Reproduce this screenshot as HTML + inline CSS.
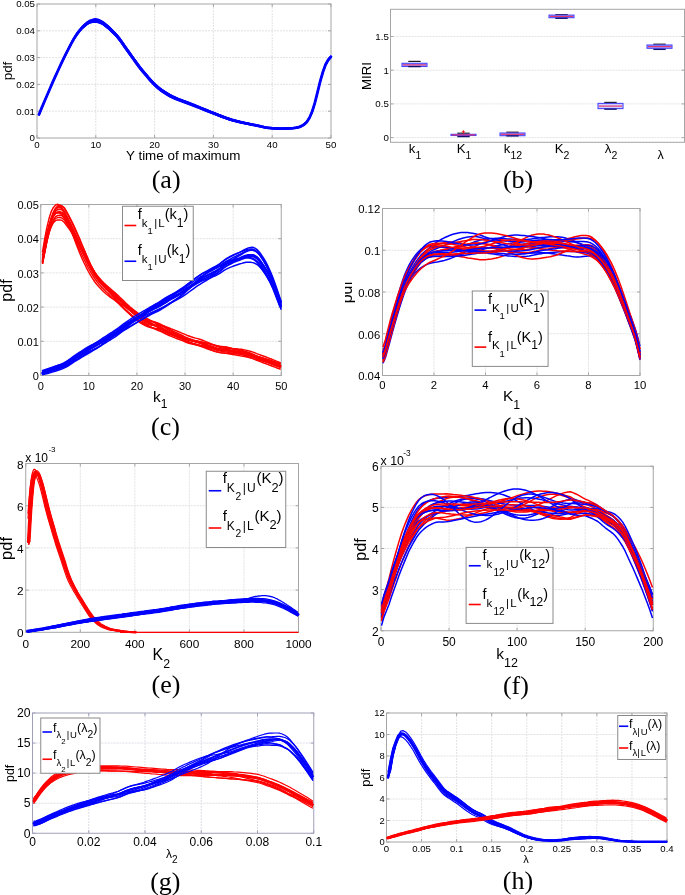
<!DOCTYPE html>
<html><head><meta charset="utf-8"><style>
html,body{margin:0;padding:0;background:#fff;}
svg{display:block;will-change:transform;}
text{fill:#000;}
</style></head><body>
<svg width="685" height="895" viewBox="0 0 685 895">
<rect width="685" height="895" fill="#fff"/>
<line x1="95.8" y1="4" x2="95.8" y2="138" stroke="#e2e2e2" stroke-width="1" stroke-dasharray="2,1"/>
<line x1="154.6" y1="4" x2="154.6" y2="138" stroke="#e2e2e2" stroke-width="1" stroke-dasharray="2,1"/>
<line x1="213.4" y1="4" x2="213.4" y2="138" stroke="#e2e2e2" stroke-width="1" stroke-dasharray="2,1"/>
<line x1="272.2" y1="4" x2="272.2" y2="138" stroke="#e2e2e2" stroke-width="1" stroke-dasharray="2,1"/>
<line x1="37" y1="111.2" x2="331" y2="111.2" stroke="#e2e2e2" stroke-width="1" stroke-dasharray="2,1"/>
<line x1="37" y1="84.4" x2="331" y2="84.4" stroke="#e2e2e2" stroke-width="1" stroke-dasharray="2,1"/>
<line x1="37" y1="57.6" x2="331" y2="57.6" stroke="#e2e2e2" stroke-width="1" stroke-dasharray="2,1"/>
<line x1="37" y1="30.8" x2="331" y2="30.8" stroke="#e2e2e2" stroke-width="1" stroke-dasharray="2,1"/>
<rect x="37" y="4" width="294" height="134" fill="none" stroke="#a6a6a6" stroke-width="1"/>
<line x1="37" y1="138" x2="37" y2="135" stroke="#a6a6a6" stroke-width="1"/>
<line x1="37" y1="4" x2="37" y2="7" stroke="#a6a6a6" stroke-width="1"/>
<line x1="95.8" y1="138" x2="95.8" y2="135" stroke="#a6a6a6" stroke-width="1"/>
<line x1="95.8" y1="4" x2="95.8" y2="7" stroke="#a6a6a6" stroke-width="1"/>
<line x1="154.6" y1="138" x2="154.6" y2="135" stroke="#a6a6a6" stroke-width="1"/>
<line x1="154.6" y1="4" x2="154.6" y2="7" stroke="#a6a6a6" stroke-width="1"/>
<line x1="213.4" y1="138" x2="213.4" y2="135" stroke="#a6a6a6" stroke-width="1"/>
<line x1="213.4" y1="4" x2="213.4" y2="7" stroke="#a6a6a6" stroke-width="1"/>
<line x1="272.2" y1="138" x2="272.2" y2="135" stroke="#a6a6a6" stroke-width="1"/>
<line x1="272.2" y1="4" x2="272.2" y2="7" stroke="#a6a6a6" stroke-width="1"/>
<line x1="331" y1="138" x2="331" y2="135" stroke="#a6a6a6" stroke-width="1"/>
<line x1="331" y1="4" x2="331" y2="7" stroke="#a6a6a6" stroke-width="1"/>
<line x1="37" y1="138" x2="40" y2="138" stroke="#a6a6a6" stroke-width="1"/>
<line x1="331" y1="138" x2="328" y2="138" stroke="#a6a6a6" stroke-width="1"/>
<line x1="37" y1="111.2" x2="40" y2="111.2" stroke="#a6a6a6" stroke-width="1"/>
<line x1="331" y1="111.2" x2="328" y2="111.2" stroke="#a6a6a6" stroke-width="1"/>
<line x1="37" y1="84.4" x2="40" y2="84.4" stroke="#a6a6a6" stroke-width="1"/>
<line x1="331" y1="84.4" x2="328" y2="84.4" stroke="#a6a6a6" stroke-width="1"/>
<line x1="37" y1="57.6" x2="40" y2="57.6" stroke="#a6a6a6" stroke-width="1"/>
<line x1="331" y1="57.6" x2="328" y2="57.6" stroke="#a6a6a6" stroke-width="1"/>
<line x1="37" y1="30.8" x2="40" y2="30.8" stroke="#a6a6a6" stroke-width="1"/>
<line x1="331" y1="30.8" x2="328" y2="30.8" stroke="#a6a6a6" stroke-width="1"/>
<line x1="37" y1="4" x2="40" y2="4" stroke="#a6a6a6" stroke-width="1"/>
<line x1="331" y1="4" x2="328" y2="4" stroke="#a6a6a6" stroke-width="1"/>
<path d="M39.0,114.5 41.7,107.9 44.4,101.5 47.1,95.2 49.8,89.0 52.4,82.9 55.1,76.9 57.8,71.0 60.5,65.2 63.1,59.6 65.8,54.1 68.5,48.8 71.2,43.6 73.9,38.8 76.5,34.7 79.2,31.1 81.9,27.9 84.6,25.4 87.2,23.2 89.9,21.6 92.6,20.8 95.3,20.4 98.0,20.8 100.6,21.9 103.3,23.5 106.0,25.5 108.7,27.8 111.3,30.3 114.0,32.9 116.7,35.8 119.4,39.0 122.1,42.8 124.7,46.6 127.4,50.4 130.1,54.2 132.8,58.0 135.4,61.7 138.1,65.3 140.8,68.8 143.5,72.1 146.2,75.2 148.8,78.3 151.5,81.3 154.2,84.1 156.9,86.6 159.5,88.9 162.2,90.8 164.9,92.6 167.6,94.3 170.2,95.9 172.9,97.2 175.6,98.4 178.3,99.5 181.0,100.5 183.6,101.5 186.3,102.4 189.0,103.4 191.7,104.5 194.3,105.5 197.0,106.6 199.7,107.7 202.4,108.8 205.1,109.9 207.7,110.9 210.4,112.0 213.1,113.0 215.8,114.0 218.4,115.1 221.1,116.1 223.8,117.2 226.5,118.1 229.2,119.1 231.8,119.9 234.5,120.6 237.2,121.3 239.9,122.0 242.5,122.6 245.2,123.2 247.9,123.7 250.6,124.3 253.3,124.8 255.9,125.3 258.6,125.9 261.3,126.5 264.0,127.1 266.6,127.6 269.3,127.9 272.0,128.2 274.7,128.4 277.3,128.5 280.0,128.6 282.7,128.6 285.4,128.5 288.1,128.4 290.7,128.3 293.4,128.1 296.1,127.7 298.8,127.2 301.4,126.1 304.1,124.5 306.8,121.9 309.5,117.8 312.2,111.5 314.8,103.2 317.5,92.3 320.2,81.4 322.9,72.0 325.5,64.8 328.2,59.9 330.9,56.8" fill="none" stroke="#0000ff" stroke-width="2.8" stroke-linejoin="round" stroke-linecap="round"/>
<path d="M39.0,115.2 41.7,108.7 44.4,102.2 47.1,95.9 49.8,89.6 52.4,83.5 55.1,77.4 57.8,71.4 60.5,65.4 63.1,59.5 65.8,53.7 68.5,48.1 71.2,42.7 73.9,37.7 76.5,33.6 79.2,29.9 81.9,26.7 84.6,24.0 87.2,21.8 89.9,20.1 92.6,19.2 95.3,18.7 98.0,19.1 100.6,20.2 103.3,21.8 106.0,23.9 108.7,26.3 111.3,28.9 114.0,31.7 116.7,34.7 119.4,38.1 122.1,42.0 124.7,45.9 127.4,49.8 130.1,53.7 132.8,57.5 135.4,61.2 138.1,64.9 140.8,68.4 143.5,71.7 146.2,74.8 148.8,77.9 151.5,80.9 154.2,83.7 156.9,86.2 159.5,88.5 162.2,90.4 164.9,92.2 167.6,94.0 170.2,95.6 172.9,97.0 175.6,98.3 178.3,99.4 181.0,100.5 183.6,101.5 186.3,102.6 189.0,103.6 191.7,104.7 194.3,105.9 197.0,107.0 199.7,108.2 202.4,109.4 205.1,110.5 207.7,111.7 210.4,112.8 213.1,113.9 215.8,115.0 218.4,116.0 221.1,117.1 223.8,118.1 226.5,119.0 229.2,119.9 231.8,120.7 234.5,121.4 237.2,122.0 239.9,122.6 242.5,123.1 245.2,123.7 247.9,124.2 250.6,124.7 253.3,125.2 255.9,125.7 258.6,126.2 261.3,126.8 264.0,127.4 266.6,128.0 269.3,128.4 272.0,128.6 274.7,128.9 277.3,129.0 280.0,129.2 282.7,129.2 285.4,129.2 288.1,129.1 290.7,128.9 293.4,128.7 296.1,128.4 298.8,127.8 301.4,126.8 304.1,125.2 306.8,122.7 309.5,118.6 312.2,112.4 314.8,104.2 317.5,93.3 320.2,82.4 322.9,73.1 325.5,66.0 328.2,61.0 330.9,57.9" fill="none" stroke="#0000ff" stroke-width="1.2" stroke-linejoin="round"/>
<path d="M39.0,114.4 41.7,107.9 44.4,101.4 47.1,95.0 49.8,88.8 52.4,82.6 55.1,76.5 57.8,70.6 60.5,64.7 63.1,59.0 65.8,53.6 68.5,48.2 71.2,43.0 73.9,38.2 76.5,34.2 79.2,30.5 81.9,27.3 84.6,24.8 87.2,22.6 89.9,20.9 92.6,20.0 95.3,19.5 98.0,19.9 100.6,20.9 103.3,22.4 106.0,24.4 108.7,26.5 111.3,29.0 114.0,31.6 116.7,34.4 119.4,37.6 122.1,41.4 124.7,45.2 127.4,49.0 130.1,52.7 132.8,56.5 135.4,60.2 138.1,63.8 140.8,67.3 143.5,70.6 146.2,73.7 148.8,76.8 151.5,79.8 154.2,82.6 156.9,85.2 159.5,87.4 162.2,89.4 164.9,91.2 167.6,93.0 170.2,94.7 172.9,96.1 175.6,97.3 178.3,98.5 181.0,99.6 183.6,100.6 186.3,101.6 189.0,102.6 191.7,103.7 194.3,104.8 197.0,105.9 199.7,107.0 202.4,108.1 205.1,109.1 207.7,110.2 210.4,111.2 213.1,112.2 215.8,113.3 218.4,114.4 221.1,115.4 223.8,116.5 226.5,117.5 229.2,118.5 231.8,119.3 234.5,120.1 237.2,120.8 239.9,121.5 242.5,122.2 245.2,122.8 247.9,123.4 250.6,123.9 253.3,124.5 255.9,125.1 258.6,125.7 261.3,126.3 264.0,126.9 266.6,127.4 269.3,127.8 272.0,128.1 274.7,128.3 277.3,128.5 280.0,128.6 282.7,128.6 285.4,128.5 288.1,128.4 290.7,128.3 293.4,128.1 296.1,127.8 298.8,127.2 301.4,126.2 304.1,124.5 306.8,121.9 309.5,117.9 312.2,111.5 314.8,103.3 317.5,92.3 320.2,81.4 322.9,72.0 325.5,64.8 328.2,59.8 330.9,56.7" fill="none" stroke="#0000ff" stroke-width="1.2" stroke-linejoin="round"/>
<path d="M39.0,114.5 41.7,108.0 44.4,101.5 47.1,95.2 49.8,89.0 52.4,82.9 55.1,76.9 57.8,71.0 60.5,65.2 63.1,59.5 65.8,53.9 68.5,48.5 71.2,43.2 73.9,38.3 76.5,34.2 79.2,30.5 81.9,27.3 84.6,24.7 87.2,22.4 89.9,20.7 92.6,19.8 95.3,19.2 98.0,19.6 100.6,20.6 103.3,22.1 106.0,24.1 108.7,26.3 111.3,28.8 114.0,31.5 116.7,34.4 119.4,37.7 122.1,41.6 124.7,45.5 127.4,49.3 130.1,53.1 132.8,56.9 135.4,60.7 138.1,64.3 140.8,67.8 143.5,71.1 146.2,74.2 148.8,77.3 151.5,80.3 154.2,83.0 156.9,85.6 159.5,87.8 162.2,89.8 164.9,91.5 167.6,93.3 170.2,94.9 172.9,96.3 175.6,97.5 178.3,98.7 181.0,99.8 183.6,100.9 186.3,101.9 189.0,103.0 191.7,104.1 194.3,105.3 197.0,106.4 199.7,107.6 202.4,108.8 205.1,110.0 207.7,111.1 210.4,112.3 213.1,113.4 215.8,114.6 218.4,115.7 221.1,116.9 223.8,118.0 226.5,119.0 229.2,119.9 231.8,120.8 234.5,121.5 237.2,122.2 239.9,122.9 242.5,123.4 245.2,124.0 247.9,124.5 250.6,125.0 253.3,125.4 255.9,125.9 258.6,126.4 261.3,126.9 264.0,127.3 266.6,127.7 269.3,128.0 272.0,128.1 274.7,128.3 277.3,128.4 280.0,128.4 282.7,128.4 285.4,128.3 288.1,128.2 290.7,128.1 293.4,127.9 296.1,127.5 298.8,126.9 301.4,125.8 304.1,124.2 306.8,121.6 309.5,117.5 312.2,111.2 314.8,103.0 317.5,92.1 320.2,81.2 322.9,71.9 325.5,64.8 328.2,59.9 330.9,56.8" fill="none" stroke="#0000ff" stroke-width="1.2" stroke-linejoin="round"/>
<path d="M39.0,114.3 41.7,107.8 44.4,101.4 47.1,95.1 49.8,88.9 52.4,82.9 55.1,77.0 57.8,71.2 60.5,65.6 63.1,60.1 65.8,54.7 68.5,49.5 71.2,44.4 73.9,39.7 76.5,35.8 79.2,32.2 81.9,29.1 84.6,26.7 87.2,24.6 89.9,23.1 92.6,22.4 95.3,22.1 98.0,22.6 100.6,23.6 103.3,25.1 106.0,27.2 108.7,29.4 111.3,31.8 114.0,34.4 116.7,37.2 119.4,40.4 122.1,44.0 124.7,47.7 127.4,51.4 130.1,55.1 132.8,58.7 135.4,62.3 138.1,65.7 140.8,69.1 143.5,72.2 146.2,75.3 148.8,78.2 151.5,81.0 154.2,83.6 156.9,85.9 159.5,88.0 162.2,89.8 164.9,91.5 167.6,93.1 170.2,94.6 172.9,95.9 175.6,97.1 178.3,98.2 181.0,99.2 183.6,100.2 186.3,101.2 189.0,102.2 191.7,103.3 194.3,104.4 197.0,105.5 199.7,106.6 202.4,107.7 205.1,108.8 207.7,109.9 210.4,111.0 213.1,112.1 215.8,113.3 218.4,114.4 221.1,115.6 223.8,116.7 226.5,117.8 229.2,118.8 231.8,119.7 234.5,120.6 237.2,121.3 239.9,122.0 242.5,122.7 245.2,123.3 247.9,123.9 250.6,124.4 253.3,125.0 255.9,125.5 258.6,126.1 261.3,126.7 264.0,127.3 266.6,127.7 269.3,128.0 272.0,128.2 274.7,128.4 277.3,128.5 280.0,128.6 282.7,128.5 285.4,128.5 288.1,128.3 290.7,128.2 293.4,128.0 296.1,127.6 298.8,127.0 301.4,125.9 304.1,124.2 306.8,121.6 309.5,117.4 312.2,111.1 314.8,102.8 317.5,91.8 320.2,80.9 322.9,71.5 325.5,64.4 328.2,59.5 330.9,56.4" fill="none" stroke="#0000ff" stroke-width="1.2" stroke-linejoin="round"/>
<path d="M39.0,113.8 41.7,107.3 44.4,100.8 47.1,94.4 49.8,88.2 52.4,82.1 55.1,76.0 57.8,70.2 60.5,64.4 63.1,58.9 65.8,53.5 68.5,48.3 71.2,43.2 73.9,38.5 76.5,34.5 79.2,30.9 81.9,27.8 84.6,25.2 87.2,23.1 89.9,21.4 92.6,20.6 95.3,20.1 98.0,20.4 100.6,21.4 103.3,22.8 106.0,24.7 108.7,26.8 111.3,29.1 114.0,31.7 116.7,34.4 119.4,37.6 122.1,41.3 124.7,45.1 127.4,48.9 130.1,52.7 132.8,56.5 135.4,60.2 138.1,63.9 140.8,67.5 143.5,70.9 146.2,74.1 148.8,77.3 151.5,80.4 154.2,83.3 156.9,86.0 159.5,88.4 162.2,90.4 164.9,92.3 167.6,94.1 170.2,95.8 172.9,97.2 175.6,98.4 178.3,99.5 181.0,100.5 183.6,101.5 186.3,102.5 189.0,103.5 191.7,104.5 194.3,105.5 197.0,106.5 199.7,107.6 202.4,108.6 205.1,109.6 207.7,110.6 210.4,111.5 213.1,112.5 215.8,113.5 218.4,114.5 221.1,115.5 223.8,116.5 226.5,117.5 229.2,118.4 231.8,119.2 234.5,120.0 237.2,120.7 239.9,121.4 242.5,122.1 245.2,122.7 247.9,123.3 250.6,123.9 253.3,124.4 255.9,125.0 258.6,125.6 261.3,126.3 264.0,126.9 266.6,127.4 269.3,127.8 272.0,128.0 274.7,128.2 277.3,128.4 280.0,128.5 282.7,128.5 285.4,128.4 288.1,128.3 290.7,128.1 293.4,127.9 296.1,127.5 298.8,126.9 301.4,125.8 304.1,124.0 306.8,121.4 309.5,117.2 312.2,110.8 314.8,102.4 317.5,91.4 320.2,80.4 322.9,70.9 325.5,63.7 328.2,58.8 330.9,55.6" fill="none" stroke="#0000ff" stroke-width="1.2" stroke-linejoin="round"/>
<path d="M39.0,114.2 41.7,107.6 44.4,101.2 47.1,94.9 49.8,88.7 52.4,82.6 55.1,76.6 57.8,70.8 60.5,65.2 63.1,59.7 65.8,54.4 68.5,49.2 71.2,44.1 73.9,39.4 76.5,35.5 79.2,31.9 81.9,28.9 84.6,26.4 87.2,24.4 89.9,22.9 92.6,22.2 95.3,21.8 98.0,22.3 100.6,23.3 103.3,24.8 106.0,26.8 108.7,29.0 111.3,31.4 114.0,34.0 116.7,36.7 119.4,39.9 122.1,43.5 124.7,47.3 127.4,51.0 130.1,54.6 132.8,58.3 135.4,61.9 138.1,65.5 140.8,68.9 143.5,72.2 146.2,75.3 148.8,78.4 151.5,81.4 154.2,84.1 156.9,86.6 159.5,88.9 162.2,90.9 164.9,92.6 167.6,94.4 170.2,96.0 172.9,97.3 175.6,98.5 178.3,99.7 181.0,100.7 183.6,101.7 186.3,102.7 189.0,103.7 191.7,104.8 194.3,105.8 197.0,106.9 199.7,108.0 202.4,109.1 205.1,110.2 207.7,111.3 210.4,112.4 213.1,113.4 215.8,114.5 218.4,115.5 221.1,116.6 223.8,117.6 226.5,118.6 229.2,119.5 231.8,120.3 234.5,121.1 237.2,121.8 239.9,122.4 242.5,123.1 245.2,123.7 247.9,124.3 250.6,124.8 253.3,125.4 255.9,126.0 258.6,126.6 261.3,127.2 264.0,127.8 266.6,128.3 269.3,128.6 272.0,128.8 274.7,129.0 277.3,129.1 280.0,129.1 282.7,129.0 285.4,128.9 288.1,128.7 290.7,128.5 293.4,128.3 296.1,127.9 298.8,127.3 301.4,126.2 304.1,124.5 306.8,121.9 309.5,117.8 312.2,111.4 314.8,103.1 317.5,92.1 320.2,81.1 322.9,71.6 325.5,64.4 328.2,59.5 330.9,56.3" fill="none" stroke="#0000ff" stroke-width="1.2" stroke-linejoin="round"/>
<path d="M39.0,114.6 41.7,108.1 44.4,101.7 47.1,95.5 49.8,89.4 52.4,83.4 55.1,77.5 57.8,71.8 60.5,66.1 63.1,60.5 65.8,55.0 68.5,49.6 71.2,44.3 73.9,39.4 76.5,35.2 79.2,31.5 81.9,28.1 84.6,25.5 87.2,23.2 89.9,21.5 92.6,20.5 95.3,20.0 98.0,20.3 100.6,21.3 103.3,22.7 106.0,24.8 108.7,27.0 111.3,29.5 114.0,32.3 116.7,35.3 119.4,38.7 122.1,42.6 124.7,46.7 127.4,50.6 130.1,54.5 132.8,58.4 135.4,62.2 138.1,65.9 140.8,69.5 143.5,72.9 146.2,76.2 148.8,79.3 151.5,82.4 154.2,85.1 156.9,87.7 159.5,89.9 162.2,91.8 164.9,93.5 167.6,95.2 170.2,96.7 172.9,97.9 175.6,99.0 178.3,100.1 181.0,101.0 183.6,101.9 186.3,102.7 189.0,103.6 191.7,104.6 194.3,105.5 197.0,106.5 199.7,107.5 202.4,108.4 205.1,109.4 207.7,110.3 210.4,111.3 213.1,112.2 215.8,113.2 218.4,114.2 221.1,115.2 223.8,116.2 226.5,117.2 229.2,118.1 231.8,119.0 234.5,119.8 237.2,120.5 239.9,121.1 242.5,121.8 245.2,122.4 247.9,122.9 250.6,123.5 253.3,124.0 255.9,124.6 258.6,125.2 261.3,125.8 264.0,126.4 266.6,126.9 269.3,127.3 272.0,127.5 274.7,127.7 277.3,127.8 280.0,127.9 282.7,127.9 285.4,127.9 288.1,127.8 290.7,127.7 293.4,127.5 296.1,127.1 298.8,126.5 301.4,125.5 304.1,123.8 306.8,121.2 309.5,117.2 312.2,110.9 314.8,102.7 317.5,91.9 320.2,81.1 322.9,71.8 325.5,64.8 328.2,60.0 330.9,57.0" fill="none" stroke="#0000ff" stroke-width="1.2" stroke-linejoin="round"/>
<path d="M39.0,114.4 41.7,107.8 44.4,101.4 47.1,95.0 49.8,88.7 52.4,82.6 55.1,76.6 57.8,70.7 60.5,64.9 63.1,59.3 65.8,53.9 68.5,48.6 71.2,43.5 73.9,38.8 76.5,34.8 79.2,31.3 81.9,28.2 84.6,25.8 87.2,23.8 89.9,22.3 92.6,21.6 95.3,21.3 98.0,21.8 100.6,23.0 103.3,24.6 106.0,26.8 108.7,29.0 111.3,31.6 114.0,34.3 116.7,37.2 119.4,40.5 122.1,44.3 124.7,48.1 127.4,51.9 130.1,55.7 132.8,59.5 135.4,63.2 138.1,66.8 140.8,70.3 143.5,73.6 146.2,76.7 148.8,79.8 151.5,82.8 154.2,85.5 156.9,88.1 159.5,90.3 162.2,92.2 164.9,94.0 167.6,95.7 170.2,97.2 172.9,98.5 175.6,99.7 178.3,100.8 181.0,101.8 183.6,102.7 186.3,103.7 189.0,104.6 191.7,105.7 194.3,106.7 197.0,107.8 199.7,108.8 202.4,109.9 205.1,111.0 207.7,112.0 210.4,113.0 213.1,114.0 215.8,114.9 218.4,115.9 221.1,116.9 223.8,117.8 226.5,118.7 229.2,119.6 231.8,120.3 234.5,121.0 237.2,121.7 239.9,122.3 242.5,122.8 245.2,123.4 247.9,124.0 250.6,124.5 253.3,125.0 255.9,125.6 258.6,126.2 261.3,126.8 264.0,127.4 266.6,127.9 269.3,128.3 272.0,128.6 274.7,128.8 277.3,128.9 280.0,129.0 282.7,129.0 285.4,128.9 288.1,128.7 290.7,128.6 293.4,128.4 296.1,128.0 298.8,127.4 301.4,126.3 304.1,124.6 306.8,122.1 309.5,118.0 312.2,111.6 314.8,103.3 317.5,92.4 320.2,81.5 322.9,72.0 325.5,64.9 328.2,59.9 330.9,56.7" fill="none" stroke="#0000ff" stroke-width="1.2" stroke-linejoin="round"/>
<text x="35" y="141.4" font-size="9.7" text-anchor="end" font-family='"Liberation Sans", sans-serif' >0</text>
<text x="35" y="114.59" font-size="9.7" text-anchor="end" font-family='"Liberation Sans", sans-serif' >0.01</text>
<text x="35" y="87.8" font-size="9.7" text-anchor="end" font-family='"Liberation Sans", sans-serif' >0.02</text>
<text x="35" y="61" font-size="9.7" text-anchor="end" font-family='"Liberation Sans", sans-serif' >0.03</text>
<text x="35" y="34.19" font-size="9.7" text-anchor="end" font-family='"Liberation Sans", sans-serif' >0.04</text>
<text x="35" y="7.39" font-size="9.7" text-anchor="end" font-family='"Liberation Sans", sans-serif' >0.05</text>
<text x="37" y="148.29" font-size="9.7" text-anchor="middle" font-family='"Liberation Sans", sans-serif' >0</text>
<text x="95.8" y="148.29" font-size="9.7" text-anchor="middle" font-family='"Liberation Sans", sans-serif' >10</text>
<text x="154.6" y="148.29" font-size="9.7" text-anchor="middle" font-family='"Liberation Sans", sans-serif' >20</text>
<text x="213.4" y="148.29" font-size="9.7" text-anchor="middle" font-family='"Liberation Sans", sans-serif' >30</text>
<text x="272.2" y="148.29" font-size="9.7" text-anchor="middle" font-family='"Liberation Sans", sans-serif' >40</text>
<text x="331" y="148.29" font-size="9.7" text-anchor="middle" font-family='"Liberation Sans", sans-serif' >50</text>
<text transform="translate(12,71) rotate(-90)" font-size="13.4" text-anchor="middle" font-family='"Liberation Sans", sans-serif'>pdf</text>
<text x="183.2" y="160.4" font-size="13.4" text-anchor="middle" font-family='"Liberation Sans", sans-serif' >Y time of maximum</text>
<text x="151.71" y="187.84" font-size="26" text-anchor="start" font-family='"Liberation Serif", serif' >(a)</text>
<line x1="390.5" y1="137.6" x2="684.5" y2="137.6" stroke="#e2e2e2" stroke-width="1" stroke-dasharray="2,1"/>
<line x1="390.5" y1="103.9" x2="684.5" y2="103.9" stroke="#e2e2e2" stroke-width="1" stroke-dasharray="2,1"/>
<line x1="390.5" y1="70.2" x2="684.5" y2="70.2" stroke="#e2e2e2" stroke-width="1" stroke-dasharray="2,1"/>
<line x1="390.5" y1="36.5" x2="684.5" y2="36.5" stroke="#e2e2e2" stroke-width="1" stroke-dasharray="2,1"/>
<rect x="390.5" y="9.3" width="294" height="133" fill="none" stroke="#a6a6a6" stroke-width="1"/>
<line x1="390.5" y1="137.6" x2="393.5" y2="137.6" stroke="#a6a6a6" stroke-width="1"/>
<line x1="684.5" y1="137.6" x2="681.5" y2="137.6" stroke="#a6a6a6" stroke-width="1"/>
<line x1="390.5" y1="103.9" x2="393.5" y2="103.9" stroke="#a6a6a6" stroke-width="1"/>
<line x1="684.5" y1="103.9" x2="681.5" y2="103.9" stroke="#a6a6a6" stroke-width="1"/>
<line x1="390.5" y1="70.2" x2="393.5" y2="70.2" stroke="#a6a6a6" stroke-width="1"/>
<line x1="684.5" y1="70.2" x2="681.5" y2="70.2" stroke="#a6a6a6" stroke-width="1"/>
<line x1="390.5" y1="36.5" x2="393.5" y2="36.5" stroke="#a6a6a6" stroke-width="1"/>
<line x1="684.5" y1="36.5" x2="681.5" y2="36.5" stroke="#a6a6a6" stroke-width="1"/>
<line x1="408.3" y1="61.4" x2="420.7" y2="61.4" stroke="#1a1a1a" stroke-width="1.2"/>
<rect x="402" y="63.3" width="25" height="3.2" fill="#a8a8ff" stroke="#4848ff" stroke-width="1.1"/>
<line x1="408.3" y1="66.6" x2="420.7" y2="66.6" stroke="#10106a" stroke-width="1.3"/>
<line x1="402.8" y1="64.9" x2="426.2" y2="64.9" stroke="#e83068" stroke-width="1.1"/>
<line x1="457.3" y1="133.2" x2="469.7" y2="133.2" stroke="#1a1a1a" stroke-width="1.2"/>
<rect x="451" y="134.3" width="25" height="1.2" fill="#7030c0" stroke="#4848ff" stroke-width="1.1"/>
<line x1="457.3" y1="136.6" x2="469.7" y2="136.6" stroke="#10106a" stroke-width="1.3"/>
<line x1="451.8" y1="134.9" x2="475.2" y2="134.9" stroke="#e83068" stroke-width="1.1"/>
<line x1="506.3" y1="132.2" x2="518.7" y2="132.2" stroke="#1a1a1a" stroke-width="1.2"/>
<rect x="500" y="133" width="25" height="2.7" fill="#a8a8ff" stroke="#4848ff" stroke-width="1.1"/>
<line x1="506.3" y1="135.9" x2="518.7" y2="135.9" stroke="#10106a" stroke-width="1.3"/>
<line x1="500.8" y1="134.3" x2="524.2" y2="134.3" stroke="#e83068" stroke-width="1.1"/>
<line x1="555.3" y1="14.6" x2="567.7" y2="14.6" stroke="#1a1a1a" stroke-width="1.2"/>
<rect x="549" y="15.1" width="25" height="2.6" fill="#a8a8ff" stroke="#4848ff" stroke-width="1.1"/>
<line x1="555.3" y1="18.3" x2="567.7" y2="18.3" stroke="#10106a" stroke-width="1.3"/>
<line x1="549.8" y1="16.4" x2="573.2" y2="16.4" stroke="#e83068" stroke-width="1.1"/>
<line x1="604.3" y1="102.4" x2="616.7" y2="102.4" stroke="#1a1a1a" stroke-width="1.2"/>
<rect x="598" y="103.4" width="25" height="5.2" fill="#d0d0ff" stroke="#4848ff" stroke-width="1.1"/>
<line x1="604.3" y1="109.2" x2="616.7" y2="109.2" stroke="#10106a" stroke-width="1.3"/>
<line x1="598.8" y1="106.1" x2="622.2" y2="106.1" stroke="#e83068" stroke-width="1.1"/>
<line x1="653.3" y1="44.2" x2="665.7" y2="44.2" stroke="#1a1a1a" stroke-width="1.2"/>
<rect x="647" y="45" width="25" height="3.3" fill="#a8a8ff" stroke="#4848ff" stroke-width="1.1"/>
<line x1="653.3" y1="49.4" x2="665.7" y2="49.4" stroke="#10106a" stroke-width="1.3"/>
<line x1="647.8" y1="46.6" x2="671.2" y2="46.6" stroke="#e83068" stroke-width="1.1"/>
<path d="M463.4,130.3 v3 M461.9,131.8 h3" stroke="#ff0000" stroke-width="0.9"/>
<text x="388.8" y="141" font-size="9.7" text-anchor="end" font-family='"Liberation Sans", sans-serif' >0</text>
<text x="388.8" y="107.29" font-size="9.7" text-anchor="end" font-family='"Liberation Sans", sans-serif' >0.5</text>
<text x="388.8" y="73.59" font-size="9.7" text-anchor="end" font-family='"Liberation Sans", sans-serif' >1</text>
<text x="388.8" y="39.89" font-size="9.7" text-anchor="end" font-family='"Liberation Sans", sans-serif' >1.5</text>
<text transform="translate(371.2,76.05) rotate(-90)" font-size="13.3" text-anchor="middle" font-family='"Liberation Sans", sans-serif'>MIRI</text>
<text x="415" y="153.1" font-size="13.2" font-family='"Liberation Sans", sans-serif' text-anchor="middle">k<tspan font-size="10.5" dy="6.2">1</tspan></text>
<text x="464" y="153.1" font-size="13.2" font-family='"Liberation Sans", sans-serif' text-anchor="middle">K<tspan font-size="10.5" dy="6.2">1</tspan></text>
<text x="513" y="153.1" font-size="13.2" font-family='"Liberation Sans", sans-serif' text-anchor="middle">k<tspan font-size="10.5" dy="6.2">12</tspan></text>
<text x="562" y="153.1" font-size="13.2" font-family='"Liberation Sans", sans-serif' text-anchor="middle">K<tspan font-size="10.5" dy="6.2">2</tspan></text>
<text x="611" y="153.1" font-size="13.2" font-family='"Liberation Sans", sans-serif' text-anchor="middle">λ<tspan font-size="10.5" dy="6.2">2</tspan></text>
<text x="660.5" y="158.7" font-size="12.5" text-anchor="middle" font-family='"Liberation Sans", sans-serif' >λ</text>
<text x="502.96" y="187.84" font-size="26" text-anchor="start" font-family='"Liberation Serif", serif' >(b)</text>
<line x1="88.85" y1="204.5" x2="88.85" y2="375.5" stroke="#e2e2e2" stroke-width="1" stroke-dasharray="2,1"/>
<line x1="136.95" y1="204.5" x2="136.95" y2="375.5" stroke="#e2e2e2" stroke-width="1" stroke-dasharray="2,1"/>
<line x1="185.05" y1="204.5" x2="185.05" y2="375.5" stroke="#e2e2e2" stroke-width="1" stroke-dasharray="2,1"/>
<line x1="233.15" y1="204.5" x2="233.15" y2="375.5" stroke="#e2e2e2" stroke-width="1" stroke-dasharray="2,1"/>
<line x1="40.75" y1="341.3" x2="281.25" y2="341.3" stroke="#e2e2e2" stroke-width="1" stroke-dasharray="2,1"/>
<line x1="40.75" y1="307.1" x2="281.25" y2="307.1" stroke="#e2e2e2" stroke-width="1" stroke-dasharray="2,1"/>
<line x1="40.75" y1="272.9" x2="281.25" y2="272.9" stroke="#e2e2e2" stroke-width="1" stroke-dasharray="2,1"/>
<line x1="40.75" y1="238.7" x2="281.25" y2="238.7" stroke="#e2e2e2" stroke-width="1" stroke-dasharray="2,1"/>
<rect x="40.75" y="204.5" width="240.5" height="171" fill="none" stroke="#a6a6a6" stroke-width="1"/>
<line x1="40.75" y1="375.5" x2="40.75" y2="372.5" stroke="#a6a6a6" stroke-width="1"/>
<line x1="40.75" y1="204.5" x2="40.75" y2="207.5" stroke="#a6a6a6" stroke-width="1"/>
<line x1="88.85" y1="375.5" x2="88.85" y2="372.5" stroke="#a6a6a6" stroke-width="1"/>
<line x1="88.85" y1="204.5" x2="88.85" y2="207.5" stroke="#a6a6a6" stroke-width="1"/>
<line x1="136.95" y1="375.5" x2="136.95" y2="372.5" stroke="#a6a6a6" stroke-width="1"/>
<line x1="136.95" y1="204.5" x2="136.95" y2="207.5" stroke="#a6a6a6" stroke-width="1"/>
<line x1="185.05" y1="375.5" x2="185.05" y2="372.5" stroke="#a6a6a6" stroke-width="1"/>
<line x1="185.05" y1="204.5" x2="185.05" y2="207.5" stroke="#a6a6a6" stroke-width="1"/>
<line x1="233.15" y1="375.5" x2="233.15" y2="372.5" stroke="#a6a6a6" stroke-width="1"/>
<line x1="233.15" y1="204.5" x2="233.15" y2="207.5" stroke="#a6a6a6" stroke-width="1"/>
<line x1="281.25" y1="375.5" x2="281.25" y2="372.5" stroke="#a6a6a6" stroke-width="1"/>
<line x1="281.25" y1="204.5" x2="281.25" y2="207.5" stroke="#a6a6a6" stroke-width="1"/>
<line x1="40.75" y1="375.5" x2="43.75" y2="375.5" stroke="#a6a6a6" stroke-width="1"/>
<line x1="281.25" y1="375.5" x2="278.25" y2="375.5" stroke="#a6a6a6" stroke-width="1"/>
<line x1="40.75" y1="341.3" x2="43.75" y2="341.3" stroke="#a6a6a6" stroke-width="1"/>
<line x1="281.25" y1="341.3" x2="278.25" y2="341.3" stroke="#a6a6a6" stroke-width="1"/>
<line x1="40.75" y1="307.1" x2="43.75" y2="307.1" stroke="#a6a6a6" stroke-width="1"/>
<line x1="281.25" y1="307.1" x2="278.25" y2="307.1" stroke="#a6a6a6" stroke-width="1"/>
<line x1="40.75" y1="272.9" x2="43.75" y2="272.9" stroke="#a6a6a6" stroke-width="1"/>
<line x1="281.25" y1="272.9" x2="278.25" y2="272.9" stroke="#a6a6a6" stroke-width="1"/>
<line x1="40.75" y1="238.7" x2="43.75" y2="238.7" stroke="#a6a6a6" stroke-width="1"/>
<line x1="281.25" y1="238.7" x2="278.25" y2="238.7" stroke="#a6a6a6" stroke-width="1"/>
<line x1="40.75" y1="204.5" x2="43.75" y2="204.5" stroke="#a6a6a6" stroke-width="1"/>
<line x1="281.25" y1="204.5" x2="278.25" y2="204.5" stroke="#a6a6a6" stroke-width="1"/>
<path d="M42.5,262.0 44.7,248.5 46.9,237.0 49.1,227.8 51.2,220.9 53.4,216.1 55.6,213.1 57.8,212.1 60.0,211.8 62.2,212.8 64.4,215.2 66.5,218.9 68.7,222.6 70.9,226.8 73.1,231.3 75.3,236.0 77.5,240.8 79.7,245.7 81.8,250.5 84.0,255.2 86.2,260.0 88.4,264.5 90.6,268.5 92.8,272.3 94.9,275.8 97.1,278.8 99.3,281.6 101.5,284.1 103.7,286.4 105.9,288.5 108.1,290.4 110.2,292.2 112.4,294.2 114.6,296.1 116.8,298.0 119.0,300.0 121.2,302.1 123.4,304.3 125.5,306.4 127.7,308.4 129.9,310.4 132.1,312.3 134.3,314.0 136.5,315.8 138.7,317.4 140.8,318.9 143.0,320.3 145.2,321.6 147.4,322.7 149.6,323.7 151.8,324.6 154.0,325.3 156.1,326.1 158.3,327.0 160.5,327.9 162.7,328.9 164.9,329.9 167.1,331.0 169.2,332.0 171.4,332.9 173.6,333.8 175.8,334.7 178.0,335.6 180.2,336.4 182.4,337.3 184.5,338.3 186.7,339.1 188.9,339.9 191.1,340.6 193.3,341.2 195.5,341.8 197.7,342.3 199.8,343.0 202.0,343.7 204.2,344.5 206.4,345.3 208.6,346.0 210.8,346.8 213.0,347.5 215.1,348.3 217.3,348.9 219.5,349.4 221.7,349.7 223.9,350.0 226.1,350.3 228.3,350.5 230.4,350.8 232.6,351.1 234.8,351.5 237.0,351.8 239.2,352.2 241.4,352.6 243.5,353.0 245.7,353.5 247.9,354.0 250.1,354.7 252.3,355.4 254.5,356.3 256.7,357.1 258.8,358.0 261.0,358.8 263.2,359.6 265.4,360.4 267.6,361.2 269.8,362.0 272.0,362.8 274.1,363.7 276.3,364.5 278.5,365.3 280.7,366.2" fill="none" stroke="#ff0000" stroke-width="1.8" stroke-linejoin="round" stroke-linecap="round"/>
<path d="M42.5,258.7 44.7,245.7 46.9,234.6 49.1,225.7 51.2,218.9 53.4,214.2 55.6,211.1 57.8,209.7 60.0,209.3 62.2,210.1 64.4,212.9 66.5,216.4 68.7,220.3 70.9,224.5 73.1,229.0 75.3,233.6 77.5,238.3 79.7,243.0 81.8,247.7 84.0,252.3 86.2,256.9 88.4,261.2 90.6,265.1 92.8,268.9 94.9,272.3 97.1,275.4 99.3,278.1 101.5,280.6 103.7,282.8 105.9,284.8 108.1,286.7 110.2,288.6 112.4,290.5 114.6,292.4 116.8,294.4 119.0,296.4 121.2,298.5 123.4,300.6 125.5,302.7 127.7,304.7 129.9,306.7 132.1,308.6 134.3,310.4 136.5,312.1 138.7,313.8 140.8,315.5 143.0,317.1 145.2,318.8 147.4,320.4 149.6,321.9 151.8,323.4 154.0,324.8 156.1,326.1 158.3,327.4 160.5,328.7 162.7,330.0 164.9,331.3 167.1,332.4 169.2,333.5 171.4,334.5 173.6,335.4 175.8,336.2 178.0,337.0 180.2,337.7 182.4,338.5 184.5,339.2 186.7,339.8 188.9,340.3 191.1,340.7 193.3,341.0 195.5,341.3 197.7,341.6 199.8,342.0 202.0,342.4 204.2,342.8 206.4,343.2 208.6,343.6 210.8,344.1 213.0,344.7 215.1,345.2 217.3,345.7 219.5,346.1 221.7,346.4 223.9,346.7 226.1,347.0 228.3,347.4 230.4,347.9 232.6,348.6 234.8,349.3 237.0,350.1 239.2,351.0 241.4,351.8 243.5,352.7 245.7,353.5 247.9,354.4 250.1,355.4 252.3,356.4 254.5,357.4 256.7,358.4 258.8,359.2 261.0,360.0 263.2,360.8 265.4,361.5 267.6,362.2 269.8,363.0 272.0,363.7 274.1,364.4 276.3,365.2 278.5,365.9 280.7,366.5" fill="none" stroke="#ff0000" stroke-width="1.45" stroke-linejoin="round"/>
<path d="M42.5,263.1 44.7,252.5 46.9,241.0 49.1,231.7 51.2,224.6 53.4,219.6 55.6,216.6 57.8,215.5 60.0,215.2 62.2,215.9 64.4,217.8 66.5,221.2 68.7,224.6 70.9,228.3 73.1,232.4 75.3,236.6 77.5,240.8 79.7,245.2 81.8,249.7 84.0,254.0 86.2,258.2 88.4,262.2 90.6,265.8 92.8,269.3 94.9,272.7 97.1,275.7 99.3,278.5 101.5,281.1 103.7,283.5 105.9,285.7 108.1,287.8 110.2,289.8 112.4,291.8 114.6,293.9 116.8,296.0 119.0,298.2 121.2,300.5 123.4,302.8 125.5,305.1 127.7,307.4 129.9,309.6 132.1,311.8 134.3,313.9 136.5,315.9 138.7,317.9 140.8,319.8 143.0,321.6 145.2,323.3 147.4,324.9 149.6,326.3 151.8,327.5 154.0,328.6 156.1,329.6 158.3,330.5 160.5,331.4 162.7,332.4 164.9,333.5 167.1,334.5 169.2,335.5 171.4,336.4 173.6,337.3 175.8,338.2 178.0,339.0 180.2,339.8 182.4,340.7 184.5,341.6 186.7,342.5 188.9,343.2 191.1,343.9 193.3,344.3 195.5,344.7 197.7,345.1 199.8,345.5 202.0,346.0 204.2,346.5 206.4,347.0 208.6,347.6 210.8,348.1 213.0,348.7 215.1,349.3 217.3,349.8 219.5,350.2 221.7,350.4 223.9,350.6 226.1,350.8 228.3,350.9 230.4,351.2 232.6,351.5 234.8,351.8 237.0,352.1 239.2,352.5 241.4,352.9 243.5,353.4 245.7,354.0 247.9,354.6 250.1,355.2 252.3,356.0 254.5,356.9 256.7,357.8 258.8,358.7 261.0,359.5 263.2,360.4 265.4,361.2 267.6,362.0 269.8,362.8 272.0,363.7 274.1,364.5 276.3,365.4 278.5,366.2 280.7,367.1" fill="none" stroke="#ff0000" stroke-width="1.45" stroke-linejoin="round"/>
<path d="M42.5,261.6 44.7,248.2 46.9,236.8 49.1,227.7 51.2,220.9 53.4,216.2 55.6,213.3 57.8,212.3 60.0,212.1 62.2,213.1 64.4,215.6 66.5,219.3 68.7,223.0 70.9,227.1 73.1,231.6 75.3,236.2 77.5,240.9 79.7,245.6 81.8,250.2 84.0,254.8 86.2,259.3 88.4,263.5 90.6,267.3 92.8,270.9 94.9,274.2 97.1,277.2 99.3,279.9 101.5,282.3 103.7,284.6 105.9,286.6 108.1,288.5 110.2,290.4 112.4,292.3 114.6,294.2 116.8,296.1 119.0,298.1 121.2,300.2 123.4,302.3 125.5,304.3 127.7,306.2 129.9,308.1 132.1,309.9 134.3,311.5 136.5,313.1 138.7,314.5 140.8,315.8 143.0,317.0 145.2,318.2 147.4,319.2 149.6,320.1 151.8,321.1 154.0,322.0 156.1,322.9 158.3,323.9 160.5,325.1 162.7,326.4 164.9,327.7 167.1,329.1 169.2,330.3 171.4,331.4 173.6,332.5 175.8,333.6 178.0,334.6 180.2,335.6 182.4,336.6 184.5,337.6 186.7,338.6 188.9,339.5 191.1,340.3 193.3,341.0 195.5,341.7 197.7,342.4 199.8,343.2 202.0,344.1 204.2,345.0 206.4,346.0 208.6,346.8 210.8,347.7 213.0,348.6 215.1,349.5 217.3,350.2 219.5,350.8 221.7,351.2 223.9,351.6 226.1,352.0 228.3,352.3 230.4,352.7 232.6,353.0 234.8,353.3 237.0,353.7 239.2,354.0 241.4,354.4 243.5,354.8 245.7,355.2 247.9,355.6 250.1,356.1 252.3,356.7 254.5,357.3 256.7,358.0 258.8,358.7 261.0,359.4 263.2,360.1 265.4,360.8 267.6,361.5 269.8,362.3 272.0,363.1 274.1,363.9 276.3,364.7 278.5,365.5 280.7,366.3" fill="none" stroke="#ff0000" stroke-width="1.45" stroke-linejoin="round"/>
<path d="M42.5,263.8 44.7,251.3 46.9,241.0 49.1,232.8 51.2,226.8 53.4,222.7 55.6,220.4 57.8,220.0 60.0,219.9 62.2,220.4 64.4,222.5 66.5,225.4 68.7,228.3 70.9,231.4 73.1,234.9 75.3,238.5 77.5,242.3 79.7,246.3 81.8,250.2 84.0,254.0 86.2,258.0 88.4,261.9 90.6,265.7 92.8,269.5 94.9,273.2 97.1,276.7 99.3,279.9 101.5,282.9 103.7,285.7 105.9,288.3 108.1,290.7 110.2,293.0 112.4,295.5 114.6,298.0 116.8,300.5 119.0,303.0 121.2,305.5 123.4,307.9 125.5,310.2 127.7,312.3 129.9,314.4 132.1,316.4 134.3,318.2 136.5,319.9 138.7,321.6 140.8,323.1 143.0,324.4 145.2,325.6 147.4,326.5 149.6,327.2 151.8,327.7 154.0,328.1 156.1,328.4 158.3,328.8 160.5,329.2 162.7,329.8 164.9,330.5 167.1,331.3 169.2,332.0 171.4,332.7 173.6,333.4 175.8,334.2 178.0,334.9 180.2,335.7 182.4,336.6 184.5,337.5 186.7,338.3 188.9,339.1 191.1,339.8 193.3,340.4 195.5,340.9 197.7,341.5 199.8,342.2 202.0,342.9 204.2,343.8 206.4,344.6 208.6,345.5 210.8,346.3 213.0,347.2 215.1,348.1 217.3,348.8 219.5,349.4 221.7,349.8 223.9,350.2 226.1,350.6 228.3,351.1 230.4,351.5 232.6,352.0 234.8,352.5 237.0,353.1 239.2,353.7 241.4,354.4 243.5,355.1 245.7,355.8 247.9,356.6 250.1,357.4 252.3,358.4 254.5,359.4 256.7,360.3 258.8,361.1 261.0,361.9 263.2,362.7 265.4,363.5 267.6,364.4 269.8,365.2 272.0,366.0 274.1,366.8 276.3,367.7 278.5,368.5 280.7,369.2" fill="none" stroke="#ff0000" stroke-width="1.45" stroke-linejoin="round"/>
<path d="M42.5,260.0 44.7,248.6 46.9,236.3 49.1,226.1 51.2,218.3 53.4,212.7 55.6,209.2 57.8,207.7 60.0,207.5 62.2,208.7 64.4,211.3 66.5,215.5 68.7,219.8 70.9,224.3 73.1,229.2 75.3,234.2 77.5,239.4 79.7,244.6 81.8,249.7 84.0,254.5 86.2,259.4 88.4,264.0 90.6,268.1 92.8,272.0 94.9,275.5 97.1,278.7 99.3,281.5 101.5,284.1 103.7,286.4 105.9,288.6 108.1,290.5 110.2,292.3 112.4,294.2 114.6,296.1 116.8,298.0 119.0,300.0 121.2,302.0 123.4,304.0 125.5,306.1 127.7,308.1 129.9,310.0 132.1,311.9 134.3,313.7 136.5,315.4 138.7,317.0 140.8,318.6 143.0,320.0 145.2,321.3 147.4,322.5 149.6,323.5 151.8,324.5 154.0,325.3 156.1,326.1 158.3,327.0 160.5,328.0 162.7,329.0 164.9,330.2 167.1,331.3 169.2,332.4 171.4,333.5 173.6,334.5 175.8,335.5 178.0,336.5 180.2,337.6 182.4,338.7 184.5,339.8 186.7,340.9 188.9,342.0 191.1,342.9 193.3,343.7 195.5,344.5 197.7,345.2 199.8,346.0 202.0,346.8 204.2,347.6 206.4,348.5 208.6,349.2 210.8,350.0 213.0,350.7 215.1,351.5 217.3,352.1 219.5,352.6 221.7,352.9 223.9,353.1 226.1,353.3 228.3,353.4 230.4,353.5 232.6,353.6 234.8,353.6 237.0,353.6 239.2,353.7 241.4,353.7 243.5,353.8 245.7,353.8 247.9,354.0 250.1,354.3 252.3,354.8 254.5,355.4 256.7,356.1 258.8,356.8 261.0,357.4 263.2,358.1 265.4,358.8 267.6,359.5 269.8,360.3 272.0,361.0 274.1,361.8 276.3,362.6 278.5,363.4 280.7,364.3" fill="none" stroke="#ff0000" stroke-width="1.45" stroke-linejoin="round"/>
<path d="M42.5,261.0 44.7,251.9 46.9,239.2 49.1,228.6 51.2,220.2 53.4,213.9 55.6,209.6 57.8,207.0 60.0,205.8 62.2,206.2 64.4,207.8 66.5,211.4 68.7,215.3 70.9,219.5 73.1,224.0 75.3,228.7 77.5,233.7 79.7,238.8 81.8,244.0 84.0,249.3 86.2,254.6 88.4,259.9 90.6,264.7 92.8,269.2 94.9,273.4 97.1,277.0 99.3,280.2 101.5,283.0 103.7,285.4 105.9,287.6 108.1,289.6 110.2,291.4 112.4,293.2 114.6,295.0 116.8,296.7 119.0,298.5 121.2,300.4 123.4,302.3 125.5,304.2 127.7,306.0 129.9,307.8 132.1,309.4 134.3,311.0 136.5,312.4 138.7,313.8 140.8,315.1 143.0,316.4 145.2,317.6 147.4,318.8 149.6,320.0 151.8,321.3 154.0,322.5 156.1,323.8 158.3,325.1 160.5,326.5 162.7,328.0 164.9,329.5 167.1,330.9 169.2,332.3 171.4,333.6 173.6,334.8 175.8,336.0 178.0,337.1 180.2,338.2 182.4,339.3 184.5,340.5 186.7,341.5 188.9,342.5 191.1,343.3 193.3,343.9 195.5,344.4 197.7,344.9 199.8,345.3 202.0,345.7 204.2,346.2 206.4,346.7 208.6,347.1 210.8,347.5 213.0,348.0 215.1,348.5 217.3,348.8 219.5,349.0 221.7,349.1 223.9,349.0 226.1,348.9 228.3,348.8 230.4,348.8 232.6,348.9 234.8,349.1 237.0,349.3 239.2,349.7 241.4,350.3 243.5,350.9 245.7,351.5 247.9,352.2 250.1,353.0 252.3,353.9 254.5,354.8 256.7,355.8 258.8,356.8 261.0,357.6 263.2,358.5 265.4,359.4 267.6,360.2 269.8,361.0 272.0,361.9 274.1,362.7 276.3,363.5 278.5,364.3 280.7,365.0" fill="none" stroke="#ff0000" stroke-width="1.45" stroke-linejoin="round"/>
<path d="M42.5,263.8 44.7,252.3 46.9,241.3 49.1,232.4 51.2,225.8 53.4,221.1 55.6,218.4 57.8,217.6 60.0,217.5 62.2,218.1 64.4,220.0 66.5,223.3 68.7,226.4 70.9,229.9 73.1,233.7 75.3,237.6 77.5,241.6 79.7,245.8 81.8,250.0 84.0,254.1 86.2,258.2 88.4,262.2 90.6,265.8 92.8,269.4 94.9,272.9 97.1,276.1 99.3,279.0 101.5,281.7 103.7,284.2 105.9,286.5 108.1,288.6 110.2,290.7 112.4,292.8 114.6,294.9 116.8,296.9 119.0,299.0 121.2,301.2 123.4,303.3 125.5,305.4 127.7,307.4 129.9,309.4 132.1,311.2 134.3,312.8 136.5,314.4 138.7,315.8 140.8,317.0 143.0,318.1 145.2,319.0 147.4,319.8 149.6,320.5 151.8,321.1 154.0,321.7 156.1,322.4 158.3,323.2 160.5,324.1 162.7,325.3 164.9,326.5 167.1,327.8 169.2,329.1 171.4,330.2 173.6,331.3 175.8,332.4 178.0,333.5 180.2,334.5 182.4,335.5 184.5,336.6 186.7,337.6 188.9,338.5 191.1,339.3 193.3,340.0 195.5,340.6 197.7,341.2 199.8,341.9 202.0,342.7 204.2,343.5 206.4,344.3 208.6,345.2 210.8,345.9 213.0,346.7 215.1,347.5 217.3,348.2 219.5,348.7 221.7,349.0 223.9,349.3 226.1,349.5 228.3,349.7 230.4,350.0 232.6,350.3 234.8,350.7 237.0,351.1 239.2,351.5 241.4,352.0 243.5,352.6 245.7,353.2 247.9,353.9 250.1,354.7 252.3,355.6 254.5,356.6 256.7,357.7 258.8,358.7 261.0,359.6 263.2,360.5 265.4,361.4 267.6,362.4 269.8,363.3 272.0,364.2 274.1,365.1 276.3,366.0 278.5,366.9 280.7,367.8" fill="none" stroke="#ff0000" stroke-width="1.45" stroke-linejoin="round"/>
<path d="M42.5,258.7 44.7,250.7 46.9,237.6 49.1,226.6 51.2,218.1 53.4,212.0 55.6,207.9 57.8,205.7 60.0,205.2 62.2,206.2 64.4,208.3 66.5,212.3 68.7,216.4 70.9,220.8 73.1,225.4 75.3,230.2 77.5,235.0 79.7,240.0 81.8,245.0 84.0,249.9 86.2,254.9 88.4,259.9 90.6,264.6 92.8,268.9 94.9,273.1 97.1,276.9 99.3,280.3 101.5,283.1 103.7,285.8 105.9,288.4 108.1,290.8 110.2,293.2 112.4,295.7 114.6,298.1 116.8,300.5 119.0,302.9 121.2,305.2 123.4,307.4 125.5,309.6 127.7,311.6 129.9,313.5 132.1,315.4 134.3,317.1 136.5,318.8 138.7,320.3 140.8,321.6 143.0,322.8 145.2,323.7 147.4,324.5 149.6,324.9 151.8,325.2 154.0,325.3 156.1,325.3 158.3,325.3 160.5,325.4 162.7,325.8 164.9,326.4 167.1,327.2 169.2,328.0 171.4,328.9 173.6,329.7 175.8,330.6 178.0,331.5 180.2,332.4 182.4,333.3 184.5,334.2 186.7,335.2 188.9,336.0 191.1,336.8 193.3,337.5 195.5,338.1 197.7,338.6 199.8,339.3 202.0,340.0 204.2,340.9 206.4,341.8 208.6,342.7 210.8,343.7 213.0,344.6 215.1,345.6 217.3,346.5 219.5,347.2 221.7,347.7 223.9,348.0 226.1,348.2 228.3,348.3 230.4,348.5 232.6,348.6 234.8,348.7 237.0,348.9 239.2,349.1 241.4,349.3 243.5,349.7 245.7,350.1 247.9,350.6 250.1,351.2 252.3,351.9 254.5,352.7 256.7,353.6 258.8,354.4 261.0,355.2 263.2,356.0 265.4,356.8 267.6,357.6 269.8,358.5 272.0,359.3 274.1,360.2 276.3,361.1 278.5,362.0 280.7,362.9" fill="none" stroke="#ff0000" stroke-width="1.45" stroke-linejoin="round"/>
<path d="M42.5,255.4 44.7,243.1 46.9,232.7 49.1,224.7 51.2,219.0 53.4,215.3 55.6,213.3 57.8,212.8 60.0,213.3 62.2,214.9 64.4,218.4 66.5,222.1 68.7,226.2 70.9,230.6 73.1,235.4 75.3,240.2 77.5,245.1 79.7,249.9 81.8,254.5 84.0,259.2 86.2,263.8 88.4,268.0 90.6,271.9 92.8,275.5 94.9,278.8 97.1,281.8 99.3,284.5 101.5,287.0 103.7,289.3 105.9,291.5 108.1,293.6 110.2,295.8 112.4,297.9 114.6,300.0 116.8,302.0 119.0,304.1 121.2,306.2 123.4,308.3 125.5,310.2 127.7,312.1 129.9,314.0 132.1,315.7 134.3,317.5 136.5,319.1 138.7,320.7 140.8,322.2 143.0,323.6 145.2,324.8 147.4,325.9 149.6,326.8 151.8,327.6 154.0,328.2 156.1,328.9 158.3,329.6 160.5,330.4 162.7,331.3 164.9,332.2 167.1,333.2 169.2,334.1 171.4,334.9 173.6,335.8 175.8,336.6 178.0,337.5 180.2,338.4 182.4,339.3 184.5,340.3 186.7,341.2 188.9,342.0 191.1,342.7 193.3,343.4 195.5,344.0 197.7,344.7 199.8,345.4 202.0,346.3 204.2,347.1 206.4,347.9 208.6,348.7 210.8,349.5 213.0,350.4 215.1,351.1 217.3,351.8 219.5,352.3 221.7,352.7 223.9,353.0 226.1,353.4 228.3,353.8 230.4,354.1 232.6,354.5 234.8,354.8 237.0,355.2 239.2,355.6 241.4,356.0 243.5,356.4 245.7,356.8 247.9,357.2 250.1,357.7 252.3,358.3 254.5,358.9 256.7,359.5 258.8,360.0 261.0,360.6 263.2,361.2 265.4,361.8 267.6,362.5 269.8,363.2 272.0,364.0 274.1,364.7 276.3,365.5 278.5,366.3 280.7,366.6" fill="none" stroke="#ff0000" stroke-width="1.45" stroke-linejoin="round"/>
<path d="M42.5,252.0 44.7,238.7 46.9,227.3 49.1,218.3 51.2,211.7 53.4,207.4 55.6,205.0 57.8,204.3 60.0,205.3 62.2,208.1 64.4,213.0 66.5,218.3 68.7,223.8 70.9,229.7 73.1,235.7 75.3,241.7 77.5,247.5 79.7,253.0 81.8,258.0 84.0,262.8 86.2,267.3 88.4,271.5 90.6,275.3 92.8,278.8 94.9,282.0 97.1,284.8 99.3,287.3 101.5,289.6 103.7,291.8 105.9,293.8 108.1,295.5 110.2,297.1 112.4,298.6 114.6,300.0 116.8,301.3 119.0,302.7 121.2,304.2 123.4,305.7 125.5,307.2 127.7,308.9 129.9,310.5 132.1,312.1 134.3,313.6 136.5,315.0 138.7,316.4 140.8,317.7 143.0,319.0 145.2,320.3 147.4,321.4 149.6,322.5 151.8,323.6 154.0,324.7 156.1,325.8 158.3,326.9 160.5,328.1 162.7,329.3 164.9,330.5 167.1,331.6 169.2,332.6 171.4,333.5 173.6,334.3 175.8,335.1 178.0,335.9 180.2,336.7 182.4,337.5 184.5,338.3 186.7,339.0 188.9,339.6 191.1,340.0 193.3,340.4 195.5,340.7 197.7,341.1 199.8,341.5 202.0,342.0 204.2,342.5 206.4,343.1 208.6,343.6 210.8,344.2 213.0,344.8 215.1,345.5 217.3,346.0 219.5,346.4 221.7,346.8 223.9,347.1 226.1,347.3 228.3,347.7 230.4,348.1 232.6,348.6 234.8,349.1 237.0,349.7 239.2,350.3 241.4,351.0 243.5,351.6 245.7,352.3 247.9,353.0 250.1,353.7 252.3,354.5 254.5,355.4 256.7,356.2 258.8,356.9 261.0,357.6 263.2,358.3 265.4,359.0 267.6,359.7 269.8,360.3 272.0,361.0 274.1,361.7 276.3,362.4 278.5,363.2 280.7,363.5" fill="none" stroke="#ff0000" stroke-width="1.45" stroke-linejoin="round"/>
<path d="M42.0,373.0 44.2,372.3 46.4,371.7 48.6,370.9 50.8,370.2 53.0,369.5 55.2,368.7 57.4,368.0 59.6,367.2 61.8,366.4 63.9,365.5 66.1,364.3 68.3,362.9 70.5,361.4 72.7,359.9 74.9,358.5 77.1,357.0 79.3,355.6 81.5,354.2 83.7,352.8 85.9,351.5 88.1,350.2 90.3,348.9 92.5,347.6 94.7,346.4 96.9,345.1 99.1,343.8 101.3,342.5 103.4,341.1 105.6,339.7 107.8,338.3 110.0,336.9 112.2,335.4 114.4,334.0 116.6,332.5 118.8,331.0 121.0,329.4 123.2,327.7 125.4,326.1 127.6,324.6 129.8,323.1 132.0,321.7 134.2,320.2 136.4,318.9 138.6,317.6 140.8,316.3 142.9,315.1 145.1,313.8 147.3,312.5 149.5,311.3 151.7,310.1 153.9,309.0 156.1,307.9 158.3,306.8 160.5,305.7 162.7,304.3 164.9,302.9 167.1,301.4 169.3,300.0 171.5,298.6 173.7,297.3 175.9,296.0 178.1,294.7 180.3,293.3 182.4,291.9 184.6,290.4 186.8,288.8 189.0,287.2 191.2,285.5 193.4,283.9 195.6,282.3 197.8,280.8 200.0,279.3 202.2,278.0 204.4,276.7 206.6,275.5 208.8,274.4 211.0,273.3 213.2,272.1 215.4,271.0 217.6,269.7 219.8,268.4 221.9,266.8 224.1,265.2 226.3,263.8 228.5,262.6 230.7,261.6 232.9,260.6 235.1,259.7 237.3,258.8 239.5,258.0 241.7,257.1 243.9,256.2 246.1,255.4 248.3,255.0 250.5,254.8 252.7,254.9 254.9,255.7 257.1,257.1 259.3,259.4 261.4,262.2 263.6,265.5 265.8,269.1 268.0,273.1 270.2,277.5 272.4,282.4 274.6,288.0 276.8,293.9 279.0,300.0 281.2,306.0" fill="none" stroke="#0000ff" stroke-width="1.8" stroke-linejoin="round" stroke-linecap="round"/>
<path d="M42.0,371.5 44.2,371.0 46.4,370.3 48.6,369.5 50.8,368.8 53.0,368.0 55.2,367.2 57.4,366.4 59.6,365.6 61.8,364.7 63.9,363.7 66.1,362.6 68.3,361.1 70.5,359.5 72.7,357.9 74.9,356.4 77.1,354.8 79.3,353.3 81.5,351.7 83.7,350.2 85.9,348.8 88.1,347.4 90.3,346.0 92.5,344.8 94.7,343.6 96.9,342.5 99.1,341.4 101.3,340.4 103.4,339.3 105.6,338.2 107.8,337.1 110.0,336.0 112.2,334.8 114.4,333.7 116.6,332.5 118.8,331.2 121.0,329.9 123.2,328.5 125.4,327.2 127.6,325.8 129.8,324.4 132.0,323.0 134.2,321.5 136.4,320.1 138.6,318.6 140.8,317.2 142.9,315.7 145.1,314.2 147.3,312.7 149.5,311.2 151.7,309.6 153.9,308.1 156.1,306.6 158.3,305.1 160.5,303.6 162.7,301.8 164.9,300.0 167.1,298.2 169.3,296.5 171.5,294.9 173.7,293.4 175.9,292.0 178.1,290.6 180.3,289.2 182.4,287.8 184.6,286.3 186.8,284.7 189.0,283.1 191.2,281.4 193.4,279.7 195.6,278.1 197.8,276.6 200.0,275.1 202.2,273.7 204.4,272.3 206.6,271.1 208.8,269.9 211.0,268.7 213.2,267.5 215.4,266.3 217.6,265.1 219.8,263.8 221.9,262.2 224.1,260.6 226.3,259.1 228.5,257.8 230.7,256.6 232.9,255.5 235.1,254.4 237.3,253.3 239.5,252.3 241.7,251.2 243.9,250.0 246.1,248.8 248.3,247.9 250.5,247.5 252.7,247.3 254.9,248.1 257.1,249.6 259.3,251.9 261.4,254.8 263.6,258.1 265.8,261.9 268.0,266.2 270.2,271.0 272.4,276.2 274.6,282.2 276.8,288.5 279.0,295.0 281.2,301.4" fill="none" stroke="#0000ff" stroke-width="1.45" stroke-linejoin="round"/>
<path d="M42.0,372.1 44.2,371.6 46.4,371.0 48.6,370.4 50.8,369.7 53.0,369.0 55.2,368.3 57.4,367.5 59.6,366.8 61.8,366.0 63.9,365.0 66.1,363.8 68.3,362.4 70.5,360.8 72.7,359.2 74.9,357.6 77.1,356.1 79.3,354.5 81.5,352.9 83.7,351.3 85.9,349.7 88.1,348.1 90.3,346.5 92.5,345.0 94.7,343.5 96.9,342.1 99.1,340.6 101.3,339.2 103.4,337.7 105.6,336.3 107.8,334.8 110.0,333.4 112.2,332.0 114.4,330.5 116.6,329.0 118.8,327.5 121.0,325.8 123.2,324.2 125.4,322.6 127.6,321.0 129.8,319.5 132.0,318.0 134.2,316.6 136.4,315.2 138.6,313.9 140.8,312.6 142.9,311.3 145.1,310.1 147.3,308.8 149.5,307.5 151.7,306.3 153.9,305.1 156.1,304.0 158.3,303.0 160.5,301.8 162.7,300.4 164.9,299.0 167.1,297.6 169.3,296.3 171.5,295.0 173.7,293.8 175.9,292.7 178.1,291.5 180.3,290.3 182.4,289.0 184.6,287.6 186.8,286.2 189.0,284.7 191.2,283.1 193.4,281.5 195.6,280.0 197.8,278.5 200.0,277.2 202.2,275.8 204.4,274.5 206.6,273.3 208.8,272.2 211.0,271.1 213.2,269.9 215.4,268.7 217.6,267.5 219.8,266.1 221.9,264.5 224.1,262.9 226.3,261.4 228.5,260.1 230.7,258.9 232.9,257.7 235.1,256.6 237.3,255.5 239.5,254.5 241.7,253.4 243.9,252.2 246.1,251.0 248.3,250.2 250.5,249.7 252.7,249.5 254.9,250.3 257.1,251.7 259.3,253.9 261.4,256.8 263.6,260.1 265.8,263.8 268.0,268.1 270.2,272.8 272.4,278.1 274.6,284.1 276.8,290.4 279.0,296.9 281.2,303.3" fill="none" stroke="#0000ff" stroke-width="1.45" stroke-linejoin="round"/>
<path d="M42.0,373.5 44.2,372.6 46.4,371.8 48.6,370.9 50.8,370.0 53.0,369.1 55.2,368.1 57.4,367.2 59.6,366.3 61.8,365.4 63.9,364.4 66.1,363.1 68.3,361.7 70.5,360.2 72.7,358.7 74.9,357.3 77.1,355.9 79.3,354.5 81.5,353.2 83.7,351.9 85.9,350.7 88.1,349.5 90.3,348.3 92.5,347.2 94.7,346.1 96.9,345.1 99.1,343.9 101.3,342.7 103.4,341.5 105.6,340.2 107.8,339.0 110.0,337.7 112.2,336.5 114.4,335.3 116.6,334.1 118.8,332.8 121.0,331.5 123.2,330.2 125.4,328.9 127.6,327.7 129.8,326.5 132.0,325.2 134.2,323.9 136.4,322.7 138.6,321.4 140.8,320.2 142.9,319.0 145.1,317.8 147.3,316.5 149.5,315.3 151.7,314.2 153.9,313.1 156.1,312.1 158.3,311.0 160.5,309.9 162.7,308.5 164.9,307.1 167.1,305.7 169.3,304.2 171.5,302.7 173.7,301.3 175.9,299.7 178.1,298.1 180.3,296.4 182.4,294.5 184.6,292.5 186.8,290.4 189.0,288.4 191.2,286.2 193.4,284.1 195.6,282.0 197.8,280.0 200.0,278.1 202.2,276.3 204.4,274.6 206.6,273.0 208.8,271.6 211.0,270.2 213.2,269.0 215.4,267.8 217.6,266.6 219.8,265.4 221.9,264.0 224.1,262.7 226.3,261.7 228.5,260.9 230.7,260.3 232.9,259.8 235.1,259.4 237.3,259.0 239.5,258.6 241.7,258.2 243.9,257.8 246.1,257.5 248.3,257.8 250.5,258.3 252.7,259.1 254.9,260.5 257.1,262.4 259.3,265.2 261.4,268.3 263.6,271.7 265.8,275.2 268.0,278.7 270.2,282.4 272.4,286.5 274.6,291.3 276.8,296.5 279.0,301.9 281.2,307.2" fill="none" stroke="#0000ff" stroke-width="1.45" stroke-linejoin="round"/>
<path d="M42.0,374.8 44.2,374.4 46.4,373.8 48.6,373.2 50.8,372.6 53.0,371.9 55.2,371.2 57.4,370.5 59.6,369.8 61.8,369.1 63.9,368.2 66.1,367.1 68.3,365.8 70.5,364.4 72.7,362.9 74.9,361.5 77.1,360.2 79.3,358.8 81.5,357.4 83.7,356.1 85.9,354.8 88.1,353.6 90.3,352.3 92.5,351.0 94.7,349.6 96.9,348.3 99.1,346.8 101.3,345.3 103.4,343.6 105.6,341.9 107.8,340.2 110.0,338.5 112.2,336.8 114.4,335.1 116.6,333.4 118.8,331.5 121.0,329.6 123.2,327.7 125.4,325.9 127.6,324.1 129.8,322.4 132.0,320.8 134.2,319.2 136.4,317.7 138.6,316.2 140.8,314.8 142.9,313.5 145.1,312.1 147.3,310.8 149.5,309.5 151.7,308.2 153.9,307.1 156.1,306.1 158.3,305.0 160.5,303.9 162.7,302.6 164.9,301.2 167.1,299.9 169.3,298.6 171.5,297.3 173.7,296.2 175.9,295.0 178.1,293.8 180.3,292.6 182.4,291.3 184.6,289.9 186.8,288.5 189.0,287.0 191.2,285.5 193.4,283.9 195.6,282.4 197.8,281.0 200.0,279.6 202.2,278.3 204.4,277.1 206.6,276.0 208.8,274.9 211.0,273.8 213.2,272.7 215.4,271.6 217.6,270.4 219.8,269.0 221.9,267.4 224.1,265.8 226.3,264.4 228.5,263.2 230.7,262.1 232.9,261.1 235.1,260.2 237.3,259.3 239.5,258.5 241.7,257.8 243.9,256.9 246.1,256.2 248.3,255.9 250.5,255.9 252.7,256.2 254.9,257.2 257.1,258.9 259.3,261.6 261.4,264.8 263.6,268.6 265.8,272.7 268.0,277.0 270.2,281.6 272.4,286.5 274.6,292.0 276.8,297.9 279.0,303.8 281.2,309.7" fill="none" stroke="#0000ff" stroke-width="1.45" stroke-linejoin="round"/>
<path d="M42.0,371.4 44.2,370.7 46.4,369.9 48.6,369.1 50.8,368.2 53.0,367.4 55.2,366.5 57.4,365.6 59.6,364.8 61.8,363.8 63.9,362.8 66.1,361.6 68.3,360.1 70.5,358.5 72.7,356.9 74.9,355.4 77.1,353.9 79.3,352.4 81.5,351.0 83.7,349.6 85.9,348.2 88.1,346.9 90.3,345.7 92.5,344.6 94.7,343.5 96.9,342.5 99.1,341.5 101.3,340.5 103.4,339.4 105.6,338.3 107.8,337.1 110.0,335.9 112.2,334.7 114.4,333.5 116.6,332.1 118.8,330.6 121.0,329.1 123.2,327.5 125.4,325.8 127.6,324.3 129.8,322.6 132.0,321.0 134.2,319.5 136.4,317.9 138.6,316.4 140.8,314.9 142.9,313.4 145.1,311.9 147.3,310.4 149.5,308.9 151.7,307.6 153.9,306.3 156.1,305.2 158.3,304.1 160.5,302.9 162.7,301.7 164.9,300.4 167.1,299.2 169.3,298.1 171.5,297.1 173.7,296.2 175.9,295.3 178.1,294.3 180.3,293.3 182.4,292.2 184.6,291.0 186.8,289.7 189.0,288.3 191.2,286.9 193.4,285.4 195.6,284.0 197.8,282.7 200.0,281.4 202.2,280.1 204.4,278.9 206.6,277.7 208.8,276.5 211.0,275.1 213.2,273.8 215.4,272.4 217.6,270.9 219.8,269.1 221.9,267.3 224.1,265.4 226.3,263.7 228.5,262.2 230.7,260.7 232.9,259.4 235.1,258.0 237.3,256.8 239.5,255.6 241.7,254.3 243.9,253.0 246.1,251.7 248.3,250.9 250.5,250.4 252.7,250.2 254.9,251.0 257.1,252.4 259.3,254.8 261.4,257.6 263.6,260.9 265.8,264.5 268.0,268.7 270.2,273.3 272.4,278.5 274.6,284.4 276.8,290.5 279.0,296.8 281.2,302.6" fill="none" stroke="#0000ff" stroke-width="1.45" stroke-linejoin="round"/>
<path d="M42.0,372.5 44.2,371.7 46.4,370.9 48.6,370.0 50.8,369.2 53.0,368.4 55.2,367.7 57.4,366.9 59.6,366.2 61.8,365.4 63.9,364.5 66.1,363.4 68.3,362.0 70.5,360.6 72.7,359.2 74.9,357.8 77.1,356.5 79.3,355.1 81.5,353.8 83.7,352.5 85.9,351.2 88.1,349.9 90.3,348.6 92.5,347.4 94.7,346.1 96.9,344.8 99.1,343.5 101.3,342.0 103.4,340.5 105.6,339.0 107.8,337.5 110.0,336.0 112.2,334.5 114.4,333.0 116.6,331.4 118.8,329.8 121.0,328.1 123.2,326.5 125.4,324.9 127.6,323.3 129.8,321.9 132.0,320.4 134.2,319.1 136.4,317.8 138.6,316.6 140.8,315.5 142.9,314.3 145.1,313.2 147.3,312.1 149.5,311.0 151.7,309.9 153.9,308.9 156.1,308.0 158.3,307.0 160.5,305.8 162.7,304.5 164.9,303.2 167.1,301.8 169.3,300.4 171.5,299.2 173.7,298.0 175.9,296.8 178.1,295.6 180.3,294.3 182.4,292.9 184.6,291.5 186.8,290.1 189.0,288.6 191.2,287.1 193.4,285.6 195.6,284.3 197.8,283.1 200.0,281.9 202.2,280.9 204.4,280.1 206.6,279.3 208.8,278.5 211.0,277.6 213.2,276.7 215.4,275.8 217.6,274.7 219.8,273.4 221.9,271.9 224.1,270.4 226.3,269.2 228.5,268.1 230.7,267.2 232.9,266.3 235.1,265.5 237.3,264.7 239.5,264.0 241.7,263.4 243.9,262.7 246.1,262.2 248.3,262.2 250.5,262.3 252.7,262.6 254.9,263.3 257.1,264.5 259.3,266.5 261.4,268.8 263.6,271.5 265.8,274.2 268.0,277.2 270.2,280.7 272.4,284.8 274.6,289.7 276.8,295.2 279.0,300.7 281.2,305.2" fill="none" stroke="#0000ff" stroke-width="1.45" stroke-linejoin="round"/>
<path d="M42.0,373.8 44.2,373.4 46.4,372.7 48.6,372.0 50.8,371.3 53.0,370.5 55.2,369.7 57.4,368.9 59.6,368.1 61.8,367.3 63.9,366.3 66.1,365.1 68.3,363.7 70.5,362.1 72.7,360.6 74.9,359.1 77.1,357.6 79.3,356.1 81.5,354.6 83.7,353.2 85.9,351.8 88.1,350.4 90.3,349.1 92.5,347.8 94.7,346.6 96.9,345.4 99.1,344.2 101.3,343.0 103.4,341.7 105.6,340.4 107.8,339.2 110.0,338.0 112.2,336.8 114.4,335.7 116.6,334.5 118.8,333.3 121.0,332.1 123.2,330.8 125.4,329.6 127.6,328.3 129.8,327.0 132.0,325.7 134.2,324.2 136.4,322.8 138.6,321.4 140.8,320.0 142.9,318.7 145.1,317.3 147.3,315.9 149.5,314.6 151.7,313.3 153.9,312.2 156.1,311.1 158.3,310.1 160.5,308.9 162.7,307.7 164.9,306.4 167.1,305.1 169.3,303.8 171.5,302.6 173.7,301.4 175.9,300.3 178.1,299.1 180.3,297.9 182.4,296.6 184.6,295.1 186.8,293.6 189.0,292.0 191.2,290.4 193.4,288.8 195.6,287.2 197.8,285.7 200.0,284.3 202.2,282.9 204.4,281.6 206.6,280.3 208.8,279.0 211.0,277.6 213.2,276.2 215.4,274.7 217.6,273.2 219.8,271.5 221.9,269.6 224.1,267.7 226.3,266.0 228.5,264.5 230.7,263.2 232.9,262.0 235.1,260.8 237.3,259.7 239.5,258.8 241.7,257.8 243.9,256.8 246.1,255.9 248.3,255.3 250.5,255.1 252.7,255.1 254.9,255.8 257.1,257.3 259.3,259.5 261.4,262.5 263.6,266.0 265.8,269.8 268.0,274.0 270.2,278.5 272.4,283.4 274.6,288.8 276.8,294.7 279.0,300.7 281.2,306.6" fill="none" stroke="#0000ff" stroke-width="1.45" stroke-linejoin="round"/>
<path d="M42.0,373.2 44.2,373.0 46.4,372.4 48.6,371.8 50.8,371.2 53.0,370.5 55.2,369.8 57.4,369.2 59.6,368.5 61.8,367.8 63.9,367.0 66.1,366.0 68.3,364.8 70.5,363.4 72.7,362.0 74.9,360.6 77.1,359.3 79.3,357.9 81.5,356.6 83.7,355.3 85.9,354.0 88.1,352.8 90.3,351.6 92.5,350.3 94.7,349.0 96.9,347.8 99.1,346.4 101.3,345.0 103.4,343.4 105.6,341.8 107.8,340.2 110.0,338.6 112.2,337.0 114.4,335.4 116.6,333.8 118.8,332.1 121.0,330.4 123.2,328.6 125.4,327.0 127.6,325.4 129.8,323.9 132.0,322.5 134.2,321.2 136.4,319.9 138.6,318.8 140.8,317.7 142.9,316.6 145.1,315.5 147.3,314.4 149.5,313.3 151.7,312.3 153.9,311.3 156.1,310.4 158.3,309.5 160.5,308.5 162.7,307.4 164.9,306.1 167.1,304.8 169.3,303.4 171.5,302.1 173.7,300.7 175.9,299.4 178.1,297.9 180.3,296.4 182.4,294.7 184.6,292.9 186.8,291.0 189.0,289.0 191.2,287.0 193.4,284.9 195.6,282.8 197.8,280.8 200.0,278.8 202.2,276.8 204.4,275.0 206.6,273.2 208.8,271.5 211.0,269.9 213.2,268.3 215.4,266.8 217.6,265.3 219.8,263.8 221.9,262.0 224.1,260.3 226.3,258.7 228.5,257.4 230.7,256.2 232.9,255.1 235.1,254.1 237.3,253.3 239.5,252.4 241.7,251.6 243.9,250.6 246.1,249.7 248.3,249.1 250.5,249.0 252.7,249.2 254.9,250.2 257.1,251.9 259.3,254.3 261.4,257.4 263.6,260.9 265.8,264.9 268.0,269.3 270.2,274.1 272.4,279.3 274.6,285.1 276.8,291.4 279.0,297.7 281.2,304.0" fill="none" stroke="#0000ff" stroke-width="1.45" stroke-linejoin="round"/>
<path d="M42.0,373.8 44.2,373.1 46.4,372.4 48.6,371.7 50.8,371.0 53.0,370.2 55.2,369.4 57.4,368.7 59.6,368.0 61.8,367.1 63.9,366.2 66.1,365.0 68.3,363.5 70.5,362.1 72.7,360.7 74.9,359.3 77.1,358.0 79.3,356.7 81.5,355.4 83.7,354.2 85.9,353.1 88.1,352.0 90.3,350.9 92.5,349.9 94.7,348.9 96.9,347.9 99.1,346.7 101.3,345.5 103.4,344.2 105.6,342.9 107.8,341.5 110.0,340.1 112.2,338.7 114.4,337.3 116.6,335.8 118.8,334.2 121.0,332.4 123.2,330.5 125.4,328.6 127.6,326.6 129.8,324.5 132.0,322.5 134.2,320.5 136.4,318.6 138.6,316.8 140.8,315.1 142.9,313.3 145.1,311.6 147.3,309.8 149.5,308.2 151.7,306.6 153.9,305.2 156.1,303.8 158.3,302.5 160.5,301.1 162.7,299.6 164.9,298.2 167.1,296.9 169.3,295.7 171.5,294.7 173.7,293.7 175.9,292.8 178.1,291.9 180.3,291.0 182.4,289.9 184.6,288.9 186.8,287.7 189.0,286.6 191.2,285.3 193.4,284.0 195.6,282.8 197.8,281.7 200.0,280.6 202.2,279.7 204.4,278.8 206.6,277.9 208.8,277.0 211.0,276.0 213.2,274.9 215.4,273.8 217.6,272.5 219.8,271.0 221.9,269.3 224.1,267.7 226.3,266.3 228.5,265.1 230.7,264.0 232.9,262.9 235.1,261.9 237.3,261.0 239.5,260.2 241.7,259.4 243.9,258.5 246.1,257.9 248.3,257.8 250.5,257.8 252.7,258.3 254.9,259.5 257.1,261.2 259.3,263.9 261.4,267.0 263.6,270.5 265.8,274.3 268.0,278.4 270.2,282.8 272.4,287.6 274.6,293.1 276.8,298.8 279.0,304.6 281.2,308.3" fill="none" stroke="#0000ff" stroke-width="1.45" stroke-linejoin="round"/>
<path d="M42.0,370.8 44.2,370.0 46.4,369.2 48.6,368.4 50.8,367.6 53.0,366.9 55.2,366.2 57.4,365.5 59.6,364.8 61.8,364.1 63.9,363.2 66.1,362.0 68.3,360.7 70.5,359.3 72.7,357.9 74.9,356.6 77.1,355.2 79.3,353.9 81.5,352.5 83.7,351.2 85.9,349.9 88.1,348.6 90.3,347.2 92.5,345.9 94.7,344.6 96.9,343.3 99.1,341.9 101.3,340.5 103.4,339.0 105.6,337.5 107.8,336.1 110.0,334.6 112.2,333.2 114.4,331.7 116.6,330.1 118.8,328.6 121.0,326.9 123.2,325.3 125.4,323.8 127.6,322.4 129.8,321.0 132.0,319.7 134.2,318.4 136.4,317.3 138.6,316.1 140.8,315.1 142.9,314.0 145.1,312.8 147.3,311.7 149.5,310.6 151.7,309.5 153.9,308.4 156.1,307.4 158.3,306.2 160.5,304.8 162.7,303.3 164.9,301.6 167.1,299.9 169.3,298.3 171.5,296.7 173.7,295.1 175.9,293.5 178.1,291.9 180.3,290.3 182.4,288.6 184.6,286.8 186.8,285.1 189.0,283.2 191.2,281.4 193.4,279.6 195.6,278.0 197.8,276.5 200.0,275.1 202.2,273.7 204.4,272.6 206.6,271.6 208.8,270.7 211.0,269.8 213.2,269.0 215.4,268.2 217.6,267.4 219.8,266.4 221.9,265.2 224.1,264.1 226.3,263.3 228.5,262.5 230.7,261.7 232.9,261.0 235.1,260.3 237.3,259.6 239.5,258.9 241.7,258.2 243.9,257.4 246.1,256.8 248.3,256.6 250.5,256.4 252.7,256.6 254.9,257.4 257.1,258.7 259.3,260.8 261.4,263.1 263.6,265.7 265.8,268.7 268.0,272.2 270.2,276.2 272.4,281.0 274.6,286.4 276.8,292.2 279.0,298.2 281.2,301.8" fill="none" stroke="#0000ff" stroke-width="1.45" stroke-linejoin="round"/>
<rect x="122.5" y="206.25" width="70.75" height="74.25" fill="#fff" stroke="#8a8a8a" stroke-width="1"/>
<line x1="124.5" y1="225.5" x2="136.25" y2="225.5" stroke="#ff0000" stroke-width="1.6"/>
<line x1="124.5" y1="261.25" x2="136.25" y2="261.25" stroke="#0000ff" stroke-width="1.6"/>
<text x="137.8" y="219" font-family='"Liberation Sans", sans-serif' font-size="14.5">f<tspan font-size="11.5" dy="7.98">k</tspan><tspan font-size="9.43" dy="7.13" dx="0">1</tspan><tspan font-size="11.5" dy="-7.13" dx="1.38">|</tspan><tspan font-size="11.5" dx="1.15">L</tspan><tspan font-size="14.5" dy="-7.98" dx="0">(k</tspan><tspan font-size="12.04" dy="7.69">1</tspan><tspan font-size="14.5" dy="-7.69">)</tspan></text>
<text x="137.8" y="255" font-family='"Liberation Sans", sans-serif' font-size="14.5">f<tspan font-size="11.5" dy="7.98">k</tspan><tspan font-size="9.43" dy="7.13" dx="0">1</tspan><tspan font-size="11.5" dy="-7.13" dx="1.38">|</tspan><tspan font-size="11.5" dx="1.15">U</tspan><tspan font-size="14.5" dy="-7.98" dx="0">(k</tspan><tspan font-size="12.04" dy="7.69">1</tspan><tspan font-size="14.5" dy="-7.69">)</tspan></text>
<text x="38.8" y="380.25" font-size="11" text-anchor="end" font-family='"Liberation Sans", sans-serif' >0</text>
<text x="38.8" y="346.05" font-size="11" text-anchor="end" font-family='"Liberation Sans", sans-serif' >0.01</text>
<text x="38.8" y="311.85" font-size="11" text-anchor="end" font-family='"Liberation Sans", sans-serif' >0.02</text>
<text x="38.8" y="277.65" font-size="11" text-anchor="end" font-family='"Liberation Sans", sans-serif' >0.03</text>
<text x="38.8" y="243.45" font-size="11" text-anchor="end" font-family='"Liberation Sans", sans-serif' >0.04</text>
<text x="38.8" y="209.25" font-size="11" text-anchor="end" font-family='"Liberation Sans", sans-serif' >0.05</text>
<text x="40.75" y="390.4" font-size="11" text-anchor="middle" font-family='"Liberation Sans", sans-serif' >0</text>
<text x="88.85" y="390.4" font-size="11" text-anchor="middle" font-family='"Liberation Sans", sans-serif' >10</text>
<text x="136.95" y="390.4" font-size="11" text-anchor="middle" font-family='"Liberation Sans", sans-serif' >20</text>
<text x="185.05" y="390.4" font-size="11" text-anchor="middle" font-family='"Liberation Sans", sans-serif' >30</text>
<text x="233.15" y="390.4" font-size="11" text-anchor="middle" font-family='"Liberation Sans", sans-serif' >40</text>
<text x="281.25" y="390.4" font-size="11" text-anchor="middle" font-family='"Liberation Sans", sans-serif' >50</text>
<text transform="translate(12,290.5) rotate(-90)" font-size="16" text-anchor="middle" font-family='"Liberation Sans", sans-serif'>pdf</text>
<text x="153" y="401.7" font-size="15.5" font-family='"Liberation Sans", sans-serif'>k<tspan font-size="12" dy="6.5">1</tspan></text>
<text x="151.06" y="434.54" font-size="26" text-anchor="start" font-family='"Liberation Serif", serif' >(c)</text>
<line x1="434" y1="208.5" x2="434" y2="375.5" stroke="#e2e2e2" stroke-width="1" stroke-dasharray="2,1"/>
<line x1="485.5" y1="208.5" x2="485.5" y2="375.5" stroke="#e2e2e2" stroke-width="1" stroke-dasharray="2,1"/>
<line x1="537" y1="208.5" x2="537" y2="375.5" stroke="#e2e2e2" stroke-width="1" stroke-dasharray="2,1"/>
<line x1="588.5" y1="208.5" x2="588.5" y2="375.5" stroke="#e2e2e2" stroke-width="1" stroke-dasharray="2,1"/>
<line x1="382.5" y1="333.75" x2="640" y2="333.75" stroke="#e2e2e2" stroke-width="1" stroke-dasharray="2,1"/>
<line x1="382.5" y1="292" x2="640" y2="292" stroke="#e2e2e2" stroke-width="1" stroke-dasharray="2,1"/>
<line x1="382.5" y1="250.25" x2="640" y2="250.25" stroke="#e2e2e2" stroke-width="1" stroke-dasharray="2,1"/>
<rect x="382.5" y="208.5" width="257.5" height="167" fill="none" stroke="#a6a6a6" stroke-width="1"/>
<line x1="382.5" y1="375.5" x2="382.5" y2="372.5" stroke="#a6a6a6" stroke-width="1"/>
<line x1="382.5" y1="208.5" x2="382.5" y2="211.5" stroke="#a6a6a6" stroke-width="1"/>
<line x1="434" y1="375.5" x2="434" y2="372.5" stroke="#a6a6a6" stroke-width="1"/>
<line x1="434" y1="208.5" x2="434" y2="211.5" stroke="#a6a6a6" stroke-width="1"/>
<line x1="485.5" y1="375.5" x2="485.5" y2="372.5" stroke="#a6a6a6" stroke-width="1"/>
<line x1="485.5" y1="208.5" x2="485.5" y2="211.5" stroke="#a6a6a6" stroke-width="1"/>
<line x1="537" y1="375.5" x2="537" y2="372.5" stroke="#a6a6a6" stroke-width="1"/>
<line x1="537" y1="208.5" x2="537" y2="211.5" stroke="#a6a6a6" stroke-width="1"/>
<line x1="588.5" y1="375.5" x2="588.5" y2="372.5" stroke="#a6a6a6" stroke-width="1"/>
<line x1="588.5" y1="208.5" x2="588.5" y2="211.5" stroke="#a6a6a6" stroke-width="1"/>
<line x1="640" y1="375.5" x2="640" y2="372.5" stroke="#a6a6a6" stroke-width="1"/>
<line x1="640" y1="208.5" x2="640" y2="211.5" stroke="#a6a6a6" stroke-width="1"/>
<line x1="382.5" y1="375.5" x2="385.5" y2="375.5" stroke="#a6a6a6" stroke-width="1"/>
<line x1="640" y1="375.5" x2="637" y2="375.5" stroke="#a6a6a6" stroke-width="1"/>
<line x1="382.5" y1="333.75" x2="385.5" y2="333.75" stroke="#a6a6a6" stroke-width="1"/>
<line x1="640" y1="333.75" x2="637" y2="333.75" stroke="#a6a6a6" stroke-width="1"/>
<line x1="382.5" y1="292" x2="385.5" y2="292" stroke="#a6a6a6" stroke-width="1"/>
<line x1="640" y1="292" x2="637" y2="292" stroke="#a6a6a6" stroke-width="1"/>
<line x1="382.5" y1="250.25" x2="385.5" y2="250.25" stroke="#a6a6a6" stroke-width="1"/>
<line x1="640" y1="250.25" x2="637" y2="250.25" stroke="#a6a6a6" stroke-width="1"/>
<line x1="382.5" y1="208.5" x2="385.5" y2="208.5" stroke="#a6a6a6" stroke-width="1"/>
<line x1="640" y1="208.5" x2="637" y2="208.5" stroke="#a6a6a6" stroke-width="1"/>
<path d="M383.0,354.6 385.4,348.0 387.7,339.1 390.1,330.1 392.4,322.1 394.8,314.3 397.1,307.2 399.5,300.5 401.9,294.2 404.2,288.7 406.6,284.3 408.9,280.6 411.3,277.4 413.7,274.6 416.0,272.1 418.4,269.8 420.7,267.9 423.1,266.5 425.4,265.1 427.8,264.0 430.2,263.3 432.5,262.8 434.9,262.3 437.2,261.9 439.6,261.4 441.9,260.9 444.3,260.4 446.7,259.7 449.0,259.0 451.4,258.1 453.7,257.1 456.1,256.0 458.4,254.9 460.8,253.8 463.2,252.7 465.5,251.7 467.9,250.7 470.2,249.8 472.6,249.0 475.0,248.3 477.3,247.8 479.7,247.6 482.0,247.4 484.4,247.4 486.7,247.5 489.1,247.7 491.5,247.9 493.8,248.3 496.2,248.7 498.5,249.2 500.9,249.6 503.2,250.1 505.6,250.6 508.0,251.1 510.3,251.5 512.7,251.9 515.0,252.3 517.4,252.6 519.8,252.9 522.1,253.2 524.5,253.3 526.8,253.3 529.2,253.2 531.5,253.1 533.9,253.0 536.3,252.9 538.6,252.7 541.0,252.7 543.3,252.7 545.7,252.8 548.0,253.1 550.4,253.4 552.8,253.7 555.1,254.1 557.5,254.4 559.8,254.7 562.2,255.1 564.6,255.4 566.9,255.8 569.3,256.1 571.6,256.5 574.0,256.8 576.3,257.0 578.7,257.0 581.1,256.8 583.4,256.5 585.8,256.2 588.1,256.0 590.5,256.0 592.8,256.6 595.2,257.4 597.6,258.4 599.9,260.1 602.3,262.1 604.6,264.4 607.0,267.4 609.3,270.8 611.7,274.7 614.1,279.0 616.4,283.9 618.8,289.2 621.1,294.9 623.5,301.1 625.9,307.7 628.2,314.5 630.6,321.3 632.9,328.2 635.3,335.9 637.6,345.4 640.0,356.3" fill="none" stroke="#0000ff" stroke-width="1.5" stroke-linejoin="round"/>
<path d="M383.0,359.7 385.4,353.2 387.7,344.3 390.1,335.1 392.4,326.2 394.8,317.5 397.1,309.3 399.5,301.6 401.9,294.2 404.2,287.6 406.6,282.1 408.9,277.2 411.3,272.9 413.7,269.1 416.0,265.6 418.4,262.4 420.7,259.7 423.1,257.5 425.4,255.5 427.8,253.9 430.2,252.8 432.5,252.1 434.9,251.5 437.2,251.0 439.6,250.6 441.9,250.2 444.3,249.8 446.7,249.3 449.0,248.9 451.4,248.3 453.7,247.7 456.1,247.1 458.4,246.5 460.8,245.9 463.2,245.3 465.5,244.8 467.9,244.3 470.2,243.9 472.6,243.5 475.0,243.3 477.3,243.2 479.7,243.3 482.0,243.5 484.4,243.8 486.7,244.2 489.1,244.6 491.5,245.1 493.8,245.6 496.2,246.1 498.5,246.7 500.9,247.2 503.2,247.7 505.6,248.1 508.0,248.6 510.3,248.9 512.7,249.2 515.0,249.5 517.4,249.7 519.8,249.8 522.1,249.8 524.5,249.7 526.8,249.4 529.2,249.1 531.5,248.7 533.9,248.3 536.3,247.9 538.6,247.5 541.0,247.2 543.3,246.9 545.7,246.8 548.0,246.7 550.4,246.7 552.8,246.8 555.1,246.9 557.5,247.1 559.8,247.3 562.2,247.7 564.6,248.1 566.9,248.7 569.3,249.3 571.6,250.0 574.0,250.8 576.3,251.7 578.7,252.5 581.1,253.1 583.4,253.8 585.8,254.4 588.1,255.1 590.5,256.1 592.8,257.5 595.2,259.2 597.6,261.0 599.9,263.3 602.3,265.8 604.6,268.6 607.0,271.9 609.3,275.6 611.7,279.5 614.1,283.7 616.4,288.5 618.8,293.5 621.1,298.7 623.5,304.3 625.9,310.3 628.2,316.4 630.6,322.4 632.9,328.5 635.3,335.5 637.6,343.9 640.0,353.8" fill="none" stroke="#ff0000" stroke-width="1.5" stroke-linejoin="round"/>
<path d="M383.0,356.0 385.4,349.7 387.7,341.0 390.1,332.1 392.4,323.8 394.8,315.6 397.1,307.9 399.5,300.5 401.9,293.5 404.2,287.2 406.6,282.0 408.9,277.3 411.3,273.3 413.7,269.6 416.0,266.4 418.4,263.4 420.7,260.9 423.1,259.0 425.4,257.3 427.8,256.0 430.2,255.2 432.5,254.9 434.9,254.7 437.2,254.6 439.6,254.6 441.9,254.7 444.3,254.9 446.7,255.0 449.0,255.1 451.4,255.1 453.7,255.0 456.1,254.8 458.4,254.6 460.8,254.3 463.2,254.0 465.5,253.6 467.9,253.1 470.2,252.6 472.6,252.0 475.0,251.4 477.3,250.9 479.7,250.3 482.0,249.7 484.4,249.1 486.7,248.4 489.1,247.8 491.5,247.2 493.8,246.6 496.2,246.0 498.5,245.5 500.9,245.0 503.2,244.5 505.6,244.1 508.0,243.7 510.3,243.3 512.7,243.0 515.0,242.7 517.4,242.5 519.8,242.3 522.1,242.1 524.5,241.8 526.8,241.5 529.2,241.2 531.5,240.9 533.9,240.6 536.3,240.3 538.6,240.1 541.0,239.9 543.3,239.8 545.7,239.8 548.0,239.7 550.4,239.7 552.8,239.7 555.1,239.7 557.5,239.8 559.8,239.9 562.2,240.0 564.6,240.3 566.9,240.6 569.3,241.0 571.6,241.5 574.0,242.0 576.3,242.6 578.7,243.3 581.1,244.0 583.4,244.8 585.8,245.6 588.1,246.6 590.5,247.9 592.8,249.7 595.2,251.8 597.6,254.3 599.9,257.2 602.3,260.4 604.6,263.9 607.0,267.9 609.3,272.3 611.7,276.9 614.1,281.9 616.4,287.3 618.8,293.0 621.1,298.9 623.5,305.1 625.9,311.5 628.2,318.1 630.6,324.5 632.9,330.9 635.3,338.2 637.6,347.1 640.0,357.4" fill="none" stroke="#0000ff" stroke-width="1.5" stroke-linejoin="round"/>
<path d="M383.0,360.7 385.4,354.8 387.7,346.4 390.1,337.8 392.4,329.2 394.8,320.8 397.1,312.9 399.5,305.3 401.9,298.0 404.2,291.4 406.6,285.8 408.9,280.9 411.3,276.5 413.7,272.5 416.0,268.9 418.4,265.6 420.7,262.7 423.1,260.4 425.4,258.4 427.8,256.8 430.2,255.7 432.5,255.1 434.9,254.6 437.2,254.4 439.6,254.3 441.9,254.4 444.3,254.6 446.7,254.8 449.0,255.1 451.4,255.4 453.7,255.7 456.1,256.0 458.4,256.3 460.8,256.7 463.2,257.1 465.5,257.5 467.9,257.9 470.2,258.2 472.6,258.6 475.0,258.9 477.3,259.3 479.7,259.7 482.0,259.7 484.4,259.7 486.7,259.6 489.1,259.3 491.5,259.0 493.8,258.5 496.2,258.0 498.5,257.4 500.9,256.7 503.2,255.9 505.6,255.0 508.0,254.1 510.3,253.2 512.7,252.3 515.0,251.3 517.4,250.4 519.8,249.4 522.1,248.5 524.5,247.5 526.8,246.5 529.2,245.6 531.5,244.7 533.9,243.9 536.3,243.2 538.6,242.6 541.0,242.1 543.3,241.8 545.7,241.7 548.0,241.6 550.4,241.6 552.8,241.7 555.1,242.0 557.5,242.3 559.8,242.7 562.2,243.2 564.6,243.8 566.9,244.6 569.3,245.4 571.6,246.4 574.0,247.4 576.3,248.4 578.7,249.4 581.1,250.4 583.4,251.3 585.8,252.3 588.1,253.3 590.5,254.6 592.8,256.4 595.2,258.4 597.6,260.7 599.9,263.3 602.3,266.3 604.6,269.6 607.0,273.3 609.3,277.5 611.7,281.9 614.1,286.6 616.4,291.8 618.8,297.2 621.1,302.9 623.5,308.8 625.9,314.9 628.2,321.2 630.6,327.4 632.9,333.7 635.3,340.7 637.6,349.7 640.0,360.0" fill="none" stroke="#ff0000" stroke-width="1.5" stroke-linejoin="round"/>
<path d="M383.0,353.4 385.4,345.9 387.7,335.8 390.1,325.3 392.4,316.0 394.8,306.8 397.1,298.3 399.5,290.2 401.9,282.6 404.2,275.9 406.6,270.3 408.9,265.4 411.3,261.2 413.7,257.6 416.0,254.4 418.4,251.7 420.7,249.5 423.1,248.0 425.4,246.7 427.8,245.9 430.2,245.6 432.5,245.7 434.9,246.0 437.2,246.4 439.6,246.8 441.9,247.2 444.3,247.5 446.7,247.8 449.0,248.0 451.4,247.9 453.7,247.8 456.1,247.5 458.4,247.0 460.8,246.5 463.2,245.9 465.5,245.2 467.9,244.4 470.2,243.6 472.6,242.7 475.0,241.8 477.3,241.0 479.7,240.3 482.0,239.8 484.4,239.4 486.7,239.0 489.1,238.7 491.5,238.5 493.8,238.4 496.2,238.3 498.5,238.3 500.9,238.4 503.2,238.5 505.6,238.7 508.0,238.9 510.3,239.1 512.7,239.3 515.0,239.5 517.4,239.6 519.8,239.7 522.1,239.8 524.5,239.7 526.8,239.5 529.2,239.2 531.5,238.9 533.9,238.6 536.3,238.2 538.6,237.9 541.0,237.6 543.3,237.4 545.7,237.2 548.0,237.0 550.4,236.8 552.8,236.8 555.1,236.7 557.5,236.8 559.8,237.0 562.2,237.3 564.6,237.8 566.9,238.4 569.3,239.1 571.6,240.0 574.0,241.0 576.3,242.1 578.7,243.2 581.1,244.4 583.4,245.5 585.8,246.7 588.1,247.9 590.5,249.3 592.8,251.2 595.2,253.2 597.6,255.5 599.9,258.1 602.3,260.9 604.6,263.8 607.0,267.2 609.3,270.8 611.7,274.7 614.1,278.9 616.4,283.4 618.8,288.3 621.1,293.3 623.5,298.7 625.9,304.5 628.2,310.5 630.6,316.3 632.9,322.2 635.3,329.0 637.6,336.8 640.0,346.1" fill="none" stroke="#0000ff" stroke-width="1.5" stroke-linejoin="round"/>
<path d="M383.0,354.3 385.4,347.2 387.7,337.6 390.1,327.6 392.4,318.6 394.8,309.8 397.1,301.5 399.5,293.5 401.9,286.0 404.2,279.3 406.6,273.7 408.9,268.7 411.3,264.3 413.7,260.5 416.0,257.1 418.4,254.0 420.7,251.5 423.1,249.6 425.4,248.0 427.8,246.8 430.2,246.2 432.5,246.0 434.9,246.0 437.2,246.2 439.6,246.5 441.9,246.7 444.3,247.1 446.7,247.4 449.0,247.6 451.4,247.8 453.7,248.0 456.1,248.0 458.4,248.0 460.8,248.0 463.2,247.9 465.5,247.9 467.9,247.7 470.2,247.6 472.6,247.4 475.0,247.3 477.3,247.3 479.7,247.3 482.0,247.4 484.4,247.5 486.7,247.7 489.1,247.8 491.5,248.1 493.8,248.3 496.2,248.6 498.5,249.0 500.9,249.4 503.2,249.8 505.6,250.2 508.0,250.6 510.3,251.0 512.7,251.4 515.0,251.7 517.4,252.0 519.8,252.3 522.1,252.5 524.5,252.5 526.8,252.4 529.2,252.2 531.5,251.9 533.9,251.5 536.3,251.1 538.6,250.6 541.0,250.1 543.3,249.7 545.7,249.2 548.0,248.9 550.4,248.5 552.8,248.1 555.1,247.6 557.5,247.2 559.8,246.7 562.2,246.3 564.6,245.9 566.9,245.7 569.3,245.5 571.6,245.3 574.0,245.3 576.3,245.2 578.7,245.3 581.1,245.4 583.4,245.5 585.8,245.8 588.1,246.2 590.5,246.9 592.8,248.3 595.2,249.9 597.6,251.9 599.9,254.4 602.3,257.3 604.6,260.3 607.0,263.9 609.3,267.8 611.7,272.1 614.1,276.7 616.4,281.7 618.8,287.1 621.1,292.7 623.5,298.7 625.9,305.0 628.2,311.5 630.6,317.7 632.9,324.0 635.3,331.1 637.6,339.5 640.0,349.2" fill="none" stroke="#ff0000" stroke-width="1.5" stroke-linejoin="round"/>
<path d="M383.0,363.3 385.4,357.7 387.7,349.5 390.1,341.0 392.4,332.4 394.8,323.8 397.1,315.7 399.5,307.8 401.9,300.2 404.2,293.4 406.6,287.5 408.9,282.3 411.3,277.5 413.7,273.2 416.0,269.2 418.4,265.4 420.7,262.2 423.1,259.5 425.4,257.1 427.8,255.1 430.2,253.6 432.5,252.6 434.9,251.8 437.2,251.2 439.6,250.8 441.9,250.5 444.3,250.2 446.7,250.1 449.0,250.0 451.4,249.9 453.7,249.8 456.1,249.7 458.4,249.7 460.8,249.8 463.2,249.9 465.5,250.0 467.9,250.2 470.2,250.4 472.6,250.6 475.0,250.9 477.3,251.3 479.7,251.8 482.0,252.2 484.4,252.6 486.7,253.0 489.1,253.4 491.5,253.7 493.8,254.1 496.2,254.4 498.5,254.8 500.9,255.1 503.2,255.4 505.6,255.6 508.0,255.9 510.3,256.1 512.7,256.2 515.0,256.4 517.4,256.5 519.8,256.5 522.1,256.5 524.5,256.4 526.8,256.2 529.2,255.9 531.5,255.5 533.9,255.1 536.3,254.6 538.6,254.1 541.0,253.7 543.3,253.3 545.7,253.0 548.0,252.8 550.4,252.6 552.8,252.4 555.1,252.2 557.5,252.0 559.8,251.8 562.2,251.6 564.6,251.4 566.9,251.4 569.3,251.4 571.6,251.5 574.0,251.6 576.3,251.8 578.7,252.0 581.1,252.2 583.4,252.4 585.8,252.8 588.1,253.3 590.5,254.2 592.8,255.7 595.2,257.5 597.6,259.6 599.9,262.2 602.3,265.2 604.6,268.5 607.0,272.3 609.3,276.6 611.7,281.1 614.1,286.0 616.4,291.3 618.8,296.9 621.1,302.6 623.5,308.6 625.9,314.8 628.2,321.1 630.6,327.3 632.9,333.5 635.3,340.5 637.6,349.4 640.0,359.6" fill="none" stroke="#0000ff" stroke-width="1.5" stroke-linejoin="round"/>
<path d="M383.0,357.7 385.4,351.9 387.7,343.7 390.1,335.4 392.4,327.3 394.8,319.3 397.1,311.8 399.5,304.5 401.9,297.5 404.2,291.2 406.6,285.8 408.9,281.0 411.3,276.6 413.7,272.7 416.0,269.0 418.4,265.5 420.7,262.5 423.1,260.0 425.4,257.6 427.8,255.6 430.2,254.1 432.5,253.1 434.9,252.1 437.2,251.4 439.6,250.7 441.9,250.1 444.3,249.5 446.7,248.9 449.0,248.4 451.4,247.8 453.7,247.2 456.1,246.5 458.4,245.9 460.8,245.4 463.2,244.8 465.5,244.4 467.9,243.9 470.2,243.6 472.6,243.3 475.0,243.1 477.3,243.0 479.7,243.1 482.0,243.4 484.4,243.8 486.7,244.3 489.1,244.8 491.5,245.5 493.8,246.2 496.2,247.0 498.5,247.8 500.9,248.8 503.2,249.7 505.6,250.8 508.0,251.8 510.3,252.8 512.7,253.8 515.0,254.8 517.4,255.8 519.8,256.7 522.1,257.5 524.5,258.1 526.8,258.5 529.2,258.8 531.5,259.0 533.9,259.0 536.3,258.8 538.6,258.6 541.0,258.2 543.3,257.8 545.7,257.4 548.0,257.1 550.4,256.7 552.8,256.1 555.1,255.5 557.5,254.7 559.8,253.8 562.2,252.8 564.6,251.8 566.9,250.8 569.3,249.9 571.6,248.9 574.0,248.0 576.3,247.2 578.7,246.4 581.1,245.7 583.4,245.2 585.8,244.8 588.1,244.8 590.5,245.2 592.8,246.3 595.2,247.9 597.6,250.0 599.9,252.8 602.3,256.0 604.6,259.5 607.0,263.6 609.3,268.3 611.7,273.2 614.1,278.6 616.4,284.5 618.8,290.6 621.1,297.0 623.5,303.7 625.9,310.6 628.2,317.6 630.6,324.4 632.9,331.2 635.3,338.6 637.6,347.8 640.0,358.4" fill="none" stroke="#ff0000" stroke-width="1.5" stroke-linejoin="round"/>
<path d="M383.0,353.3 385.4,346.8 387.7,338.0 390.1,328.9 392.4,320.7 394.8,312.5 397.1,304.9 399.5,297.5 401.9,290.4 404.2,284.0 406.6,278.6 408.9,273.7 411.3,269.3 413.7,265.4 416.0,261.7 418.4,258.4 420.7,255.4 423.1,253.1 425.4,251.0 427.8,249.3 430.2,248.1 432.5,247.5 434.9,247.0 437.2,246.8 439.6,246.7 441.9,246.8 444.3,246.9 446.7,247.2 449.0,247.5 451.4,247.9 453.7,248.2 456.1,248.7 458.4,249.1 460.8,249.6 463.2,250.1 465.5,250.5 467.9,251.0 470.2,251.4 472.6,251.7 475.0,252.0 477.3,252.3 479.7,252.5 482.0,252.6 484.4,252.5 486.7,252.3 489.1,252.0 491.5,251.5 493.8,251.0 496.2,250.5 498.5,249.8 500.9,249.1 503.2,248.5 505.6,247.8 508.0,247.1 510.3,246.5 512.7,245.9 515.0,245.3 517.4,244.9 519.8,244.5 522.1,244.2 524.5,243.9 526.8,243.6 529.2,243.4 531.5,243.2 533.9,243.1 536.3,243.0 538.6,243.1 541.0,243.2 543.3,243.4 545.7,243.7 548.0,244.0 550.4,244.3 552.8,244.6 555.1,244.9 557.5,245.2 559.8,245.4 562.2,245.5 564.6,245.6 566.9,245.8 569.3,245.9 571.6,245.9 574.0,245.9 576.3,245.8 578.7,245.7 581.1,245.6 583.4,245.4 585.8,245.3 588.1,245.4 590.5,245.8 592.8,246.8 595.2,248.1 597.6,249.9 599.9,252.3 602.3,255.1 604.6,258.2 607.0,261.9 609.3,266.1 611.7,270.6 614.1,275.6 616.4,281.1 618.8,287.0 621.1,293.1 623.5,299.7 625.9,306.5 628.2,313.4 630.6,320.2 632.9,326.9 635.3,334.4 637.6,343.4 640.0,353.7" fill="none" stroke="#0000ff" stroke-width="1.5" stroke-linejoin="round"/>
<path d="M383.0,357.0 385.4,350.6 387.7,341.8 390.1,332.7 392.4,324.2 394.8,315.8 397.1,308.1 399.5,300.6 401.9,293.6 404.2,287.4 406.6,282.2 408.9,277.6 411.3,273.7 413.7,270.2 416.0,267.1 418.4,264.3 420.7,262.0 423.1,260.3 425.4,258.7 427.8,257.6 430.2,256.9 432.5,256.6 434.9,256.5 437.2,256.4 439.6,256.3 441.9,256.4 444.3,256.4 446.7,256.3 449.0,256.1 451.4,255.7 453.7,255.2 456.1,254.6 458.4,253.9 460.8,253.0 463.2,252.1 465.5,251.0 467.9,249.9 470.2,248.8 472.6,247.5 475.0,246.3 477.3,245.2 479.7,244.1 482.0,243.2 484.4,242.3 486.7,241.6 489.1,240.9 491.5,240.4 493.8,240.1 496.2,239.8 498.5,239.7 500.9,239.8 503.2,240.0 505.6,240.3 508.0,240.7 510.3,241.2 512.7,241.8 515.0,242.5 517.4,243.2 519.8,244.0 522.1,244.8 524.5,245.5 526.8,246.1 529.2,246.7 531.5,247.2 533.9,247.6 536.3,248.0 538.6,248.4 541.0,248.7 543.3,249.0 545.7,249.4 548.0,249.8 550.4,250.1 552.8,250.4 555.1,250.6 557.5,250.8 559.8,250.9 562.2,251.0 564.6,251.1 566.9,251.2 569.3,251.3 571.6,251.4 574.0,251.5 576.3,251.6 578.7,251.6 581.1,251.6 583.4,251.6 585.8,251.7 588.1,251.9 590.5,252.4 592.8,253.5 595.2,255.0 597.6,256.7 599.9,259.0 602.3,261.7 604.6,264.7 607.0,268.2 609.3,272.1 611.7,276.4 614.1,281.1 616.4,286.2 618.8,291.7 621.1,297.4 623.5,303.4 625.9,309.8 628.2,316.3 630.6,322.7 632.9,329.2 635.3,336.4 637.6,345.3 640.0,355.6" fill="none" stroke="#ff0000" stroke-width="1.5" stroke-linejoin="round"/>
<path d="M383.0,355.5 385.4,349.9 387.7,342.0 390.1,333.9 392.4,326.2 394.8,318.5 397.1,311.3 399.5,304.1 401.9,297.2 404.2,290.8 406.6,285.3 408.9,280.2 411.3,275.4 413.7,271.0 416.0,266.7 418.4,262.6 420.7,258.8 423.1,255.4 425.4,252.3 427.8,249.4 430.2,247.0 432.5,245.0 434.9,243.3 437.2,241.7 439.6,240.3 441.9,239.0 444.3,237.8 446.7,236.7 449.0,235.7 451.4,234.8 453.7,234.0 456.1,233.4 458.4,232.9 460.8,232.6 463.2,232.5 465.5,232.5 467.9,232.6 470.2,232.9 472.6,233.2 475.0,233.7 477.3,234.2 479.7,234.9 482.0,235.8 484.4,236.7 486.7,237.5 489.1,238.2 491.5,238.8 493.8,239.4 496.2,239.9 498.5,240.3 500.9,240.6 503.2,240.8 505.6,241.0 508.0,241.1 510.3,241.2 512.7,241.3 515.0,241.3 517.4,241.3 519.8,241.3 522.1,241.3 524.5,241.2 526.8,241.1 529.2,241.0 531.5,240.9 533.9,240.8 536.3,240.7 538.6,240.7 541.0,240.8 543.3,240.9 545.7,241.0 548.0,241.2 550.4,241.3 552.8,241.4 555.1,241.5 557.5,241.6 559.8,241.6 562.2,241.6 564.6,241.6 566.9,241.7 569.3,241.7 571.6,241.7 574.0,241.6 576.3,241.6 578.7,241.5 581.1,241.6 583.4,241.6 585.8,241.8 588.1,242.1 590.5,242.8 592.8,244.1 595.2,245.8 597.6,248.0 599.9,250.8 602.3,254.1 604.6,257.6 607.0,261.7 609.3,266.3 611.7,271.2 614.1,276.6 616.4,282.5 618.8,288.7 621.1,295.1 623.5,301.9 625.9,308.9 628.2,315.9 630.6,322.8 632.9,329.5 635.3,337.0 637.6,346.0 640.0,356.4" fill="none" stroke="#0000ff" stroke-width="1.5" stroke-linejoin="round"/>
<path d="M383.0,353.9 385.4,347.7 387.7,339.0 390.1,330.2 392.4,322.2 394.8,314.2 397.1,306.8 399.5,299.6 401.9,292.7 404.2,286.4 406.6,281.1 408.9,276.3 411.3,271.9 413.7,267.9 416.0,264.0 418.4,260.4 420.7,257.2 423.1,254.4 425.4,251.9 427.8,249.6 430.2,247.9 432.5,246.6 434.9,245.5 437.2,244.6 439.6,243.8 441.9,243.2 444.3,242.7 446.7,242.4 449.0,242.1 451.4,242.0 453.7,242.0 456.1,242.2 458.4,242.5 460.8,242.9 463.2,243.6 465.5,244.3 467.9,245.1 470.2,246.0 472.6,247.0 475.0,247.9 477.3,248.9 479.7,250.0 482.0,250.8 484.4,251.5 486.7,252.0 489.1,252.3 491.5,252.3 493.8,252.2 496.2,251.8 498.5,251.2 500.9,250.5 503.2,249.5 505.6,248.5 508.0,247.3 510.3,246.0 512.7,244.7 515.0,243.3 517.4,242.0 519.8,240.7 522.1,239.5 524.5,238.3 526.8,237.2 529.2,236.2 531.5,235.3 533.9,234.7 536.3,234.2 538.6,233.9 541.0,233.9 543.3,234.1 545.7,234.5 548.0,234.8 550.4,235.4 552.8,236.1 555.1,236.9 557.5,237.7 559.8,238.7 562.2,239.7 564.6,240.8 566.9,241.9 569.3,243.0 571.6,244.1 574.0,245.2 576.3,246.1 578.7,246.9 581.1,247.5 583.4,248.1 585.8,248.5 588.1,249.0 590.5,249.7 592.8,250.8 595.2,252.2 597.6,253.9 599.9,256.1 602.3,258.6 604.6,261.5 607.0,264.8 609.3,268.7 611.7,272.9 614.1,277.6 616.4,282.7 618.8,288.3 621.1,294.2 623.5,300.5 625.9,307.2 628.2,314.0 630.6,320.6 632.9,327.3 635.3,334.8 637.6,343.7 640.0,354.0" fill="none" stroke="#ff0000" stroke-width="1.5" stroke-linejoin="round"/>
<path d="M383.0,358.8 385.4,352.7 387.7,344.1 390.1,335.3 392.4,326.8 394.8,318.5 397.1,310.6 399.5,303.1 401.9,295.9 404.2,289.5 406.6,284.2 408.9,279.5 411.3,275.3 413.7,271.6 416.0,268.3 418.4,265.3 420.7,262.7 423.1,260.8 425.4,259.1 427.8,257.7 430.2,256.9 432.5,256.5 434.9,256.3 437.2,256.2 439.6,256.2 441.9,256.3 444.3,256.4 446.7,256.5 449.0,256.6 451.4,256.6 453.7,256.5 456.1,256.3 458.4,256.1 460.8,255.8 463.2,255.5 465.5,255.2 467.9,254.8 470.2,254.4 472.6,254.0 475.0,253.7 477.3,253.3 479.7,253.1 482.0,252.8 484.4,252.4 486.7,252.1 489.1,251.9 491.5,251.7 493.8,251.5 496.2,251.3 498.5,251.2 500.9,251.2 503.2,251.1 505.6,251.1 508.0,251.1 510.3,251.0 512.7,251.0 515.0,251.0 517.4,251.0 519.8,250.9 522.1,250.8 524.5,250.6 526.8,250.3 529.2,249.9 531.5,249.5 533.9,249.0 536.3,248.5 538.6,248.0 541.0,247.6 543.3,247.1 545.7,246.8 548.0,246.5 550.4,246.2 552.8,245.9 555.1,245.7 557.5,245.4 559.8,245.2 562.2,245.1 564.6,245.0 566.9,245.1 569.3,245.2 571.6,245.5 574.0,245.8 576.3,246.2 578.7,246.7 581.1,247.2 583.4,247.8 585.8,248.5 588.1,249.3 590.5,250.5 592.8,252.3 595.2,254.4 597.6,256.7 599.9,259.6 602.3,262.8 604.6,266.2 607.0,270.1 609.3,274.5 611.7,279.1 614.1,284.0 616.4,289.4 618.8,295.1 621.1,300.8 623.5,306.9 625.9,313.3 628.2,319.7 630.6,326.1 632.9,332.4 635.3,339.6 637.6,348.5 640.0,358.9" fill="none" stroke="#0000ff" stroke-width="1.5" stroke-linejoin="round"/>
<path d="M383.0,346.9 385.4,339.8 387.7,330.4 390.1,320.9 392.4,312.8 394.8,304.9 397.1,297.5 399.5,290.4 401.9,283.6 404.2,277.6 406.6,272.4 408.9,267.8 411.3,263.8 413.7,260.1 416.0,256.7 418.4,253.6 420.7,250.9 423.1,248.8 425.4,246.9 427.8,245.3 430.2,244.3 432.5,243.8 434.9,243.4 437.2,243.2 439.6,243.2 441.9,243.2 444.3,243.4 446.7,243.6 449.0,243.8 451.4,244.1 453.7,244.5 456.1,244.9 458.4,245.3 460.8,245.8 463.2,246.3 465.5,246.9 467.9,247.4 470.2,248.0 472.6,248.5 475.0,249.0 477.3,249.6 479.7,250.1 482.0,250.5 484.4,250.8 486.7,250.9 489.1,251.0 491.5,250.9 493.8,250.7 496.2,250.4 498.5,250.1 500.9,249.6 503.2,249.1 505.6,248.6 508.0,248.0 510.3,247.4 512.7,246.8 515.0,246.2 517.4,245.6 519.8,245.1 522.1,244.6 524.5,244.0 526.8,243.5 529.2,243.0 531.5,242.5 533.9,242.1 536.3,241.7 538.6,241.4 541.0,241.2 543.3,241.1 545.7,241.1 548.0,241.0 550.4,241.0 552.8,240.9 555.1,240.9 557.5,240.8 559.8,240.7 562.2,240.5 564.6,240.3 566.9,240.1 569.3,239.9 571.6,239.7 574.0,239.4 576.3,239.1 578.7,238.8 581.1,238.5 583.4,238.3 585.8,238.1 588.1,238.1 590.5,238.4 592.8,239.3 595.2,240.6 597.6,242.5 599.9,245.0 602.3,247.9 604.6,251.1 607.0,254.8 609.3,259.0 611.7,263.6 614.1,268.7 616.4,274.4 618.8,280.4 621.1,286.8 623.5,293.7 625.9,300.9 628.2,308.1 630.6,315.2 632.9,322.3 635.3,330.0 637.6,339.0 640.0,349.4" fill="none" stroke="#ff0000" stroke-width="1.5" stroke-linejoin="round"/>
<path d="M383.0,352.6 385.4,346.0 387.7,337.1 390.1,328.0 392.4,320.0 394.8,312.1 397.1,304.8 399.5,297.8 401.9,291.2 404.2,285.3 406.6,280.3 408.9,276.0 411.3,272.1 413.7,268.5 416.0,265.2 418.4,262.2 420.7,259.4 423.1,257.2 425.4,255.0 427.8,253.1 430.2,251.6 432.5,250.4 434.9,249.3 437.2,248.3 439.6,247.4 441.9,246.4 444.3,245.4 446.7,244.4 449.0,243.4 451.4,242.4 453.7,241.4 456.1,240.4 458.4,239.5 460.8,238.7 463.2,238.1 465.5,237.5 467.9,237.1 470.2,236.7 472.6,236.6 475.0,236.6 477.3,236.8 479.7,237.2 482.0,237.9 484.4,238.6 486.7,239.4 489.1,240.3 491.5,241.1 493.8,241.9 496.2,242.7 498.5,243.5 500.9,244.2 503.2,244.8 505.6,245.4 508.0,245.9 510.3,246.3 512.7,246.6 515.0,246.8 517.4,247.0 519.8,247.1 522.1,247.2 524.5,247.1 526.8,246.9 529.2,246.7 531.5,246.4 533.9,246.2 536.3,245.9 538.6,245.7 541.0,245.5 543.3,245.4 545.7,245.5 548.0,245.6 550.4,245.7 552.8,245.9 555.1,246.1 557.5,246.3 559.8,246.5 562.2,246.7 564.6,247.0 566.9,247.3 569.3,247.6 571.6,247.9 574.0,248.2 576.3,248.4 578.7,248.5 581.1,248.5 583.4,248.5 585.8,248.5 588.1,248.5 590.5,248.8 592.8,249.7 595.2,250.8 597.6,252.3 599.9,254.3 602.3,256.7 604.6,259.4 607.0,262.6 609.3,266.3 611.7,270.5 614.1,275.0 616.4,280.1 618.8,285.6 621.1,291.5 623.5,297.8 625.9,304.5 628.2,311.4 630.6,318.1 632.9,324.9 635.3,332.5 637.6,341.5 640.0,351.9" fill="none" stroke="#0000ff" stroke-width="1.5" stroke-linejoin="round"/>
<path d="M383.0,362.4 385.4,356.5 387.7,348.1 390.1,339.3 392.4,330.5 394.8,321.7 397.1,313.4 399.5,305.4 401.9,297.6 404.2,290.7 406.6,284.7 408.9,279.3 411.3,274.4 413.7,270.0 416.0,265.9 418.4,262.1 420.7,258.8 423.1,256.1 425.4,253.6 427.8,251.5 430.2,249.9 432.5,248.8 434.9,247.8 437.2,247.1 439.6,246.4 441.9,245.8 444.3,245.3 446.7,244.7 449.0,244.2 451.4,243.7 453.7,243.1 456.1,242.6 458.4,242.0 460.8,241.5 463.2,241.1 465.5,240.7 467.9,240.3 470.2,239.9 472.6,239.6 475.0,239.4 477.3,239.4 479.7,239.4 482.0,239.6 484.4,239.9 486.7,240.2 489.1,240.6 491.5,241.0 493.8,241.4 496.2,241.8 498.5,242.2 500.9,242.6 503.2,243.0 505.6,243.4 508.0,243.8 510.3,244.1 512.7,244.4 515.0,244.7 517.4,244.9 519.8,245.1 522.1,245.2 524.5,245.2 526.8,245.0 529.2,244.8 531.5,244.6 533.9,244.3 536.3,244.0 538.6,243.7 541.0,243.4 543.3,243.2 545.7,243.1 548.0,243.0 550.4,242.9 552.8,242.9 555.1,242.9 557.5,243.0 559.8,243.2 562.2,243.4 564.6,243.8 566.9,244.2 569.3,244.9 571.6,245.6 574.0,246.4 576.3,247.3 578.7,248.2 581.1,249.1 583.4,250.1 585.8,251.1 588.1,252.3 590.5,253.7 592.8,255.6 595.2,257.8 597.6,260.2 599.9,263.0 602.3,266.1 604.6,269.4 607.0,273.2 609.3,277.3 611.7,281.7 614.1,286.3 616.4,291.3 618.8,296.6 621.1,302.0 623.5,307.6 625.9,313.5 628.2,319.5 630.6,325.4 632.9,331.3 635.3,338.0 637.6,346.3 640.0,356.0" fill="none" stroke="#ff0000" stroke-width="1.5" stroke-linejoin="round"/>
<path d="M383.0,358.4 385.4,352.4 387.7,343.9 390.1,335.3 392.4,326.9 394.8,318.6 397.1,310.8 399.5,303.3 401.9,296.1 404.2,289.6 406.6,284.1 408.9,279.2 411.3,274.8 413.7,270.9 416.0,267.2 418.4,263.8 420.7,260.9 423.1,258.5 425.4,256.4 427.8,254.6 430.2,253.4 432.5,252.6 434.9,252.0 437.2,251.5 439.6,251.2 441.9,251.0 444.3,250.8 446.7,250.7 449.0,250.6 451.4,250.6 453.7,250.5 456.1,250.4 458.4,250.3 460.8,250.2 463.2,250.3 465.5,250.3 467.9,250.3 470.2,250.4 472.6,250.5 475.0,250.7 477.3,250.9 479.7,251.2 482.0,251.5 484.4,251.8 486.7,252.0 489.1,252.3 491.5,252.5 493.8,252.8 496.2,253.0 498.5,253.2 500.9,253.4 503.2,253.6 505.6,253.8 508.0,253.9 510.3,254.0 512.7,254.1 515.0,254.2 517.4,254.2 519.8,254.2 522.1,254.1 524.5,253.9 526.8,253.6 529.2,253.3 531.5,252.8 533.9,252.3 536.3,251.8 538.6,251.3 541.0,250.8 543.3,250.3 545.7,250.0 548.0,249.7 550.4,249.3 552.8,249.0 555.1,248.7 557.5,248.3 559.8,247.9 562.2,247.6 564.6,247.3 566.9,247.0 569.3,246.9 571.6,246.7 574.0,246.7 576.3,246.7 578.7,246.7 581.1,246.8 583.4,247.0 585.8,247.3 588.1,247.7 590.5,248.6 592.8,250.1 595.2,251.9 597.6,254.1 599.9,256.8 602.3,259.9 604.6,263.3 607.0,267.3 609.3,271.7 611.7,276.4 614.1,281.4 616.4,286.9 618.8,292.7 621.1,298.7 623.5,305.1 625.9,311.6 628.2,318.3 630.6,324.8 632.9,331.3 635.3,338.6 637.6,347.6 640.0,358.0" fill="none" stroke="#0000ff" stroke-width="1.5" stroke-linejoin="round"/>
<path d="M383.0,350.8 385.4,344.3 387.7,335.4 390.1,326.2 392.4,318.0 394.8,309.9 397.1,302.2 399.5,294.7 401.9,287.5 404.2,281.0 406.6,275.5 408.9,270.5 411.3,266.0 413.7,261.9 416.0,258.2 418.4,254.8 420.7,252.0 423.1,249.7 425.4,247.7 427.8,246.2 430.2,245.3 432.5,244.9 434.9,244.7 437.2,244.8 439.6,245.0 441.9,245.3 444.3,245.7 446.7,246.2 449.0,246.7 451.4,247.2 453.7,247.6 456.1,248.0 458.4,248.4 460.8,248.6 463.2,248.9 465.5,249.0 467.9,249.0 470.2,248.8 472.6,248.6 475.0,248.3 477.3,247.9 479.7,247.4 482.0,246.8 484.4,246.2 486.7,245.5 489.1,244.7 491.5,244.0 493.8,243.3 496.2,242.6 498.5,241.9 500.9,241.3 503.2,240.8 505.6,240.5 508.0,240.2 510.3,240.0 512.7,240.0 515.0,240.0 517.4,240.2 519.8,240.4 522.1,240.7 524.5,241.0 526.8,241.3 529.2,241.5 531.5,241.7 533.9,241.9 536.3,242.1 538.6,242.3 541.0,242.4 543.3,242.5 545.7,242.6 548.0,242.6 550.4,242.4 552.8,242.2 555.1,241.9 557.5,241.5 559.8,241.0 562.2,240.3 564.6,239.7 566.9,239.0 569.3,238.3 571.6,237.7 574.0,237.0 576.3,236.4 578.7,235.9 581.1,235.6 583.4,235.4 585.8,235.5 588.1,235.7 590.5,236.5 592.8,238.0 595.2,239.9 597.6,242.4 599.9,245.5 602.3,249.1 604.6,253.0 607.0,257.3 609.3,262.2 611.7,267.3 614.1,272.9 616.4,279.0 618.8,285.3 621.1,291.8 623.5,298.7 625.9,305.8 628.2,312.9 630.6,319.7 632.9,326.5 635.3,334.0 637.6,342.8 640.0,353.0" fill="none" stroke="#ff0000" stroke-width="1.5" stroke-linejoin="round"/>
<path d="M383.0,357.9 385.4,351.5 387.7,342.6 390.1,333.4 392.4,324.7 394.8,316.2 397.1,308.2 399.5,300.5 401.9,293.3 404.2,286.8 406.6,281.4 408.9,276.6 411.3,272.3 413.7,268.6 416.0,265.2 418.4,262.1 420.7,259.6 423.1,257.5 425.4,255.8 427.8,254.4 430.2,253.5 432.5,253.0 434.9,252.8 437.2,252.6 439.6,252.5 441.9,252.5 444.3,252.5 446.7,252.4 449.0,252.4 451.4,252.3 453.7,252.1 456.1,251.8 458.4,251.5 460.8,251.2 463.2,250.9 465.5,250.5 467.9,250.1 470.2,249.7 472.6,249.3 475.0,249.0 477.3,248.7 479.7,248.5 482.0,248.3 484.4,248.1 486.7,247.9 489.1,247.8 491.5,247.6 493.8,247.5 496.2,247.4 498.5,247.3 500.9,247.2 503.2,247.2 505.6,247.1 508.0,247.1 510.3,247.0 512.7,247.0 515.0,246.9 517.4,246.8 519.8,246.8 522.1,246.6 524.5,246.4 526.8,246.2 529.2,245.9 531.5,245.5 533.9,245.2 536.3,244.8 538.6,244.6 541.0,244.3 543.3,244.2 545.7,244.1 548.0,244.1 550.4,244.1 552.8,244.2 555.1,244.3 557.5,244.4 559.8,244.6 562.2,244.9 564.6,245.2 566.9,245.7 569.3,246.2 571.6,246.8 574.0,247.5 576.3,248.2 578.7,248.9 581.1,249.5 583.4,250.1 585.8,250.8 588.1,251.6 590.5,252.6 592.8,254.2 595.2,256.0 597.6,258.0 599.9,260.5 602.3,263.3 604.6,266.4 607.0,270.0 609.3,273.9 611.7,278.2 614.1,282.7 616.4,287.7 618.8,293.1 621.1,298.6 623.5,304.4 625.9,310.6 628.2,316.9 630.6,323.1 632.9,329.4 635.3,336.4 637.6,345.1 640.0,355.2" fill="none" stroke="#0000ff" stroke-width="1.5" stroke-linejoin="round"/>
<path d="M383.0,357.2 385.4,350.9 387.7,342.2 390.1,333.4 392.4,324.9 394.8,316.7 397.1,308.9 399.5,301.5 401.9,294.4 404.2,288.1 406.6,282.8 408.9,278.1 411.3,274.0 413.7,270.3 416.0,266.9 418.4,263.8 420.7,261.3 423.1,259.2 425.4,257.4 427.8,255.9 430.2,255.0 432.5,254.5 434.9,254.1 437.2,253.9 439.6,253.8 441.9,253.8 444.3,253.8 446.7,253.9 449.0,253.9 451.4,253.9 453.7,253.9 456.1,253.8 458.4,253.7 460.8,253.6 463.2,253.5 465.5,253.5 467.9,253.4 470.2,253.3 472.6,253.2 475.0,253.1 477.3,253.0 479.7,253.1 482.0,253.0 484.4,252.9 486.7,252.7 489.1,252.6 491.5,252.4 493.8,252.1 496.2,251.9 498.5,251.6 500.9,251.4 503.2,251.1 505.6,250.7 508.0,250.4 510.3,250.0 512.7,249.6 515.0,249.3 517.4,248.9 519.8,248.5 522.1,248.0 524.5,247.5 526.8,247.0 529.2,246.4 531.5,245.8 533.9,245.3 536.3,244.8 538.6,244.3 541.0,243.9 543.3,243.6 545.7,243.5 548.0,243.3 550.4,243.3 552.8,243.2 555.1,243.3 557.5,243.3 559.8,243.4 562.2,243.6 564.6,243.9 566.9,244.2 569.3,244.7 571.6,245.2 574.0,245.7 576.3,246.3 578.7,246.9 581.1,247.5 583.4,248.1 585.8,248.8 588.1,249.5 590.5,250.6 592.8,252.2 595.2,254.1 597.6,256.3 599.9,258.9 602.3,261.9 604.6,265.1 607.0,268.9 609.3,273.0 611.7,277.5 614.1,282.3 616.4,287.5 618.8,293.1 621.1,298.9 623.5,305.0 625.9,311.4 628.2,317.9 630.6,324.3 632.9,330.8 635.3,338.0 637.6,347.0 640.0,357.3" fill="none" stroke="#ff0000" stroke-width="1.5" stroke-linejoin="round"/>
<path d="M383.0,352.3 385.4,345.9 387.7,337.0 390.1,327.8 392.4,319.5 394.8,311.1 397.1,303.2 399.5,295.5 401.9,288.1 404.2,281.3 406.6,275.5 408.9,270.2 411.3,265.4 413.7,261.0 416.0,256.9 418.4,253.2 420.7,250.0 423.1,247.4 425.4,245.1 427.8,243.3 430.2,242.0 432.5,241.4 434.9,241.0 437.2,240.8 439.6,240.9 441.9,241.0 444.3,241.3 446.7,241.6 449.0,242.0 451.4,242.5 453.7,242.9 456.1,243.3 458.4,243.8 460.8,244.1 463.2,244.5 465.5,244.8 467.9,244.9 470.2,244.9 472.6,244.9 475.0,244.7 477.3,244.4 479.7,244.0 482.0,243.6 484.4,243.0 486.7,242.4 489.1,241.6 491.5,240.8 493.8,240.0 496.2,239.2 498.5,238.4 500.9,237.6 503.2,236.9 505.6,236.3 508.0,235.8 510.3,235.5 512.7,235.2 515.0,235.1 517.4,235.1 519.8,235.2 522.1,235.4 524.5,235.6 526.8,235.9 529.2,236.2 531.5,236.5 533.9,236.8 536.3,237.2 538.6,237.6 541.0,238.1 543.3,238.5 545.7,239.0 548.0,239.3 550.4,239.5 552.8,239.7 555.1,239.8 557.5,239.9 559.8,239.8 562.2,239.7 564.6,239.5 566.9,239.3 569.3,239.1 571.6,238.8 574.0,238.6 576.3,238.3 578.7,238.1 581.1,238.0 583.4,238.0 585.8,238.2 588.1,238.5 590.5,239.3 592.8,240.7 595.2,242.5 597.6,244.9 599.9,247.9 602.3,251.3 604.6,254.9 607.0,259.1 609.3,263.7 611.7,268.7 614.1,274.1 616.4,279.9 618.8,286.0 621.1,292.3 623.5,298.9 625.9,305.8 628.2,312.7 630.6,319.3 632.9,325.9 635.3,333.2 637.6,341.7 640.0,351.6" fill="none" stroke="#0000ff" stroke-width="1.5" stroke-linejoin="round"/>
<path d="M383.0,355.4 385.4,349.4 387.7,341.0 390.1,332.7 392.4,325.0 394.8,317.4 397.1,310.5 399.5,303.8 401.9,297.5 404.2,292.0 406.6,287.4 408.9,283.5 411.3,280.0 413.7,276.9 416.0,274.0 418.4,271.3 420.7,268.9 423.1,267.0 425.4,265.1 427.8,263.5 430.2,262.2 432.5,261.2 434.9,260.2 437.2,259.2 439.6,258.1 441.9,257.1 444.3,256.0 446.7,254.8 449.0,253.5 451.4,252.0 453.7,250.4 456.1,248.7 458.4,247.0 460.8,245.3 463.2,243.6 465.5,241.9 467.9,240.3 470.2,238.8 472.6,237.3 475.0,236.0 477.3,234.9 479.7,234.0 482.0,233.5 484.4,233.1 486.7,232.9 489.1,232.9 491.5,233.0 493.8,233.2 496.2,233.5 498.5,233.9 500.9,234.4 503.2,234.9 505.6,235.5 508.0,236.2 510.3,236.8 512.7,237.5 515.0,238.2 517.4,238.9 519.8,239.5 522.1,240.1 524.5,240.6 526.8,241.1 529.2,241.4 531.5,241.7 533.9,242.0 536.3,242.3 538.6,242.6 541.0,242.9 543.3,243.2 545.7,243.6 548.0,244.0 550.4,244.4 552.8,244.8 555.1,245.3 557.5,245.7 559.8,246.1 562.2,246.5 564.6,247.0 566.9,247.5 569.3,248.0 571.6,248.5 574.0,249.0 576.3,249.5 578.7,249.9 581.1,250.2 583.4,250.4 585.8,250.7 588.1,251.1 590.5,251.7 592.8,252.9 595.2,254.4 597.6,256.1 599.9,258.4 602.3,261.1 604.6,264.1 607.0,267.6 609.3,271.5 611.7,275.9 614.1,280.6 616.4,285.9 618.8,291.5 621.1,297.4 623.5,303.7 625.9,310.4 628.2,317.2 630.6,323.9 632.9,330.6 635.3,338.2 637.6,347.5 640.0,358.3" fill="none" stroke="#ff0000" stroke-width="1.5" stroke-linejoin="round"/>
<rect x="472.3" y="291" width="75.8" height="75.4" fill="#fff" stroke="#8a8a8a" stroke-width="1"/>
<line x1="474.5" y1="310.1" x2="486.3" y2="310.1" stroke="#0000ff" stroke-width="1.6"/>
<line x1="474.5" y1="347.1" x2="486.3" y2="347.1" stroke="#ff0000" stroke-width="1.6"/>
<text x="487.9" y="304" font-family='"Liberation Sans", sans-serif' font-size="14.5">f<tspan font-size="11.5" dy="7.98">K</tspan><tspan font-size="9.43" dy="7.13" dx="0">1</tspan><tspan font-size="11.5" dy="-7.13" dx="1.38">|</tspan><tspan font-size="11.5" dx="1.15">U</tspan><tspan font-size="14.5" dy="-7.98" dx="0">(K</tspan><tspan font-size="12.04" dy="7.69">1</tspan><tspan font-size="14.5" dy="-7.69">)</tspan></text>
<text x="487.9" y="341.5" font-family='"Liberation Sans", sans-serif' font-size="14.5">f<tspan font-size="11.5" dy="7.98">K</tspan><tspan font-size="9.43" dy="7.13" dx="0">1</tspan><tspan font-size="11.5" dy="-7.13" dx="1.38">|</tspan><tspan font-size="11.5" dx="1.15">L</tspan><tspan font-size="14.5" dy="-7.98" dx="0">(K</tspan><tspan font-size="12.04" dy="7.69">1</tspan><tspan font-size="14.5" dy="-7.69">)</tspan></text>
<text x="380.2" y="380.35" font-size="11.3" text-anchor="end" font-family='"Liberation Sans", sans-serif' >0.04</text>
<text x="380.2" y="338.6" font-size="11.3" text-anchor="end" font-family='"Liberation Sans", sans-serif' >0.06</text>
<text x="380.2" y="296.85" font-size="11.3" text-anchor="end" font-family='"Liberation Sans", sans-serif' >0.08</text>
<text x="380.2" y="255.1" font-size="11.3" text-anchor="end" font-family='"Liberation Sans", sans-serif' >0.1</text>
<text x="380.2" y="213.36" font-size="11.3" text-anchor="end" font-family='"Liberation Sans", sans-serif' >0.12</text>
<text x="382.5" y="389.31" font-size="11.3" text-anchor="middle" font-family='"Liberation Sans", sans-serif' >0</text>
<text x="434" y="389.31" font-size="11.3" text-anchor="middle" font-family='"Liberation Sans", sans-serif' >2</text>
<text x="485.5" y="389.31" font-size="11.3" text-anchor="middle" font-family='"Liberation Sans", sans-serif' >4</text>
<text x="537" y="389.31" font-size="11.3" text-anchor="middle" font-family='"Liberation Sans", sans-serif' >6</text>
<text x="588.5" y="389.31" font-size="11.3" text-anchor="middle" font-family='"Liberation Sans", sans-serif' >8</text>
<text x="640" y="389.31" font-size="11.3" text-anchor="middle" font-family='"Liberation Sans", sans-serif' >10</text>
<clipPath id="cpd"><rect x="345" y="200" width="40" height="200"/></clipPath>
<g clip-path="url(#cpd)">
<text transform="translate(352.4,292.2) rotate(-90)" font-size="16" text-anchor="middle" font-family='"Liberation Sans", sans-serif'>pdf</text>
</g>
<text x="503" y="401.4" font-size="15.3" font-family='"Liberation Sans", sans-serif'>K<tspan font-size="12.3" dy="7.5">1</tspan></text>
<text x="502.76" y="434.54" font-size="26" text-anchor="start" font-family='"Liberation Serif", serif' >(d)</text>
<line x1="80.3" y1="463.5" x2="80.3" y2="632.3" stroke="#e2e2e2" stroke-width="1" stroke-dasharray="2,1"/>
<line x1="134.85" y1="463.5" x2="134.85" y2="632.3" stroke="#e2e2e2" stroke-width="1" stroke-dasharray="2,1"/>
<line x1="189.4" y1="463.5" x2="189.4" y2="632.3" stroke="#e2e2e2" stroke-width="1" stroke-dasharray="2,1"/>
<line x1="243.95" y1="463.5" x2="243.95" y2="632.3" stroke="#e2e2e2" stroke-width="1" stroke-dasharray="2,1"/>
<line x1="25.75" y1="590.1" x2="298.5" y2="590.1" stroke="#e2e2e2" stroke-width="1" stroke-dasharray="2,1"/>
<line x1="25.75" y1="547.9" x2="298.5" y2="547.9" stroke="#e2e2e2" stroke-width="1" stroke-dasharray="2,1"/>
<line x1="25.75" y1="505.7" x2="298.5" y2="505.7" stroke="#e2e2e2" stroke-width="1" stroke-dasharray="2,1"/>
<rect x="25.75" y="463.5" width="272.75" height="168.8" fill="none" stroke="#a6a6a6" stroke-width="1"/>
<line x1="25.75" y1="632.3" x2="25.75" y2="629.3" stroke="#a6a6a6" stroke-width="1"/>
<line x1="25.75" y1="463.5" x2="25.75" y2="466.5" stroke="#a6a6a6" stroke-width="1"/>
<line x1="80.3" y1="632.3" x2="80.3" y2="629.3" stroke="#a6a6a6" stroke-width="1"/>
<line x1="80.3" y1="463.5" x2="80.3" y2="466.5" stroke="#a6a6a6" stroke-width="1"/>
<line x1="134.85" y1="632.3" x2="134.85" y2="629.3" stroke="#a6a6a6" stroke-width="1"/>
<line x1="134.85" y1="463.5" x2="134.85" y2="466.5" stroke="#a6a6a6" stroke-width="1"/>
<line x1="189.4" y1="632.3" x2="189.4" y2="629.3" stroke="#a6a6a6" stroke-width="1"/>
<line x1="189.4" y1="463.5" x2="189.4" y2="466.5" stroke="#a6a6a6" stroke-width="1"/>
<line x1="243.95" y1="632.3" x2="243.95" y2="629.3" stroke="#a6a6a6" stroke-width="1"/>
<line x1="243.95" y1="463.5" x2="243.95" y2="466.5" stroke="#a6a6a6" stroke-width="1"/>
<line x1="298.5" y1="632.3" x2="298.5" y2="629.3" stroke="#a6a6a6" stroke-width="1"/>
<line x1="298.5" y1="463.5" x2="298.5" y2="466.5" stroke="#a6a6a6" stroke-width="1"/>
<line x1="25.75" y1="632.3" x2="28.75" y2="632.3" stroke="#a6a6a6" stroke-width="1"/>
<line x1="298.5" y1="632.3" x2="295.5" y2="632.3" stroke="#a6a6a6" stroke-width="1"/>
<line x1="25.75" y1="590.1" x2="28.75" y2="590.1" stroke="#a6a6a6" stroke-width="1"/>
<line x1="298.5" y1="590.1" x2="295.5" y2="590.1" stroke="#a6a6a6" stroke-width="1"/>
<line x1="25.75" y1="547.9" x2="28.75" y2="547.9" stroke="#a6a6a6" stroke-width="1"/>
<line x1="298.5" y1="547.9" x2="295.5" y2="547.9" stroke="#a6a6a6" stroke-width="1"/>
<line x1="25.75" y1="505.7" x2="28.75" y2="505.7" stroke="#a6a6a6" stroke-width="1"/>
<line x1="298.5" y1="505.7" x2="295.5" y2="505.7" stroke="#a6a6a6" stroke-width="1"/>
<line x1="25.75" y1="463.5" x2="28.75" y2="463.5" stroke="#a6a6a6" stroke-width="1"/>
<line x1="298.5" y1="463.5" x2="295.5" y2="463.5" stroke="#a6a6a6" stroke-width="1"/>
<line x1="120" y1="632.4" x2="298.5" y2="632.4" stroke="#ff0000" stroke-width="1.3"/>
<path d="M28.0,542.0 29.0,522.5 30.0,506.7 31.0,493.4 32.0,483.9 33.0,476.9 33.9,473.6 34.9,471.7 35.9,471.7 36.9,472.7 37.9,474.2 38.9,476.6 39.9,479.7 40.9,482.9 41.9,486.6 42.9,490.4 43.9,494.5 44.8,498.8 45.8,502.9 46.8,507.0 47.8,511.0 48.8,514.7 49.8,518.3 50.8,521.8 51.8,525.2 52.8,528.6 53.8,532.1 54.8,535.6 55.7,538.9 56.7,542.1 57.7,545.2 58.7,548.2 59.7,551.1 60.7,554.0 61.7,557.0 62.7,560.0 63.7,563.0 64.7,566.1 65.7,569.1 66.6,572.0 67.6,574.7 68.6,577.2 69.6,579.5 70.6,581.7 71.6,583.7 72.6,585.6 73.6,587.4 74.6,589.3 75.6,591.1 76.6,592.8 77.5,594.5 78.5,596.1 79.5,597.8 80.5,599.4 81.5,601.0 82.5,602.7 83.5,604.4 84.5,606.1 85.5,607.8 86.5,609.4 87.4,611.0 88.4,612.5 89.4,614.0 90.4,615.5 91.4,616.9 92.4,618.2 93.4,619.3 94.4,620.3 95.4,621.2 96.4,622.1 97.4,622.9 98.3,623.7 99.3,624.4 100.3,625.0 101.3,625.6 102.3,626.1 103.3,626.6 104.3,627.0 105.3,627.5 106.3,627.9 107.3,628.2 108.3,628.6 109.2,628.9 110.2,629.2 111.2,629.4 112.2,629.6 113.2,629.9 114.2,630.0 115.2,630.2 116.2,630.4 117.2,630.5 118.2,630.7 119.2,630.8 120.1,630.9 121.1,631.1 122.1,631.2 123.1,631.3 124.1,631.5 125.1,631.6 126.1,631.7 127.1,631.8 128.1,631.9 129.1,632.0 130.1,632.0 131.0,632.1 132.0,632.2 133.0,632.2 134.0,632.3 135.0,632.3 136.0,632.3" fill="none" stroke="#ff0000" stroke-width="2.2" stroke-linejoin="round" stroke-linecap="round"/>
<path d="M28.0,542.5 29.0,537.0 30.0,518.6 31.0,503.7 32.0,491.6 33.0,483.0 33.9,477.2 34.9,474.6 35.9,473.1 36.9,473.4 37.9,474.5 38.9,476.0 39.9,478.6 40.9,481.5 41.9,484.9 42.9,488.6 43.9,492.4 44.8,496.5 45.8,500.6 46.8,504.6 47.8,508.6 48.8,512.5 49.8,516.1 50.8,519.6 51.8,523.0 52.8,526.3 53.8,529.7 54.8,533.1 55.7,536.5 56.7,539.8 57.7,542.9 58.7,545.9 59.7,548.9 60.7,551.8 61.7,554.7 62.7,557.6 63.7,560.7 64.7,563.7 65.7,566.8 66.6,569.8 67.6,572.7 68.6,575.4 69.6,577.8 70.6,580.1 71.6,582.2 72.6,584.2 73.6,586.1 74.6,588.0 75.6,589.8 76.6,591.6 77.5,593.4 78.5,595.0 79.5,596.7 80.5,598.3 81.5,599.9 82.5,601.6 83.5,603.3 84.5,605.0 85.5,606.6 86.5,608.3 87.4,609.9 88.4,611.4 89.4,612.8 90.4,614.3 91.4,615.8 92.4,617.1 93.4,618.3 94.4,619.4 95.4,620.3 96.4,621.2 97.4,622.1 98.3,622.9 99.3,623.6 100.3,624.3 101.3,624.9 102.3,625.5 103.3,626.0 104.3,626.5 105.3,626.9 106.3,627.4 107.3,627.8 108.3,628.2 109.2,628.5 110.2,628.8 111.2,629.1 112.2,629.4 113.2,629.6 114.2,629.8 115.2,630.0 116.2,630.2 117.2,630.4 118.2,630.5 119.2,630.7 120.1,630.8 121.1,631.0 122.1,631.1 123.1,631.2 124.1,631.4 125.1,631.5 126.1,631.7 127.1,631.8 128.1,631.9 129.1,632.0 130.1,632.0 131.0,632.1 132.0,632.2 133.0,632.2 134.0,632.3 135.0,632.3 136.0,632.3" fill="none" stroke="#ff0000" stroke-width="1.2" stroke-linejoin="round"/>
<path d="M28.0,518.7 29.0,503.1 30.0,490.2 31.0,480.9 32.0,474.3 33.0,471.1 33.9,469.3 34.9,469.4 35.9,470.7 36.9,472.6 37.9,475.5 38.9,478.8 39.9,482.4 40.9,486.3 41.9,490.4 42.9,494.7 43.9,499.1 44.8,503.3 45.8,507.5 46.8,511.6 47.8,515.4 48.8,519.1 49.8,522.5 50.8,526.0 51.8,529.4 52.8,532.8 53.8,536.2 54.8,539.4 55.7,542.5 56.7,545.5 57.7,548.3 58.7,551.2 59.7,554.0 60.7,556.8 61.7,559.6 62.7,562.6 63.7,565.5 64.7,568.3 65.7,571.0 66.6,573.6 67.6,576.0 68.6,578.2 69.6,580.2 70.6,582.1 71.6,584.0 72.6,585.8 73.6,587.6 74.6,589.4 75.6,591.2 76.6,592.9 77.5,594.6 78.5,596.3 79.5,598.0 80.5,599.8 81.5,601.6 82.5,603.4 83.5,605.2 84.5,606.9 85.5,608.6 86.5,610.3 87.4,611.9 88.4,613.5 89.4,615.0 90.4,616.5 91.4,617.8 92.4,618.9 93.4,620.0 94.4,620.9 95.4,621.8 96.4,622.7 97.4,623.5 98.3,624.2 99.3,624.8 100.3,625.4 101.3,625.9 102.3,626.4 103.3,626.8 104.3,627.3 105.3,627.7 106.3,628.1 107.3,628.5 108.3,628.8 109.2,629.1 110.2,629.4 111.2,629.7 112.2,629.9 113.2,630.1 114.2,630.3 115.2,630.5 116.2,630.7 117.2,630.8 118.2,631.0 119.2,631.1 120.1,631.3 121.1,631.4 122.1,631.5 123.1,631.7 124.1,631.8 125.1,631.9 126.1,632.0 127.1,632.0 128.1,632.1 129.1,632.1 130.1,632.1 131.0,632.2 132.0,632.2 133.0,632.2 134.0,632.2 135.0,632.2 136.0,632.2" fill="none" stroke="#ff0000" stroke-width="1.2" stroke-linejoin="round"/>
<path d="M28.0,513.6 29.0,499.4 30.0,488.8 31.0,480.8 32.0,476.5 33.0,474.3 33.9,473.9 34.9,474.9 35.9,476.0 36.9,477.9 37.9,480.6 38.9,483.4 39.9,486.7 40.9,490.4 41.9,494.3 42.9,498.4 43.9,502.5 44.8,506.5 45.8,510.4 46.8,514.2 47.8,517.8 48.8,521.2 49.8,524.6 50.8,527.9 51.8,531.4 52.8,534.8 53.8,538.2 54.8,541.4 55.7,544.5 56.7,547.6 57.7,550.5 58.7,553.4 59.7,556.4 60.7,559.4 61.7,562.4 62.7,565.5 63.7,568.6 64.7,571.6 65.7,574.4 66.6,577.1 67.6,579.5 68.6,581.7 69.6,583.7 70.6,585.6 71.6,587.5 72.6,589.3 73.6,591.1 74.6,592.8 75.6,594.4 76.6,596.0 77.5,597.6 78.5,599.2 79.5,600.8 80.5,602.4 81.5,604.0 82.5,605.7 83.5,607.3 84.5,608.9 85.5,610.4 86.5,611.9 87.4,613.4 88.4,614.9 89.4,616.3 90.4,617.7 91.4,618.9 92.4,620.0 93.4,621.0 94.4,621.9 95.4,622.8 96.4,623.7 97.4,624.4 98.3,625.2 99.3,625.8 100.3,626.4 101.3,626.9 102.3,627.4 103.3,627.9 104.3,628.3 105.3,628.7 106.3,629.0 107.3,629.4 108.3,629.6 109.2,629.9 110.2,630.1 111.2,630.3 112.2,630.4 113.2,630.5 114.2,630.7 115.2,630.8 116.2,630.9 117.2,631.0 118.2,631.0 119.2,631.1 120.1,631.2 121.1,631.3 122.1,631.5 123.1,631.6 124.1,631.7 125.1,631.8 126.1,631.9 127.1,632.0 128.1,632.0 129.1,632.1 130.1,632.2 131.0,632.2 132.0,632.3 133.0,632.3 134.0,632.3 135.0,632.4 136.0,632.4" fill="none" stroke="#ff0000" stroke-width="1.2" stroke-linejoin="round"/>
<path d="M28.0,542.5 29.0,526.0 30.0,509.7 31.0,496.1 32.0,486.2 33.0,478.8 33.9,475.2 34.9,473.2 35.9,472.9 36.9,473.8 37.9,475.1 38.9,477.4 39.9,480.3 40.9,483.5 41.9,487.1 42.9,491.0 43.9,495.1 44.8,499.4 45.8,503.5 46.8,507.7 47.8,511.7 48.8,515.6 49.8,519.2 50.8,522.7 51.8,526.1 52.8,529.5 53.8,533.0 54.8,536.4 55.7,539.8 56.7,543.0 57.7,546.0 58.7,549.0 59.7,551.9 60.7,554.8 61.7,557.7 62.7,560.7 63.7,563.8 64.7,566.8 65.7,569.8 66.6,572.7 67.6,575.5 68.6,578.0 69.6,580.3 70.6,582.4 71.6,584.4 72.6,586.3 73.6,588.2 74.6,590.0 75.6,591.7 76.6,593.5 77.5,595.1 78.5,596.8 79.5,598.4 80.5,600.0 81.5,601.6 82.5,603.3 83.5,604.9 84.5,606.6 85.5,608.2 86.5,609.8 87.4,611.4 88.4,612.8 89.4,614.3 90.4,615.8 91.4,617.1 92.4,618.4 93.4,619.5 94.4,620.5 95.4,621.4 96.4,622.2 97.4,623.0 98.3,623.8 99.3,624.4 100.3,625.1 101.3,625.6 102.3,626.1 103.3,626.5 104.3,626.9 105.3,627.4 106.3,627.7 107.3,628.1 108.3,628.4 109.2,628.7 110.2,629.0 111.2,629.3 112.2,629.5 113.2,629.7 114.2,629.9 115.2,630.1 116.2,630.3 117.2,630.4 118.2,630.6 119.2,630.7 120.1,630.9 121.1,631.0 122.1,631.2 123.1,631.3 124.1,631.5 125.1,631.6 126.1,631.7 127.1,631.8 128.1,631.9 129.1,632.0 130.1,632.1 131.0,632.1 132.0,632.2 133.0,632.3 134.0,632.3 135.0,632.3 136.0,632.3" fill="none" stroke="#ff0000" stroke-width="1.2" stroke-linejoin="round"/>
<path d="M28.0,544.0 29.0,544.4 30.0,531.2 31.0,514.6 32.0,500.8 33.0,490.5 33.9,482.8 34.9,478.8 35.9,476.0 36.9,475.1 37.9,475.4 38.9,476.3 39.9,478.0 40.9,480.8 41.9,483.8 42.9,487.2 43.9,490.8 44.8,494.7 45.8,498.8 46.8,502.8 47.8,506.8 48.8,510.7 49.8,514.4 50.8,518.0 51.8,521.3 52.8,524.7 53.8,528.0 54.8,531.4 55.7,534.7 56.7,538.1 57.7,541.2 58.7,544.3 59.7,547.2 60.7,550.2 61.7,553.0 62.7,555.9 63.7,558.9 64.7,561.9 65.7,564.9 66.6,568.0 67.6,570.9 68.6,573.7 69.6,576.3 70.6,578.7 71.6,580.9 72.6,582.9 73.6,584.9 74.6,586.8 75.6,588.7 76.6,590.6 77.5,592.4 78.5,594.2 79.5,595.9 80.5,597.6 81.5,599.3 82.5,601.0 83.5,602.8 84.5,604.6 85.5,606.3 86.5,608.1 87.4,609.8 88.4,611.4 89.4,613.0 90.4,614.5 91.4,616.1 92.4,617.5 93.4,618.9 94.4,620.0 95.4,621.1 96.4,622.0 97.4,622.9 98.3,623.7 99.3,624.5 100.3,625.1 101.3,625.7 102.3,626.3 103.3,626.7 104.3,627.1 105.3,627.5 106.3,627.9 107.3,628.3 108.3,628.6 109.2,628.9 110.2,629.2 111.2,629.4 112.2,629.6 113.2,629.9 114.2,630.0 115.2,630.2 116.2,630.4 117.2,630.5 118.2,630.7 119.2,630.8 120.1,631.0 121.1,631.1 122.1,631.2 123.1,631.4 124.1,631.5 125.1,631.7 126.1,631.8 127.1,631.9 128.1,632.0 129.1,632.1 130.1,632.2 131.0,632.3 132.0,632.3 133.0,632.4 134.0,632.4 135.0,632.4 136.0,632.4" fill="none" stroke="#ff0000" stroke-width="1.2" stroke-linejoin="round"/>
<path d="M28.0,543.0 29.0,543.2 30.0,541.5 31.0,522.4 32.0,506.9 33.0,494.1 33.9,485.0 34.9,478.4 35.9,475.0 36.9,473.1 37.9,473.1 38.9,473.9 39.9,475.2 40.9,477.7 41.9,480.6 42.9,483.7 43.9,487.3 44.8,491.0 45.8,495.0 46.8,499.1 47.8,503.1 48.8,507.1 49.8,510.9 50.8,514.6 51.8,518.1 52.8,521.5 53.8,524.8 54.8,528.2 55.7,531.6 56.7,535.1 57.7,538.4 58.7,541.6 59.7,544.7 60.7,547.7 61.7,550.7 62.7,553.6 63.7,556.6 64.7,559.7 65.7,562.8 66.6,566.0 67.6,569.1 68.6,572.1 69.6,574.9 70.6,577.5 71.6,579.9 72.6,582.1 73.6,584.2 74.6,586.3 75.6,588.2 76.6,590.1 77.5,592.0 78.5,593.8 79.5,595.6 80.5,597.3 81.5,598.9 82.5,600.6 83.5,602.3 84.5,604.0 85.5,605.7 86.5,607.4 87.4,609.1 88.4,610.7 89.4,612.2 90.4,613.7 91.4,615.1 92.4,616.6 93.4,617.9 94.4,619.2 95.4,620.3 96.4,621.2 97.4,622.1 98.3,623.0 99.3,623.8 100.3,624.5 101.3,625.2 102.3,625.8 103.3,626.4 104.3,626.9 105.3,627.3 106.3,627.8 107.3,628.2 108.3,628.6 109.2,629.0 110.2,629.3 111.2,629.6 112.2,629.9 113.2,630.1 114.2,630.3 115.2,630.5 116.2,630.6 117.2,630.8 118.2,630.9 119.2,631.0 120.1,631.1 121.1,631.3 122.1,631.4 123.1,631.5 124.1,631.6 125.1,631.7 126.1,631.8 127.1,631.9 128.1,632.0 129.1,632.0 130.1,632.1 131.0,632.2 132.0,632.2 133.0,632.2 134.0,632.3 135.0,632.3 136.0,632.3" fill="none" stroke="#ff0000" stroke-width="1.2" stroke-linejoin="round"/>
<path d="M28.0,541.5 29.0,541.5 30.0,531.1 31.0,513.5 32.0,498.9 33.0,487.6 33.9,479.2 34.9,474.2 35.9,471.6 36.9,470.7 37.9,471.3 38.9,472.5 39.9,474.4 40.9,477.2 41.9,480.2 42.9,483.6 43.9,487.3 44.8,491.2 45.8,495.4 46.8,499.5 47.8,503.6 48.8,507.7 49.8,511.6 50.8,515.3 51.8,518.9 52.8,522.4 53.8,526.0 54.8,529.5 55.7,533.1 56.7,536.7 57.7,540.1 58.7,543.3 59.7,546.5 60.7,549.6 61.7,552.6 62.7,555.6 63.7,558.7 64.7,561.8 65.7,565.0 66.6,568.1 67.6,571.1 68.6,574.0 69.6,576.6 70.6,579.1 71.6,581.3 72.6,583.3 73.6,585.2 74.6,587.0 75.6,588.8 76.6,590.5 77.5,592.2 78.5,593.8 79.5,595.4 80.5,596.9 81.5,598.4 82.5,599.9 83.5,601.5 84.5,603.1 85.5,604.7 86.5,606.3 87.4,607.8 88.4,609.4 89.4,610.8 90.4,612.3 91.4,613.7 92.4,615.1 93.4,616.5 94.4,617.7 95.4,618.7 96.4,619.7 97.4,620.6 98.3,621.5 99.3,622.3 100.3,623.1 101.3,623.9 102.3,624.5 103.3,625.1 104.3,625.6 105.3,626.2 106.3,626.6 107.3,627.1 108.3,627.5 109.2,627.9 110.2,628.3 111.2,628.6 112.2,628.9 113.2,629.1 114.2,629.3 115.2,629.6 116.2,629.7 117.2,629.9 118.2,630.1 119.2,630.2 120.1,630.4 121.1,630.5 122.1,630.7 123.1,630.8 124.1,631.0 125.1,631.1 126.1,631.3 127.1,631.4 128.1,631.6 129.1,631.7 130.1,631.8 131.0,631.9 132.0,632.0 133.0,632.1 134.0,632.1 135.0,632.2 136.0,632.2" fill="none" stroke="#ff0000" stroke-width="1.2" stroke-linejoin="round"/>
<path d="M28.0,542.6 29.0,525.7 30.0,509.5 31.0,496.0 32.0,486.2 33.0,478.8 33.9,475.2 34.9,473.1 35.9,472.8 36.9,473.5 37.9,474.8 38.9,477.0 39.9,479.9 40.9,483.0 41.9,486.6 42.9,490.4 43.9,494.5 44.8,498.7 45.8,502.8 46.8,506.9 47.8,510.9 48.8,514.8 49.8,518.4 50.8,521.9 51.8,525.4 52.8,528.8 53.8,532.3 54.8,535.8 55.7,539.2 56.7,542.4 57.7,545.5 58.7,548.5 59.7,551.4 60.7,554.3 61.7,557.2 62.7,560.2 63.7,563.2 64.7,566.3 65.7,569.3 66.6,572.1 67.6,574.8 68.6,577.4 69.6,579.6 70.6,581.7 71.6,583.7 72.6,585.5 73.6,587.3 74.6,589.1 75.6,590.9 76.6,592.6 77.5,594.2 78.5,595.9 79.5,597.5 80.5,599.1 81.5,600.7 82.5,602.4 83.5,604.1 84.5,605.8 85.5,607.5 86.5,609.2 87.4,610.8 88.4,612.3 89.4,613.9 90.4,615.4 91.4,616.8 92.4,618.2 93.4,619.4 94.4,620.4 95.4,621.4 96.4,622.3 97.4,623.1 98.3,623.9 99.3,624.6 100.3,625.2 101.3,625.8 102.3,626.3 103.3,626.7 104.3,627.1 105.3,627.5 106.3,627.9 107.3,628.2 108.3,628.5 109.2,628.8 110.2,629.1 111.2,629.3 112.2,629.5 113.2,629.7 114.2,629.9 115.2,630.0 116.2,630.2 117.2,630.3 118.2,630.5 119.2,630.6 120.1,630.8 121.1,630.9 122.1,631.1 123.1,631.2 124.1,631.4 125.1,631.5 126.1,631.7 127.1,631.8 128.1,631.9 129.1,632.0 130.1,632.1 131.0,632.1 132.0,632.2 133.0,632.3 134.0,632.3 135.0,632.3 136.0,632.3" fill="none" stroke="#ff0000" stroke-width="1.2" stroke-linejoin="round"/>
<path d="M28.0,542.5 29.0,542.5 30.0,529.1 31.0,512.2 32.0,498.1 33.0,487.6 33.9,479.7 34.9,475.6 35.9,473.1 36.9,472.5 37.9,473.3 38.9,474.5 39.9,476.5 40.9,479.5 41.9,482.6 42.9,486.1 43.9,489.9 44.8,494.0 45.8,498.2 46.8,502.3 47.8,506.4 48.8,510.4 49.8,514.3 50.8,517.9 51.8,521.3 52.8,524.7 53.8,528.1 54.8,531.6 55.7,535.0 56.7,538.4 57.7,541.6 58.7,544.7 59.7,547.7 60.7,550.6 61.7,553.5 62.7,556.4 63.7,559.4 64.7,562.4 65.7,565.5 66.6,568.5 67.6,571.5 68.6,574.2 69.6,576.8 70.6,579.2 71.6,581.4 72.6,583.4 73.6,585.4 74.6,587.3 75.6,589.1 76.6,590.9 77.5,592.7 78.5,594.4 79.5,596.1 80.5,597.7 81.5,599.3 82.5,601.0 83.5,602.7 84.5,604.4 85.5,606.1 86.5,607.8 87.4,609.5 88.4,611.1 89.4,612.6 90.4,614.1 91.4,615.6 92.4,617.1 93.4,618.4 94.4,619.6 95.4,620.6 96.4,621.6 97.4,622.5 98.3,623.4 99.3,624.1 100.3,624.9 101.3,625.5 102.3,626.1 103.3,626.6 104.3,627.1 105.3,627.5 106.3,627.9 107.3,628.3 108.3,628.7 109.2,629.0 110.2,629.3 111.2,629.6 112.2,629.8 113.2,630.0 114.2,630.2 115.2,630.4 116.2,630.5 117.2,630.7 118.2,630.8 119.2,630.9 120.1,631.0 121.1,631.1 122.1,631.2 123.1,631.3 124.1,631.5 125.1,631.6 126.1,631.7 127.1,631.8 128.1,631.9 129.1,632.0 130.1,632.0 131.0,632.1 132.0,632.2 133.0,632.2 134.0,632.3 135.0,632.3 136.0,632.3" fill="none" stroke="#ff0000" stroke-width="1.2" stroke-linejoin="round"/>
<path d="M27.5,631.3 30.0,630.9 32.5,630.6 34.9,630.2 37.4,629.8 39.9,629.4 42.4,629.0 44.9,628.5 47.4,628.1 49.8,627.6 52.3,627.1 54.8,626.7 57.3,626.2 59.8,625.7 62.2,625.2 64.7,624.8 67.2,624.3 69.7,623.8 72.2,623.3 74.7,622.8 77.1,622.3 79.6,621.9 82.1,621.5 84.6,621.0 87.1,620.6 89.5,620.2 92.0,619.9 94.5,619.5 97.0,619.1 99.5,618.7 101.9,618.4 104.4,618.0 106.9,617.7 109.4,617.3 111.9,617.0 114.4,616.7 116.8,616.3 119.3,616.0 121.8,615.7 124.3,615.3 126.8,615.0 129.2,614.6 131.7,614.3 134.2,613.9 136.7,613.6 139.2,613.3 141.7,612.9 144.1,612.6 146.6,612.3 149.1,612.0 151.6,611.6 154.1,611.3 156.5,611.0 159.0,610.6 161.5,610.3 164.0,609.9 166.5,609.4 169.0,609.0 171.4,608.5 173.9,608.1 176.4,607.6 178.9,607.2 181.4,606.9 183.8,606.5 186.3,606.1 188.8,605.8 191.3,605.5 193.8,605.2 196.3,604.9 198.7,604.6 201.2,604.3 203.7,604.0 206.2,603.7 208.7,603.4 211.1,603.2 213.6,602.9 216.1,602.7 218.6,602.4 221.1,602.2 223.6,602.0 226.0,601.8 228.5,601.6 231.0,601.5 233.5,601.3 236.0,601.1 238.4,601.0 240.9,600.8 243.4,600.7 245.9,600.6 248.4,600.4 250.8,600.4 253.3,600.3 255.8,600.3 258.3,600.4 260.8,600.6 263.3,600.7 265.7,601.0 268.2,601.3 270.7,601.9 273.2,602.5 275.7,603.2 278.1,604.0 280.6,605.1 283.1,606.2 285.6,607.5 288.1,608.7 290.6,610.0 293.0,611.4 295.5,612.9 298.0,614.5" fill="none" stroke="#0000ff" stroke-width="3.0" stroke-linejoin="round" stroke-linecap="round"/>
<path d="M27.5,631.2 30.0,630.8 32.5,630.5 34.9,630.2 37.4,629.8 39.9,629.4 42.4,629.1 44.9,628.7 47.4,628.2 49.8,627.8 52.3,627.4 54.8,626.9 57.3,626.5 59.8,626.1 62.2,625.6 64.7,625.2 67.2,624.7 69.7,624.3 72.2,623.9 74.7,623.4 77.1,623.0 79.6,622.7 82.1,622.3 84.6,622.0 87.1,621.6 89.5,621.3 92.0,621.0 94.5,620.7 97.0,620.3 99.5,619.9 101.9,619.5 104.4,619.1 106.9,618.7 109.4,618.3 111.9,617.9 114.4,617.4 116.8,617.0 119.3,616.6 121.8,616.3 124.3,615.9 126.8,615.5 129.2,615.1 131.7,614.8 134.2,614.4 136.7,614.1 139.2,613.7 141.7,613.4 144.1,613.1 146.6,612.8 149.1,612.5 151.6,612.3 154.1,612.0 156.5,611.8 159.0,611.5 161.5,611.2 164.0,610.9 166.5,610.6 169.0,610.2 171.4,609.9 173.9,609.5 176.4,609.1 178.9,608.8 181.4,608.5 183.8,608.1 186.3,607.8 188.8,607.5 191.3,607.1 193.8,606.8 196.3,606.5 198.7,606.2 201.2,605.9 203.7,605.6 206.2,605.3 208.7,605.0 211.1,604.6 213.6,604.2 216.1,603.7 218.6,603.2 221.1,602.7 223.6,602.1 226.0,601.6 228.5,601.0 231.0,600.5 233.5,600.1 236.0,599.7 238.4,599.4 240.9,599.1 243.4,598.9 245.9,598.7 248.4,598.5 250.8,598.4 253.3,598.3 255.8,598.3 258.3,598.4 260.8,598.5 263.3,598.7 265.7,598.9 268.2,599.3 270.7,599.8 273.2,600.5 275.7,601.3 278.1,602.3 280.6,603.5 283.1,604.9 285.6,606.3 288.1,607.7 290.6,609.2 293.0,610.8 295.5,612.4 298.0,614.1" fill="none" stroke="#0000ff" stroke-width="1.2" stroke-linejoin="round"/>
<path d="M27.5,631.3 30.0,631.0 32.5,630.6 34.9,630.2 37.4,629.9 39.9,629.5 42.4,629.1 44.9,628.7 47.4,628.2 49.8,627.8 52.3,627.4 54.8,626.9 57.3,626.5 59.8,626.1 62.2,625.6 64.7,625.2 67.2,624.8 69.7,624.3 72.2,623.9 74.7,623.4 77.1,622.9 79.6,622.5 82.1,622.0 84.6,621.6 87.1,621.1 89.5,620.6 92.0,620.1 94.5,619.6 97.0,619.1 99.5,618.6 101.9,618.1 104.4,617.7 106.9,617.2 109.4,616.8 111.9,616.3 114.4,615.9 116.8,615.5 119.3,615.1 121.8,614.7 124.3,614.3 126.8,614.0 129.2,613.6 131.7,613.3 134.2,613.0 136.7,612.8 139.2,612.5 141.7,612.2 144.1,612.0 146.6,611.8 149.1,611.6 151.6,611.4 154.1,611.2 156.5,611.0 159.0,610.7 161.5,610.5 164.0,610.2 166.5,609.9 169.0,609.5 171.4,609.2 173.9,608.8 176.4,608.4 178.9,608.0 181.4,607.7 183.8,607.3 186.3,606.9 188.8,606.5 191.3,606.2 193.8,605.8 196.3,605.4 198.7,605.0 201.2,604.6 203.7,604.2 206.2,603.8 208.7,603.4 211.1,602.9 213.6,602.4 216.1,602.0 218.6,601.5 221.1,601.1 223.6,600.7 226.0,600.3 228.5,599.9 231.0,599.7 233.5,599.5 236.0,599.4 238.4,599.3 240.9,599.3 243.4,599.3 245.9,599.2 248.4,599.2 250.8,599.2 253.3,599.2 255.8,599.3 258.3,599.5 260.8,599.7 263.3,600.0 265.7,600.3 268.2,600.7 270.7,601.3 273.2,602.0 275.7,602.8 278.1,603.7 280.6,604.8 283.1,606.0 285.6,607.3 288.1,608.6 290.6,609.9 293.0,611.4 295.5,612.9 298.0,614.5" fill="none" stroke="#0000ff" stroke-width="1.2" stroke-linejoin="round"/>
<path d="M27.5,631.7 30.0,631.4 32.5,631.1 34.9,630.8 37.4,630.5 39.9,630.2 42.4,629.8 44.9,629.4 47.4,629.0 49.8,628.6 52.3,628.2 54.8,627.8 57.3,627.3 59.8,626.8 62.2,626.4 64.7,625.9 67.2,625.4 69.7,624.9 72.2,624.4 74.7,623.9 77.1,623.4 79.6,623.0 82.1,622.6 84.6,622.2 87.1,621.8 89.5,621.4 92.0,621.1 94.5,620.7 97.0,620.4 99.5,620.1 101.9,619.8 104.4,619.5 106.9,619.2 109.4,618.9 111.9,618.6 114.4,618.3 116.8,617.9 119.3,617.6 121.8,617.3 124.3,617.0 126.8,616.6 129.2,616.3 131.7,615.9 134.2,615.5 136.7,615.1 139.2,614.7 141.7,614.2 144.1,613.8 146.6,613.3 149.1,612.9 151.6,612.4 154.1,611.9 156.5,611.4 159.0,610.9 161.5,610.3 164.0,609.7 166.5,609.1 169.0,608.4 171.4,607.8 173.9,607.2 176.4,606.6 178.9,606.1 181.4,605.6 183.8,605.2 186.3,604.8 188.8,604.4 191.3,604.0 193.8,603.6 196.3,603.3 198.7,603.0 201.2,602.7 203.7,602.4 206.2,602.1 208.7,601.9 211.1,601.6 213.6,601.4 216.1,601.3 218.6,601.2 221.1,601.1 223.6,601.1 226.0,601.1 228.5,601.1 231.0,601.2 233.5,601.1 236.0,601.1 238.4,601.1 240.9,601.0 243.4,600.9 245.9,600.8 248.4,600.6 250.8,600.5 253.3,600.4 255.8,600.4 258.3,600.5 260.8,600.6 263.3,600.7 265.7,601.0 268.2,601.3 270.7,601.8 273.2,602.4 275.7,603.1 278.1,604.0 280.6,605.1 283.1,606.3 285.6,607.6 288.1,608.9 290.6,610.3 293.0,611.9 295.5,613.6 298.0,615.3" fill="none" stroke="#0000ff" stroke-width="1.2" stroke-linejoin="round"/>
<path d="M27.5,632.1 30.0,631.8 32.5,631.4 34.9,631.1 37.4,630.7 39.9,630.3 42.4,629.9 44.9,629.5 47.4,629.1 49.8,628.7 52.3,628.2 54.8,627.8 57.3,627.3 59.8,626.9 62.2,626.4 64.7,626.0 67.2,625.5 69.7,625.1 72.2,624.6 74.7,624.2 77.1,623.7 79.6,623.3 82.1,622.9 84.6,622.5 87.1,622.1 89.5,621.7 92.0,621.3 94.5,620.8 97.0,620.4 99.5,620.0 101.9,619.5 104.4,619.1 106.9,618.7 109.4,618.2 111.9,617.8 114.4,617.5 116.8,617.1 119.3,616.7 121.8,616.4 124.3,616.1 126.8,615.7 129.2,615.4 131.7,615.1 134.2,614.8 136.7,614.5 139.2,614.2 141.7,613.9 144.1,613.6 146.6,613.3 149.1,613.0 151.6,612.7 154.1,612.4 156.5,612.1 159.0,611.8 161.5,611.5 164.0,611.1 166.5,610.7 169.0,610.2 171.4,609.8 173.9,609.3 176.4,608.9 178.9,608.5 181.4,608.1 183.8,607.7 186.3,607.3 188.8,606.9 191.3,606.6 193.8,606.2 196.3,605.9 198.7,605.7 201.2,605.4 203.7,605.2 206.2,604.9 208.7,604.7 211.1,604.6 213.6,604.4 216.1,604.2 218.6,604.1 221.1,603.9 223.6,603.7 226.0,603.5 228.5,603.3 231.0,603.1 233.5,602.9 236.0,602.7 238.4,602.5 240.9,602.3 243.4,602.1 245.9,601.8 248.4,601.7 250.8,601.5 253.3,601.4 255.8,601.4 258.3,601.4 260.8,601.6 263.3,601.7 265.7,601.9 268.2,602.3 270.7,602.8 273.2,603.4 275.7,604.1 278.1,605.0 280.6,606.1 283.1,607.3 285.6,608.6 288.1,609.9 290.6,611.3 293.0,612.8 295.5,614.5 298.0,616.2" fill="none" stroke="#0000ff" stroke-width="1.2" stroke-linejoin="round"/>
<path d="M27.5,632.1 30.0,631.5 32.5,631.0 34.9,630.4 37.4,629.8 39.9,629.3 42.4,628.7 44.9,628.1 47.4,627.5 49.8,626.8 52.3,626.2 54.8,625.7 57.3,625.1 59.8,624.5 62.2,624.0 64.7,623.5 67.2,623.0 69.7,622.5 72.2,622.0 74.7,621.5 77.1,621.0 79.6,620.5 82.1,620.0 84.6,619.6 87.1,619.2 89.5,618.7 92.0,618.3 94.5,617.9 97.0,617.5 99.5,617.2 101.9,616.8 104.4,616.4 106.9,616.1 109.4,615.8 111.9,615.4 114.4,615.1 116.8,614.8 119.3,614.4 121.8,614.1 124.3,613.7 126.8,613.4 129.2,613.0 131.7,612.7 134.2,612.3 136.7,612.0 139.2,611.6 141.7,611.3 144.1,611.0 146.6,610.6 149.1,610.3 151.6,610.0 154.1,609.7 156.5,609.4 159.0,609.0 161.5,608.7 164.0,608.3 166.5,608.0 169.0,607.6 171.4,607.3 173.9,607.0 176.4,606.6 178.9,606.4 181.4,606.1 183.8,605.8 186.3,605.6 188.8,605.3 191.3,605.1 193.8,604.9 196.3,604.6 198.7,604.4 201.2,604.2 203.7,604.0 206.2,603.8 208.7,603.7 211.1,603.5 213.6,603.4 216.1,603.3 218.6,603.3 221.1,603.2 223.6,603.1 226.0,603.1 228.5,603.0 231.0,602.9 233.5,602.8 236.0,602.8 238.4,602.7 240.9,602.6 243.4,602.5 245.9,602.4 248.4,602.3 250.8,602.2 253.3,602.2 255.8,602.3 258.3,602.4 260.8,602.5 263.3,602.8 265.7,603.0 268.2,603.4 270.7,603.9 273.2,604.5 275.7,605.2 278.1,606.1 280.6,607.2 283.1,608.3 285.6,609.5 288.1,610.8 290.6,612.1 293.0,613.4 295.5,614.7 298.0,616.1" fill="none" stroke="#0000ff" stroke-width="1.2" stroke-linejoin="round"/>
<path d="M27.5,631.0 30.0,630.7 32.5,630.3 34.9,629.9 37.4,629.6 39.9,629.2 42.4,628.8 44.9,628.4 47.4,628.0 49.8,627.6 52.3,627.2 54.8,626.8 57.3,626.3 59.8,625.9 62.2,625.5 64.7,625.1 67.2,624.7 69.7,624.3 72.2,623.9 74.7,623.5 77.1,623.1 79.6,622.7 82.1,622.4 84.6,622.1 87.1,621.8 89.5,621.5 92.0,621.2 94.5,620.9 97.0,620.6 99.5,620.3 101.9,619.9 104.4,619.6 106.9,619.2 109.4,618.8 111.9,618.5 114.4,618.1 116.8,617.8 119.3,617.4 121.8,617.1 124.3,616.8 126.8,616.4 129.2,616.1 131.7,615.8 134.2,615.5 136.7,615.2 139.2,614.9 141.7,614.5 144.1,614.2 146.6,613.9 149.1,613.6 151.6,613.3 154.1,612.9 156.5,612.6 159.0,612.3 161.5,611.9 164.0,611.5 166.5,611.0 169.0,610.6 171.4,610.1 173.9,609.6 176.4,609.1 178.9,608.6 181.4,608.2 183.8,607.8 186.3,607.3 188.8,606.9 191.3,606.5 193.8,606.2 196.3,605.8 198.7,605.5 201.2,605.2 203.7,604.8 206.2,604.5 208.7,604.2 211.1,604.0 213.6,603.7 216.1,603.4 218.6,603.1 221.1,602.8 223.6,602.5 226.0,602.2 228.5,602.0 231.0,601.7 233.5,601.5 236.0,601.2 238.4,601.0 240.9,600.8 243.4,600.7 245.9,600.5 248.4,600.3 250.8,600.1 253.3,600.0 255.8,600.0 258.3,600.0 260.8,600.1 263.3,600.2 265.7,600.4 268.2,600.7 270.7,601.2 273.2,601.7 275.7,602.3 278.1,603.1 280.6,604.2 283.1,605.3 285.6,606.5 288.1,607.8 290.6,609.1 293.0,610.6 295.5,612.1 298.0,613.8" fill="none" stroke="#0000ff" stroke-width="1.2" stroke-linejoin="round"/>
<path d="M27.5,631.1 30.0,630.8 32.5,630.4 34.9,630.0 37.4,629.6 39.9,629.2 42.4,628.8 44.9,628.3 47.4,627.9 49.8,627.4 52.3,627.0 54.8,626.5 57.3,626.1 59.8,625.6 62.2,625.1 64.7,624.7 67.2,624.2 69.7,623.7 72.2,623.2 74.7,622.8 77.1,622.3 79.6,621.9 82.1,621.5 84.6,621.1 87.1,620.7 89.5,620.3 92.0,620.0 94.5,619.6 97.0,619.3 99.5,619.0 101.9,618.6 104.4,618.3 106.9,617.9 109.4,617.6 111.9,617.2 114.4,616.9 116.8,616.5 119.3,616.1 121.8,615.8 124.3,615.4 126.8,615.0 129.2,614.6 131.7,614.2 134.2,613.8 136.7,613.3 139.2,612.9 141.7,612.5 144.1,612.1 146.6,611.7 149.1,611.3 151.6,610.8 154.1,610.4 156.5,610.0 159.0,609.5 161.5,609.0 164.0,608.5 166.5,608.0 169.0,607.5 171.4,606.9 173.9,606.5 176.4,606.0 178.9,605.6 181.4,605.2 183.8,604.9 186.3,604.5 188.8,604.2 191.3,603.8 193.8,603.5 196.3,603.2 198.7,602.9 201.2,602.6 203.7,602.3 206.2,602.0 208.7,601.8 211.1,601.5 213.6,601.2 216.1,601.0 218.6,600.9 221.1,600.7 223.6,600.6 226.0,600.6 228.5,600.6 231.0,600.5 233.5,600.5 236.0,600.5 238.4,600.5 240.9,600.5 243.4,600.4 245.9,600.4 248.4,600.3 250.8,600.2 253.3,600.2 255.8,600.2 258.3,600.3 260.8,600.4 263.3,600.6 265.7,600.8 268.2,601.2 270.7,601.6 273.2,602.2 275.7,602.9 278.1,603.7 280.6,604.7 283.1,605.8 285.6,607.0 288.1,608.3 290.6,609.6 293.0,611.0 295.5,612.5 298.0,614.1" fill="none" stroke="#0000ff" stroke-width="1.2" stroke-linejoin="round"/>
<path d="M27.5,630.5 30.0,630.1 32.5,629.7 34.9,629.3 37.4,628.9 39.9,628.4 42.4,628.0 44.9,627.5 47.4,627.1 49.8,626.6 52.3,626.2 54.8,625.7 57.3,625.3 59.8,624.8 62.2,624.4 64.7,623.9 67.2,623.5 69.7,623.0 72.2,622.5 74.7,622.0 77.1,621.5 79.6,621.1 82.1,620.6 84.6,620.2 87.1,619.7 89.5,619.3 92.0,618.8 94.5,618.4 97.0,618.0 99.5,617.6 101.9,617.1 104.4,616.7 106.9,616.4 109.4,616.0 111.9,615.6 114.4,615.3 116.8,614.9 119.3,614.6 121.8,614.3 124.3,613.9 126.8,613.6 129.2,613.3 131.7,612.9 134.2,612.6 136.7,612.3 139.2,612.0 141.7,611.6 144.1,611.3 146.6,611.0 149.1,610.7 151.6,610.3 154.1,610.0 156.5,609.6 159.0,609.3 161.5,608.9 164.0,608.5 166.5,608.1 169.0,607.7 171.4,607.3 173.9,606.9 176.4,606.6 178.9,606.2 181.4,605.9 183.8,605.6 186.3,605.3 188.8,605.1 191.3,604.8 193.8,604.6 196.3,604.3 198.7,604.1 201.2,603.8 203.7,603.6 206.2,603.4 208.7,603.2 211.1,603.0 213.6,602.9 216.1,602.7 218.6,602.6 221.1,602.5 223.6,602.3 226.0,602.2 228.5,602.0 231.0,601.8 233.5,601.7 236.0,601.5 238.4,601.2 240.9,601.0 243.4,600.8 245.9,600.6 248.4,600.4 250.8,600.2 253.3,600.1 255.8,600.0 258.3,600.0 260.8,600.0 263.3,600.0 265.7,600.1 268.2,600.3 270.7,600.6 273.2,601.1 275.7,601.6 278.1,602.3 280.6,603.3 283.1,604.3 285.6,605.5 288.1,606.7 290.6,608.0 293.0,609.4 295.5,610.9 298.0,612.4" fill="none" stroke="#0000ff" stroke-width="1.2" stroke-linejoin="round"/>
<path d="M236.0,600.8 236.6,600.7 237.1,600.6 237.7,600.6 238.3,600.5 238.8,600.4 239.4,600.3 240.0,600.2 240.6,600.1 241.1,600.0 241.7,599.9 242.3,599.8 242.8,599.7 243.4,599.5 244.0,599.4 244.5,599.3 245.1,599.2 245.7,599.1 246.2,598.9 246.8,598.8 247.4,598.7 247.9,598.5 248.5,598.3 249.1,598.2 249.7,598.0 250.2,597.8 250.8,597.6 251.4,597.5 251.9,597.3 252.5,597.1 253.1,597.0 253.6,596.9 254.2,596.7 254.8,596.6 255.3,596.5 255.9,596.5 256.5,596.4 257.0,596.3 257.6,596.2 258.2,596.1 258.8,596.0 259.3,596.0 259.9,595.9 260.5,595.8 261.0,595.8 261.6,595.7 262.2,595.7 262.7,595.6 263.3,595.6 263.9,595.6 264.4,595.6 265.0,595.6 265.6,595.7 266.1,595.7 266.7,595.8 267.3,595.8 267.9,595.9 268.4,596.0 269.0,596.1 269.6,596.3 270.1,596.4 270.7,596.5 271.3,596.6 271.8,596.8 272.4,596.9 273.0,597.1 273.5,597.3 274.1,597.5 274.7,597.7 275.2,598.0 275.8,598.3 276.4,598.5 277.0,598.8 277.5,599.1 278.1,599.5 278.7,599.8 279.2,600.1 279.8,600.4 280.4,600.7 280.9,601.0 281.5,601.3 282.1,601.7 282.6,602.0 283.2,602.4 283.8,602.7 284.3,603.1 284.9,603.5 285.5,603.8 286.1,604.2 286.6,604.6 287.2,605.0 287.8,605.3 288.3,605.7 288.9,606.1 289.5,606.5 290.0,606.9 290.6,607.2 291.2,607.6 291.7,608.0 292.3,608.4 292.9,608.8 293.4,609.2 294.0,609.6 294.6,610.0 295.2,610.4 295.7,610.8 296.3,611.2 296.9,611.7 297.4,612.1 298.0,612.5" fill="none" stroke="#0000ff" stroke-width="1.3" stroke-linejoin="round"/>
<rect x="206.25" y="471.25" width="79.5" height="76.25" fill="#fff" stroke="#8a8a8a" stroke-width="1"/>
<line x1="208.75" y1="490.75" x2="221.25" y2="490.75" stroke="#0000ff" stroke-width="1.6"/>
<line x1="208.75" y1="528" x2="221.25" y2="528" stroke="#ff0000" stroke-width="1.6"/>
<text x="222.7" y="483.3" font-family='"Liberation Sans", sans-serif' font-size="15">f<tspan font-size="12" dy="8.91">K</tspan><tspan font-size="10.3" dy="7.5" dx="0.6">2</tspan><tspan font-size="12" dy="-7.5" dx="1.44">|</tspan><tspan font-size="12" dx="1.2">U</tspan><tspan font-size="15" dy="-8.91" dx="0.8">(K</tspan><tspan font-size="12.8" dy="8.59">2</tspan><tspan font-size="15" dy="-8.59">)</tspan></text>
<text x="222.7" y="520.8" font-family='"Liberation Sans", sans-serif' font-size="15">f<tspan font-size="12" dy="8.91">K</tspan><tspan font-size="10.3" dy="7.5" dx="0.6">2</tspan><tspan font-size="12" dy="-7.5" dx="1.44">|</tspan><tspan font-size="12" dx="1.2">L</tspan><tspan font-size="15" dy="-8.91" dx="0.8">(K</tspan><tspan font-size="12.8" dy="8.59">2</tspan><tspan font-size="15" dy="-8.59">)</tspan></text>
<text x="23.6" y="637.33" font-size="11.8" text-anchor="end" font-family='"Liberation Sans", sans-serif' >0</text>
<text x="23.6" y="595.13" font-size="11.8" text-anchor="end" font-family='"Liberation Sans", sans-serif' >2</text>
<text x="23.6" y="552.93" font-size="11.8" text-anchor="end" font-family='"Liberation Sans", sans-serif' >4</text>
<text x="23.6" y="510.73" font-size="11.8" text-anchor="end" font-family='"Liberation Sans", sans-serif' >6</text>
<text x="23.6" y="468.53" font-size="11.8" text-anchor="end" font-family='"Liberation Sans", sans-serif' >8</text>
<text x="25.75" y="647.96" font-size="11.8" text-anchor="middle" font-family='"Liberation Sans", sans-serif' >0</text>
<text x="80.3" y="647.96" font-size="11.8" text-anchor="middle" font-family='"Liberation Sans", sans-serif' >200</text>
<text x="134.85" y="647.96" font-size="11.8" text-anchor="middle" font-family='"Liberation Sans", sans-serif' >400</text>
<text x="189.4" y="647.96" font-size="11.8" text-anchor="middle" font-family='"Liberation Sans", sans-serif' >600</text>
<text x="243.95" y="647.96" font-size="11.8" text-anchor="middle" font-family='"Liberation Sans", sans-serif' >800</text>
<text x="298.5" y="647.96" font-size="11.8" text-anchor="middle" font-family='"Liberation Sans", sans-serif' >1000</text>
<text x="25.3" y="461.7" font-size="12" text-anchor="start" font-family='"Liberation Sans", sans-serif' >x 10</text>
<text x="48.4" y="452.3" font-size="8" text-anchor="start" font-family='"Liberation Sans", sans-serif' >-3</text>
<text transform="translate(12.4,548.5) rotate(-90)" font-size="16.5" text-anchor="middle" font-family='"Liberation Sans", sans-serif'>pdf</text>
<text x="152.6" y="659.9" font-size="15.8" font-family='"Liberation Sans", sans-serif'>K<tspan font-size="12.3" dy="8">2</tspan></text>
<text x="151.56" y="693.14" font-size="26" text-anchor="start" font-family='"Liberation Serif", serif' >(e)</text>
<line x1="449.06" y1="466.25" x2="449.06" y2="630.75" stroke="#e2e2e2" stroke-width="1" stroke-dasharray="2,1"/>
<line x1="517.12" y1="466.25" x2="517.12" y2="630.75" stroke="#e2e2e2" stroke-width="1" stroke-dasharray="2,1"/>
<line x1="585.19" y1="466.25" x2="585.19" y2="630.75" stroke="#e2e2e2" stroke-width="1" stroke-dasharray="2,1"/>
<line x1="381" y1="589.62" x2="653.25" y2="589.62" stroke="#e2e2e2" stroke-width="1" stroke-dasharray="2,1"/>
<line x1="381" y1="548.5" x2="653.25" y2="548.5" stroke="#e2e2e2" stroke-width="1" stroke-dasharray="2,1"/>
<line x1="381" y1="507.38" x2="653.25" y2="507.38" stroke="#e2e2e2" stroke-width="1" stroke-dasharray="2,1"/>
<rect x="381" y="466.25" width="272.25" height="164.5" fill="none" stroke="#a6a6a6" stroke-width="1"/>
<line x1="381" y1="630.75" x2="381" y2="627.75" stroke="#a6a6a6" stroke-width="1"/>
<line x1="381" y1="466.25" x2="381" y2="469.25" stroke="#a6a6a6" stroke-width="1"/>
<line x1="449.06" y1="630.75" x2="449.06" y2="627.75" stroke="#a6a6a6" stroke-width="1"/>
<line x1="449.06" y1="466.25" x2="449.06" y2="469.25" stroke="#a6a6a6" stroke-width="1"/>
<line x1="517.12" y1="630.75" x2="517.12" y2="627.75" stroke="#a6a6a6" stroke-width="1"/>
<line x1="517.12" y1="466.25" x2="517.12" y2="469.25" stroke="#a6a6a6" stroke-width="1"/>
<line x1="585.19" y1="630.75" x2="585.19" y2="627.75" stroke="#a6a6a6" stroke-width="1"/>
<line x1="585.19" y1="466.25" x2="585.19" y2="469.25" stroke="#a6a6a6" stroke-width="1"/>
<line x1="653.25" y1="630.75" x2="653.25" y2="627.75" stroke="#a6a6a6" stroke-width="1"/>
<line x1="653.25" y1="466.25" x2="653.25" y2="469.25" stroke="#a6a6a6" stroke-width="1"/>
<line x1="381" y1="630.75" x2="384" y2="630.75" stroke="#a6a6a6" stroke-width="1"/>
<line x1="653.25" y1="630.75" x2="650.25" y2="630.75" stroke="#a6a6a6" stroke-width="1"/>
<line x1="381" y1="589.62" x2="384" y2="589.62" stroke="#a6a6a6" stroke-width="1"/>
<line x1="653.25" y1="589.62" x2="650.25" y2="589.62" stroke="#a6a6a6" stroke-width="1"/>
<line x1="381" y1="548.5" x2="384" y2="548.5" stroke="#a6a6a6" stroke-width="1"/>
<line x1="653.25" y1="548.5" x2="650.25" y2="548.5" stroke="#a6a6a6" stroke-width="1"/>
<line x1="381" y1="507.38" x2="384" y2="507.38" stroke="#a6a6a6" stroke-width="1"/>
<line x1="653.25" y1="507.38" x2="650.25" y2="507.38" stroke="#a6a6a6" stroke-width="1"/>
<line x1="381" y1="466.25" x2="384" y2="466.25" stroke="#a6a6a6" stroke-width="1"/>
<line x1="653.25" y1="466.25" x2="650.25" y2="466.25" stroke="#a6a6a6" stroke-width="1"/>
<path d="M381.5,618.3 384.0,608.3 386.5,600.6 389.0,592.5 391.4,583.4 393.9,574.3 396.4,565.4 398.9,556.6 401.4,548.3 403.9,540.7 406.4,533.7 408.8,527.4 411.3,521.7 413.8,516.7 416.3,512.1 418.8,508.4 421.3,505.7 423.8,503.6 426.3,502.0 428.7,500.8 431.2,499.8 433.7,499.0 436.2,498.6 438.7,498.3 441.2,498.0 443.7,497.7 446.1,497.4 448.6,497.2 451.1,497.1 453.6,497.0 456.1,496.8 458.6,496.6 461.1,496.3 463.5,495.9 466.0,495.6 468.5,495.2 471.0,494.7 473.5,494.3 476.0,493.8 478.5,493.4 480.9,493.1 483.4,492.8 485.9,492.6 488.4,492.5 490.9,492.5 493.4,492.7 495.9,493.0 498.4,493.5 500.8,494.1 503.3,494.8 505.8,495.7 508.3,496.7 510.8,497.8 513.3,499.0 515.8,500.3 518.2,501.7 520.7,503.1 523.2,504.6 525.7,506.0 528.2,507.3 530.7,508.7 533.2,509.9 535.6,511.1 538.1,512.2 540.6,513.1 543.1,513.9 545.6,514.6 548.1,515.1 550.6,515.5 553.1,515.6 555.5,515.6 558.0,515.5 560.5,515.2 563.0,514.8 565.5,514.3 568.0,513.8 570.5,513.2 572.9,512.4 575.4,511.6 577.9,511.0 580.4,510.6 582.9,510.2 585.4,510.1 587.9,510.2 590.3,510.7 592.8,511.3 595.3,512.1 597.8,513.0 600.3,514.4 602.8,516.1 605.3,517.7 607.7,519.1 610.2,520.5 612.7,522.0 615.2,524.0 617.7,526.6 620.2,529.5 622.7,532.8 625.2,536.9 627.6,541.4 630.1,546.1 632.6,550.8 635.1,555.6 637.6,560.6 640.1,565.6 642.6,570.9 645.0,576.4 647.5,582.2 650.0,588.3 652.5,594.8" fill="none" stroke="#0000ff" stroke-width="1.5" stroke-linejoin="round"/>
<path d="M381.5,620.3 384.0,611.4 386.5,605.2 389.0,598.7 391.4,591.4 393.9,584.1 396.4,577.1 398.9,570.0 401.4,563.3 403.9,557.1 406.4,551.1 408.8,545.5 411.3,540.4 413.8,535.7 416.3,531.3 418.8,527.5 421.3,524.5 423.8,521.9 426.3,519.7 428.7,517.8 431.2,516.2 433.7,514.7 436.2,513.6 438.7,512.9 441.2,512.3 443.7,511.7 446.1,511.1 448.6,510.5 451.1,509.8 453.6,509.3 456.1,508.7 458.6,508.2 461.1,507.8 463.5,507.4 466.0,507.1 468.5,506.8 471.0,506.6 473.5,506.4 476.0,506.2 478.5,506.1 480.9,506.1 483.4,506.0 485.9,506.0 488.4,506.1 490.9,506.1 493.4,506.2 495.9,506.3 498.4,506.5 500.8,506.7 503.3,506.9 505.8,507.1 508.3,507.4 510.8,507.7 513.3,508.0 515.8,508.4 518.2,508.8 520.7,509.2 523.2,509.6 525.7,510.1 528.2,510.7 530.7,511.2 533.2,511.8 535.6,512.5 538.1,513.1 540.6,513.9 543.1,514.6 545.6,515.3 548.1,516.0 550.6,516.6 553.1,517.2 555.5,517.8 558.0,518.2 560.5,518.6 563.0,518.9 565.5,519.1 568.0,519.3 570.5,519.2 572.9,518.5 575.4,517.8 577.9,517.0 580.4,516.3 582.9,515.6 585.4,515.1 587.9,515.2 590.3,515.4 592.8,515.9 595.3,516.4 597.8,517.1 600.3,518.3 602.8,519.8 605.3,521.2 607.7,522.3 610.2,523.5 612.7,524.9 615.2,526.8 617.7,529.5 620.2,532.7 622.7,536.4 625.2,540.9 627.6,546.1 630.1,551.7 632.6,557.3 635.1,563.2 637.6,569.4 640.1,575.8 642.6,582.2 645.0,588.9 647.5,595.9 650.0,603.3 652.5,611.0" fill="none" stroke="#ff0000" stroke-width="1.5" stroke-linejoin="round"/>
<path d="M381.5,613.8 384.0,604.6 386.5,598.1 389.0,591.4 391.4,584.1 393.9,576.9 396.4,570.1 398.9,563.5 401.4,557.2 403.9,551.6 406.4,546.2 408.8,541.2 411.3,536.7 413.8,532.4 416.3,528.3 418.8,524.8 421.3,522.0 423.8,519.5 426.3,517.3 428.7,515.3 431.2,513.5 433.7,511.8 436.2,510.3 438.7,509.1 441.2,507.9 443.7,506.6 446.1,505.3 448.6,504.0 451.1,502.8 453.6,501.8 456.1,500.8 458.6,499.9 461.1,499.2 463.5,498.6 466.0,498.2 468.5,497.9 471.0,497.8 473.5,497.9 476.0,498.0 478.5,498.3 480.9,498.7 483.4,499.1 485.9,499.7 488.4,500.3 490.9,500.9 493.4,501.5 495.9,502.1 498.4,502.7 500.8,503.3 503.3,503.8 505.8,504.2 508.3,504.6 510.8,504.9 513.3,505.1 515.8,505.3 518.2,505.4 520.7,505.4 523.2,505.5 525.7,505.5 528.2,505.4 530.7,505.4 533.2,505.5 535.6,505.6 538.1,505.7 540.6,506.0 543.1,506.3 545.6,506.7 548.1,507.1 550.6,507.7 553.1,508.2 555.5,508.9 558.0,509.5 560.5,510.2 563.0,510.8 565.5,511.5 568.0,512.2 570.5,512.8 572.9,513.1 575.4,513.2 577.9,513.3 580.4,513.3 582.9,513.2 585.4,513.1 587.9,513.5 590.3,514.0 592.8,514.5 595.3,515.1 597.8,515.8 600.3,516.9 602.8,518.2 605.3,519.3 607.7,520.2 610.2,521.0 612.7,521.9 615.2,523.4 617.7,525.5 620.2,528.1 622.7,531.1 625.2,535.1 627.6,539.8 630.1,544.8 632.6,550.1 635.1,555.8 637.6,561.9 640.1,568.2 642.6,574.8 645.0,581.8 647.5,589.1 650.0,596.8 652.5,604.8" fill="none" stroke="#0000ff" stroke-width="1.5" stroke-linejoin="round"/>
<path d="M381.5,615.8 384.0,606.5 386.5,599.8 389.0,592.8 391.4,585.0 393.9,577.2 396.4,569.8 398.9,562.4 401.4,555.3 403.9,548.8 406.4,542.7 408.8,536.9 411.3,531.7 413.8,526.8 416.3,522.2 418.8,518.2 421.3,515.0 423.8,512.3 426.3,509.9 428.7,507.8 431.2,506.0 433.7,504.3 436.2,502.9 438.7,501.8 441.2,500.7 443.7,499.7 446.1,498.8 448.6,498.0 451.1,497.6 453.6,497.3 456.1,497.2 458.6,497.3 461.1,497.6 463.5,498.0 466.0,498.6 468.5,499.4 471.0,500.2 473.5,501.2 476.0,502.3 478.5,503.4 480.9,504.5 483.4,505.6 485.9,506.6 488.4,507.6 490.9,508.5 493.4,509.3 495.9,509.9 498.4,510.4 500.8,510.7 503.3,510.8 505.8,510.7 508.3,510.4 510.8,509.9 513.3,509.2 515.8,508.3 518.2,507.3 520.7,506.2 523.2,505.0 525.7,503.6 528.2,502.3 530.7,500.9 533.2,499.6 535.6,498.4 538.1,497.3 540.6,496.4 543.1,495.6 545.6,495.0 548.1,494.5 550.6,494.3 553.1,494.2 555.5,494.3 558.0,494.6 560.5,495.1 563.0,495.7 565.5,496.5 568.0,497.5 570.5,498.6 572.9,500.3 575.4,501.9 577.9,503.4 580.4,504.8 582.9,506.1 585.4,507.2 587.9,508.3 590.3,509.5 592.8,510.9 595.3,512.2 597.8,513.7 600.3,515.5 602.8,517.5 605.3,519.3 607.7,520.9 610.2,522.3 612.7,523.9 615.2,525.9 617.7,528.5 620.2,531.6 622.7,535.0 625.2,539.1 627.6,544.0 630.1,549.0 632.6,554.1 635.1,559.5 637.6,565.1 640.1,570.9 642.6,576.9 645.0,583.1 647.5,589.7 650.0,596.7 652.5,604.0" fill="none" stroke="#ff0000" stroke-width="1.5" stroke-linejoin="round"/>
<path d="M381.5,617.2 384.0,608.4 386.5,602.3 389.0,596.0 391.4,589.0 393.9,582.1 396.4,575.6 398.9,569.1 401.4,563.0 403.9,557.4 406.4,552.0 408.8,546.9 411.3,542.3 413.8,538.0 416.3,533.8 418.8,530.1 421.3,527.2 423.8,524.5 426.3,522.1 428.7,519.9 431.2,517.9 433.7,515.9 436.2,514.2 438.7,512.8 441.2,511.4 443.7,510.0 446.1,508.4 448.6,506.9 451.1,505.3 453.6,503.9 456.1,502.6 458.6,501.4 461.1,500.4 463.5,499.6 466.0,499.0 468.5,498.7 471.0,498.5 473.5,498.6 476.0,498.9 478.5,499.4 480.9,500.1 483.4,500.9 485.9,501.9 488.4,503.0 490.9,504.2 493.4,505.5 495.9,506.8 498.4,508.0 500.8,509.3 503.3,510.5 505.8,511.6 508.3,512.6 510.8,513.5 513.3,514.2 515.8,514.7 518.2,515.1 520.7,515.3 523.2,515.3 525.7,515.2 528.2,514.9 530.7,514.5 533.2,514.0 535.6,513.4 538.1,512.8 540.6,512.1 543.1,511.5 545.6,510.8 548.1,510.2 550.6,509.6 553.1,509.1 555.5,508.6 558.0,508.2 560.5,507.8 563.0,507.6 565.5,507.4 568.0,507.4 570.5,507.5 572.9,507.6 575.4,507.9 577.9,508.2 580.4,508.5 582.9,508.9 585.4,509.4 587.9,510.0 590.3,510.8 592.8,511.8 595.3,512.8 597.8,514.0 600.3,515.6 602.8,517.4 605.3,519.2 607.7,520.7 610.2,522.1 612.7,523.8 615.2,525.9 617.7,528.7 620.2,532.0 622.7,535.7 625.2,540.3 627.6,545.5 630.1,551.0 632.6,556.7 635.1,562.6 637.6,568.9 640.1,575.3 642.6,581.9 645.0,588.7 647.5,595.8 650.0,603.4 652.5,611.4" fill="none" stroke="#0000ff" stroke-width="1.5" stroke-linejoin="round"/>
<path d="M381.5,611.6 384.0,602.3 386.5,595.6 389.0,588.6 391.4,580.9 393.9,573.2 396.4,565.9 398.9,558.6 401.4,551.7 403.9,545.5 406.4,539.6 408.8,534.2 411.3,529.4 413.8,524.9 416.3,520.8 418.8,517.3 421.3,514.7 423.8,512.6 426.3,510.8 428.7,509.4 431.2,508.2 433.7,507.2 436.2,506.6 438.7,506.2 441.2,505.9 443.7,505.7 446.1,505.5 448.6,505.4 451.1,505.3 453.6,505.3 456.1,505.3 458.6,505.4 461.1,505.4 463.5,505.5 466.0,505.5 468.5,505.6 471.0,505.6 473.5,505.6 476.0,505.5 478.5,505.4 480.9,505.2 483.4,504.9 485.9,504.6 488.4,504.2 490.9,503.7 493.4,503.2 495.9,502.6 498.4,502.0 500.8,501.3 503.3,500.5 505.8,499.7 508.3,498.9 510.8,498.0 513.3,497.1 515.8,496.3 518.2,495.4 520.7,494.6 523.2,493.9 525.7,493.2 528.2,492.5 530.7,492.0 533.2,491.6 535.6,491.3 538.1,491.1 540.6,491.1 543.1,491.2 545.6,491.3 548.1,491.6 550.6,492.0 553.1,492.4 555.5,492.9 558.0,493.5 560.5,494.1 563.0,494.7 565.5,495.4 568.0,496.1 570.5,497.0 572.9,498.4 575.4,499.7 577.9,500.9 580.4,502.1 582.9,503.2 585.4,504.2 587.9,505.0 590.3,506.0 592.8,507.1 595.3,508.3 597.8,509.5 600.3,511.1 602.8,512.9 605.3,514.7 607.7,516.2 610.2,517.7 612.7,519.5 615.2,521.7 617.7,524.5 620.2,527.8 622.7,531.5 625.2,536.1 627.6,541.3 630.1,546.8 632.6,552.4 635.1,558.2 637.6,564.2 640.1,570.4 642.6,576.7 645.0,583.2 647.5,590.0 650.0,597.2 652.5,604.6" fill="none" stroke="#ff0000" stroke-width="1.5" stroke-linejoin="round"/>
<path d="M381.5,614.1 384.0,604.8 386.5,598.0 389.0,590.9 391.4,583.0 393.9,575.0 396.4,567.4 398.9,559.8 401.4,552.6 403.9,546.0 406.4,539.9 408.8,534.2 411.3,529.1 413.8,524.4 416.3,520.1 418.8,516.6 421.3,513.9 423.8,511.8 426.3,510.1 428.7,508.9 431.2,507.8 433.7,507.0 436.2,506.6 438.7,506.5 441.2,506.5 443.7,506.6 446.1,506.8 448.6,507.1 451.1,507.4 453.6,507.7 456.1,508.0 458.6,508.3 461.1,508.6 463.5,508.9 466.0,509.0 468.5,509.1 471.0,509.2 473.5,509.1 476.0,508.9 478.5,508.7 480.9,508.3 483.4,507.8 485.9,507.3 488.4,506.7 490.9,506.0 493.4,505.3 495.9,504.5 498.4,503.7 500.8,503.0 503.3,502.2 505.8,501.4 508.3,500.7 510.8,500.0 513.3,499.4 515.8,498.9 518.2,498.5 520.7,498.1 523.2,497.9 525.7,497.8 528.2,497.8 530.7,497.9 533.2,498.1 535.6,498.4 538.1,498.9 540.6,499.4 543.1,500.1 545.6,500.7 548.1,501.4 550.6,502.1 553.1,502.8 555.5,503.4 558.0,504.0 560.5,504.6 563.0,505.1 565.5,505.5 568.0,505.9 570.5,506.2 572.9,506.6 575.4,506.8 577.9,507.1 580.4,507.3 582.9,507.6 585.4,507.9 587.9,508.2 590.3,508.7 592.8,509.4 595.3,510.2 597.8,511.2 600.3,512.5 602.8,514.1 605.3,515.6 607.7,517.0 610.2,518.3 612.7,519.9 615.2,522.0 617.7,524.7 620.2,528.0 622.7,531.7 625.2,536.3 627.6,541.6 630.1,547.1 632.6,552.7 635.1,558.5 637.6,564.6 640.1,570.7 642.6,577.0 645.0,583.5 647.5,590.2 650.0,597.3 652.5,604.7" fill="none" stroke="#0000ff" stroke-width="1.5" stroke-linejoin="round"/>
<path d="M381.5,621.1 384.0,611.2 386.5,603.6 389.0,595.5 391.4,586.5 393.9,577.5 396.4,568.6 398.9,559.8 401.4,551.4 403.9,543.8 406.4,536.7 408.8,530.1 411.3,524.3 413.8,519.1 416.3,514.2 418.8,510.2 421.3,507.2 423.8,504.8 426.3,502.8 428.7,501.3 431.2,500.0 433.7,498.9 436.2,498.2 438.7,497.7 441.2,497.1 443.7,496.7 446.1,496.3 448.6,496.1 451.1,496.2 453.6,496.4 456.1,496.6 458.6,496.9 461.1,497.3 463.5,497.7 466.0,498.2 468.5,498.8 471.0,499.4 473.5,500.1 476.0,500.8 478.5,501.5 480.9,502.3 483.4,503.1 485.9,504.0 488.4,504.8 490.9,505.7 493.4,506.5 495.9,507.4 498.4,508.1 500.8,508.9 503.3,509.6 505.8,510.2 508.3,510.8 510.8,511.3 513.3,511.6 515.8,511.9 518.2,512.1 520.7,512.1 523.2,512.1 525.7,511.9 528.2,511.7 530.7,511.3 533.2,510.9 535.6,510.5 538.1,510.0 540.6,509.6 543.1,509.1 545.6,508.6 548.1,508.2 550.6,507.7 553.1,507.3 555.5,507.0 558.0,506.7 560.5,506.5 563.0,506.4 565.5,506.4 568.0,506.5 570.5,506.7 572.9,507.1 575.4,507.6 577.9,508.1 580.4,508.7 582.9,509.3 585.4,509.9 587.9,510.8 590.3,511.9 592.8,513.1 595.3,514.4 597.8,515.9 600.3,517.8 602.8,519.9 605.3,522.0 607.7,523.7 610.2,525.3 612.7,527.0 615.2,529.1 617.7,531.8 620.2,534.8 622.7,538.1 625.2,541.9 627.6,546.3 630.1,550.8 632.6,555.2 635.1,559.8 637.6,564.6 640.1,569.4 642.6,574.4 645.0,579.7 647.5,585.3 650.0,591.3 652.5,597.7" fill="none" stroke="#ff0000" stroke-width="1.5" stroke-linejoin="round"/>
<path d="M381.5,605.8 384.0,595.9 386.5,588.7 389.0,581.4 391.4,573.6 393.9,566.0 396.4,559.2 398.9,552.7 401.4,546.7 403.9,541.6 406.4,537.0 408.8,532.9 411.3,529.4 413.8,526.2 416.3,523.2 418.8,520.8 421.3,519.2 423.8,517.8 426.3,516.6 428.7,515.6 431.2,514.6 433.7,513.7 436.2,512.9 438.7,512.4 441.2,511.9 443.7,511.2 446.1,510.4 448.6,509.5 451.1,508.4 453.6,507.3 456.1,506.3 458.6,505.3 461.1,504.4 463.5,503.6 466.0,502.9 468.5,502.4 471.0,502.1 473.5,502.0 476.0,502.1 478.5,502.4 480.9,502.9 483.4,503.5 485.9,504.4 488.4,505.4 490.9,506.5 493.4,507.7 495.9,509.0 498.4,510.4 500.8,511.7 503.3,513.0 505.8,514.2 508.3,515.3 510.8,516.3 513.3,517.1 515.8,517.7 518.2,518.1 520.7,518.2 523.2,518.2 525.7,517.9 528.2,517.4 530.7,516.7 533.2,515.8 535.6,514.8 538.1,513.7 540.6,512.5 543.1,511.2 545.6,509.8 548.1,508.5 550.6,507.1 553.1,505.8 555.5,504.5 558.0,503.3 560.5,502.2 563.0,501.2 565.5,500.4 568.0,499.8 570.5,499.4 572.9,499.6 575.4,500.0 577.9,500.5 580.4,501.2 582.9,502.1 585.4,502.9 587.9,503.5 590.3,504.2 592.8,505.2 595.3,506.3 597.8,507.4 600.3,508.8 602.8,510.4 605.3,512.0 607.7,513.3 610.2,514.5 612.7,515.9 615.2,517.8 617.7,520.1 620.2,523.0 622.7,526.3 625.2,530.5 627.6,535.4 630.1,540.6 632.6,546.0 635.1,551.8 637.6,557.9 640.1,564.4 642.6,571.2 645.0,578.3 647.5,585.8 650.0,593.8 652.5,602.2" fill="none" stroke="#0000ff" stroke-width="1.5" stroke-linejoin="round"/>
<path d="M381.5,606.8 384.0,595.9 386.5,587.4 389.0,578.6 391.4,569.0 393.9,559.4 396.4,550.5 398.9,541.9 401.4,533.8 403.9,526.7 406.4,520.6 408.8,515.1 411.3,510.4 413.8,506.2 416.3,502.5 418.8,499.6 421.3,497.7 423.8,496.3 426.3,495.4 428.7,494.8 431.2,494.3 433.7,494.0 436.2,494.1 438.7,494.0 441.2,493.9 443.7,493.9 446.1,493.8 448.6,493.9 451.1,494.2 453.6,494.5 456.1,494.7 458.6,495.0 461.1,495.3 463.5,495.7 466.0,496.0 468.5,496.4 471.0,496.8 473.5,497.3 476.0,497.9 478.5,498.5 480.9,499.1 483.4,499.9 485.9,500.6 488.4,501.5 490.9,502.4 493.4,503.3 495.9,504.2 498.4,505.1 500.8,506.0 503.3,506.9 505.8,507.7 508.3,508.4 510.8,508.9 513.3,509.4 515.8,509.7 518.2,509.8 520.7,509.8 523.2,509.6 525.7,509.2 528.2,508.6 530.7,507.9 533.2,507.0 535.6,506.0 538.1,504.9 540.6,503.8 543.1,502.5 545.6,501.2 548.1,499.9 550.6,498.6 553.1,497.4 555.5,496.1 558.0,495.0 560.5,494.0 563.0,493.1 565.5,492.4 568.0,491.9 570.5,491.7 572.9,492.6 575.4,493.7 577.9,494.9 580.4,496.3 582.9,497.8 585.4,499.2 587.9,500.1 590.3,501.3 592.8,502.6 595.3,504.0 597.8,505.5 600.3,507.3 602.8,509.2 605.3,511.1 607.7,512.7 610.2,514.2 612.7,515.8 615.2,517.7 617.7,520.1 620.2,522.8 622.7,525.8 625.2,529.5 627.6,533.8 630.1,538.1 632.6,542.5 635.1,547.2 637.6,552.0 640.1,557.0 642.6,562.5 645.0,568.2 647.5,574.2 650.0,580.7 652.5,587.6" fill="none" stroke="#ff0000" stroke-width="1.5" stroke-linejoin="round"/>
<path d="M381.5,616.6 384.0,607.3 386.5,600.5 389.0,593.3 391.4,585.3 393.9,577.3 396.4,569.5 398.9,561.7 401.4,554.2 403.9,547.3 406.4,540.8 408.8,534.8 411.3,529.4 413.8,524.4 416.3,519.7 418.8,515.7 421.3,512.7 423.8,510.2 426.3,508.1 428.7,506.5 431.2,505.0 433.7,503.8 436.2,503.0 438.7,502.4 441.2,501.9 443.7,501.5 446.1,501.2 448.6,501.0 451.1,501.1 453.6,501.2 456.1,501.3 458.6,501.6 461.1,501.9 463.5,502.2 466.0,502.6 468.5,503.0 471.0,503.4 473.5,503.8 476.0,504.2 478.5,504.6 480.9,505.0 483.4,505.4 485.9,505.7 488.4,506.1 490.9,506.4 493.4,506.7 495.9,506.9 498.4,507.2 500.8,507.5 503.3,507.7 505.8,507.9 508.3,508.2 510.8,508.4 513.3,508.7 515.8,508.9 518.2,509.1 520.7,509.4 523.2,509.7 525.7,510.0 528.2,510.3 530.7,510.5 533.2,510.9 535.6,511.2 538.1,511.6 540.6,512.0 543.1,512.3 545.6,512.6 548.1,512.9 550.6,513.2 553.1,513.3 555.5,513.4 558.0,513.5 560.5,513.4 563.0,513.3 565.5,513.1 568.0,512.9 570.5,512.6 572.9,512.0 575.4,511.5 577.9,511.0 580.4,510.6 582.9,510.2 585.4,510.0 587.9,510.1 590.3,510.4 592.8,510.9 595.3,511.5 597.8,512.2 600.3,513.4 602.8,514.8 605.3,516.2 607.7,517.4 610.2,518.6 612.7,520.1 615.2,522.0 617.7,524.7 620.2,527.8 622.7,531.4 625.2,535.8 627.6,541.0 630.1,546.3 632.6,551.8 635.1,557.5 637.6,563.5 640.1,569.6 642.6,575.8 645.0,582.2 647.5,588.8 650.0,595.8 652.5,603.2" fill="none" stroke="#0000ff" stroke-width="1.5" stroke-linejoin="round"/>
<path d="M381.5,611.2 384.0,601.3 386.5,594.0 389.0,586.6 391.4,578.5 393.9,570.7 396.4,563.4 398.9,556.4 401.4,549.9 403.9,544.4 406.4,539.4 408.8,534.9 411.3,531.1 413.8,527.7 416.3,524.7 418.8,522.3 421.3,520.9 423.8,519.8 426.3,519.0 428.7,518.5 431.2,518.2 433.7,518.0 436.2,518.0 438.7,518.5 441.2,519.1 443.7,519.6 446.1,520.0 448.6,520.2 451.1,520.0 453.6,519.7 456.1,519.3 458.6,518.8 461.1,518.2 463.5,517.4 466.0,516.6 468.5,515.8 471.0,514.8 473.5,513.9 476.0,512.9 478.5,511.9 480.9,510.9 483.4,510.0 485.9,509.1 488.4,508.3 490.9,507.5 493.4,506.8 495.9,506.3 498.4,505.8 500.8,505.4 503.3,505.1 505.8,504.9 508.3,504.8 510.8,504.7 513.3,504.8 515.8,504.9 518.2,505.1 520.7,505.4 523.2,505.7 525.7,506.0 528.2,506.4 530.7,506.8 533.2,507.3 535.6,507.7 538.1,508.3 540.6,508.8 543.1,509.3 545.6,509.8 548.1,510.3 550.6,510.8 553.1,511.2 555.5,511.5 558.0,511.8 560.5,512.1 563.0,512.3 565.5,512.4 568.0,512.6 570.5,512.6 572.9,512.4 575.4,512.1 577.9,511.9 580.4,511.7 582.9,511.5 585.4,511.4 587.9,511.6 590.3,512.1 592.8,512.6 595.3,513.3 597.8,514.1 600.3,515.3 602.8,516.7 605.3,518.0 607.7,519.1 610.2,520.1 612.7,521.3 615.2,523.0 617.7,525.3 620.2,528.1 622.7,531.3 625.2,535.4 627.6,540.2 630.1,545.3 632.6,550.6 635.1,556.2 637.6,562.1 640.1,568.3 642.6,574.8 645.0,581.7 647.5,588.9 650.0,596.5 652.5,604.7" fill="none" stroke="#ff0000" stroke-width="1.5" stroke-linejoin="round"/>
<path d="M381.5,604.5 384.0,594.8 386.5,587.7 389.0,580.4 391.4,572.5 393.9,564.8 396.4,557.7 398.9,550.9 401.4,544.5 403.9,538.9 406.4,533.9 408.8,529.3 411.3,525.4 413.8,521.8 416.3,518.5 418.8,515.8 421.3,514.1 423.8,512.7 426.3,511.7 428.7,511.0 431.2,510.4 433.7,510.0 436.2,509.8 438.7,510.0 441.2,510.2 443.7,510.4 446.1,510.5 448.6,510.6 451.1,510.6 453.6,510.4 456.1,510.2 458.6,509.9 461.1,509.4 463.5,508.9 466.0,508.2 468.5,507.5 471.0,506.6 473.5,505.6 476.0,504.6 478.5,503.4 480.9,502.2 483.4,501.0 485.9,499.7 488.4,498.3 490.9,497.1 493.4,495.8 495.9,494.6 498.4,493.5 500.8,492.4 503.3,491.5 505.8,490.7 508.3,490.0 510.8,489.5 513.3,489.1 515.8,489.0 518.2,489.0 520.7,489.3 523.2,489.7 525.7,490.3 528.2,491.1 530.7,492.0 533.2,493.1 535.6,494.3 538.1,495.7 540.6,497.2 543.1,498.7 545.6,500.2 548.1,501.8 550.6,503.2 553.1,504.6 555.5,505.8 558.0,507.0 560.5,507.9 563.0,508.7 565.5,509.3 568.0,509.8 570.5,510.0 572.9,509.9 575.4,509.7 577.9,509.5 580.4,509.1 582.9,508.8 585.4,508.5 587.9,508.4 590.3,508.4 592.8,508.5 595.3,508.7 597.8,508.9 600.3,509.5 602.8,510.4 605.3,511.1 607.7,511.7 610.2,512.3 612.7,513.1 615.2,514.5 617.7,516.5 620.2,519.0 622.7,522.1 625.2,526.3 627.6,531.2 630.1,536.5 632.6,542.2 635.1,548.2 637.6,554.6 640.1,561.2 642.6,568.3 645.0,575.5 647.5,583.1 650.0,591.0 652.5,599.3" fill="none" stroke="#0000ff" stroke-width="1.5" stroke-linejoin="round"/>
<path d="M381.5,613.0 384.0,604.1 386.5,597.7 389.0,591.1 391.4,583.8 393.9,576.6 396.4,569.6 398.9,562.7 401.4,556.1 403.9,550.0 406.4,544.3 408.8,539.0 411.3,534.3 413.8,529.9 416.3,525.8 418.8,522.4 421.3,519.9 423.8,517.8 426.3,516.1 428.7,514.8 431.2,513.8 433.7,513.0 436.2,512.5 438.7,512.6 441.2,512.8 443.7,513.0 446.1,513.4 448.6,513.7 451.1,514.0 453.6,514.2 456.1,514.5 458.6,514.7 461.1,514.9 463.5,515.0 466.0,515.0 468.5,515.0 471.0,514.9 473.5,514.7 476.0,514.5 478.5,514.1 480.9,513.6 483.4,513.1 485.9,512.5 488.4,511.8 490.9,511.2 493.4,510.5 495.9,509.8 498.4,509.2 500.8,508.6 503.3,508.1 505.8,507.7 508.3,507.4 510.8,507.2 513.3,507.1 515.8,507.1 518.2,507.3 520.7,507.6 523.2,508.1 525.7,508.7 528.2,509.4 530.7,510.2 533.2,511.1 535.6,512.0 538.1,513.1 540.6,514.1 543.1,515.1 545.6,516.1 548.1,517.0 550.6,517.8 553.1,518.4 555.5,518.8 558.0,519.1 560.5,519.2 563.0,519.0 565.5,518.7 568.0,518.2 570.5,517.4 572.9,516.1 575.4,514.7 577.9,513.4 580.4,512.2 582.9,511.2 585.4,510.4 587.9,509.9 590.3,509.6 592.8,509.6 595.3,509.7 597.8,509.9 600.3,510.6 602.8,511.6 605.3,512.7 607.7,513.6 610.2,514.6 612.7,515.9 615.2,517.9 617.7,520.6 620.2,524.0 622.7,527.9 625.2,532.9 627.6,538.6 630.1,544.8 632.6,551.1 635.1,557.8 637.6,564.7 640.1,571.8 642.6,578.9 645.0,586.3 647.5,593.8 650.0,601.7 652.5,609.9" fill="none" stroke="#ff0000" stroke-width="1.5" stroke-linejoin="round"/>
<path d="M381.5,615.8 384.0,605.2 386.5,596.9 389.0,588.1 391.4,578.6 393.9,569.0 396.4,559.9 398.9,551.0 401.4,542.7 403.9,535.2 406.4,528.7 408.8,522.8 411.3,517.7 413.8,513.1 416.3,509.2 418.8,506.0 421.3,504.0 423.8,502.5 426.3,501.6 428.7,501.0 431.2,500.7 433.7,500.6 436.2,500.9 438.7,501.5 441.2,502.1 443.7,502.8 446.1,503.7 448.6,504.6 451.1,505.7 453.6,506.7 456.1,507.8 458.6,508.8 461.1,509.8 463.5,510.7 466.0,511.6 468.5,512.4 471.0,513.2 473.5,513.8 476.0,514.4 478.5,514.8 480.9,515.1 483.4,515.3 485.9,515.4 488.4,515.4 490.9,515.2 493.4,514.9 495.9,514.5 498.4,513.9 500.8,513.3 503.3,512.5 505.8,511.6 508.3,510.5 510.8,509.4 513.3,508.2 515.8,506.8 518.2,505.4 520.7,504.0 523.2,502.6 525.7,501.1 528.2,499.7 530.7,498.3 533.2,497.0 535.6,495.9 538.1,494.9 540.6,494.0 543.1,493.4 545.6,492.9 548.1,492.6 550.6,492.5 553.1,492.6 555.5,492.9 558.0,493.4 560.5,494.1 563.0,495.0 565.5,496.1 568.0,497.3 570.5,498.8 572.9,500.8 575.4,502.7 577.9,504.6 580.4,506.2 582.9,507.7 585.4,509.1 587.9,510.5 590.3,512.1 592.8,513.7 595.3,515.4 597.8,517.1 600.3,519.2 602.8,521.5 605.3,523.5 607.7,525.2 610.2,526.6 612.7,528.1 615.2,530.0 617.7,532.3 620.2,534.9 622.7,537.7 625.2,541.1 627.6,545.0 630.1,549.0 632.6,552.9 635.1,557.1 637.6,561.4 640.1,566.0 642.6,570.8 645.0,576.0 647.5,581.7 650.0,587.8 652.5,594.4" fill="none" stroke="#0000ff" stroke-width="1.5" stroke-linejoin="round"/>
<path d="M381.5,618.1 384.0,608.6 386.5,601.6 389.0,594.1 391.4,585.8 393.9,577.5 396.4,569.4 398.9,561.3 401.4,553.7 403.9,546.7 406.4,540.3 408.8,534.3 411.3,529.1 413.8,524.3 416.3,520.0 418.8,516.5 421.3,514.0 423.8,512.0 426.3,510.5 428.7,509.4 431.2,508.6 433.7,508.0 436.2,507.8 438.7,507.9 441.2,508.1 443.7,508.4 446.1,508.8 448.6,509.1 451.1,509.4 453.6,509.6 456.1,509.7 458.6,509.7 461.1,509.7 463.5,509.6 466.0,509.3 468.5,509.0 471.0,508.5 473.5,508.0 476.0,507.3 478.5,506.6 480.9,505.8 483.4,505.0 485.9,504.1 488.4,503.3 490.9,502.4 493.4,501.6 495.9,500.9 498.4,500.2 500.8,499.7 503.3,499.2 505.8,498.8 508.3,498.6 510.8,498.5 513.3,498.5 515.8,498.6 518.2,498.9 520.7,499.4 523.2,499.9 525.7,500.5 528.2,501.2 530.7,502.0 533.2,502.9 535.6,503.9 538.1,504.8 540.6,505.8 543.1,506.8 545.6,507.8 548.1,508.7 550.6,509.5 553.1,510.2 555.5,510.8 558.0,511.3 560.5,511.7 563.0,512.0 565.5,512.2 568.0,512.3 570.5,512.3 572.9,512.0 575.4,511.7 577.9,511.4 580.4,511.2 582.9,511.0 585.4,510.9 587.9,511.2 590.3,511.7 592.8,512.3 595.3,513.1 597.8,514.1 600.3,515.5 602.8,517.2 605.3,518.9 607.7,520.3 610.2,521.7 612.7,523.3 615.2,525.5 617.7,528.3 620.2,531.6 622.7,535.2 625.2,539.7 627.6,544.7 630.1,549.9 632.6,555.2 635.1,560.6 637.6,566.3 640.1,572.0 642.6,577.8 645.0,583.8 647.5,590.1 650.0,596.8 652.5,603.8" fill="none" stroke="#ff0000" stroke-width="1.5" stroke-linejoin="round"/>
<path d="M381.5,609.9 384.0,600.1 386.5,592.7 389.0,585.1 391.4,576.8 393.9,568.6 396.4,560.9 398.9,553.5 401.4,546.5 403.9,540.4 406.4,535.0 408.8,530.0 411.3,525.8 413.8,522.0 416.3,518.6 418.8,515.9 421.3,514.1 423.8,512.8 426.3,511.8 428.7,511.1 431.2,510.6 433.7,510.2 436.2,510.1 438.7,510.2 441.2,510.4 443.7,510.6 446.1,510.7 448.6,510.7 451.1,510.5 453.6,510.3 456.1,510.0 458.6,509.6 461.1,509.3 463.5,508.8 466.0,508.4 468.5,508.0 471.0,507.6 473.5,507.3 476.0,507.0 478.5,506.9 480.9,506.8 483.4,506.8 485.9,507.0 488.4,507.3 490.9,507.7 493.4,508.3 495.9,509.0 498.4,509.8 500.8,510.7 503.3,511.7 505.8,512.7 508.3,513.8 510.8,514.8 513.3,515.8 515.8,516.8 518.2,517.7 520.7,518.5 523.2,519.2 525.7,519.7 528.2,520.1 530.7,520.2 533.2,520.2 535.6,520.0 538.1,519.7 540.6,519.2 543.1,518.5 545.6,517.6 548.1,516.5 550.6,515.4 553.1,514.0 555.5,512.6 558.0,511.1 560.5,509.6 563.0,508.1 565.5,506.5 568.0,505.1 570.5,503.8 572.9,502.9 575.4,502.3 577.9,502.0 580.4,501.9 582.9,502.1 585.4,502.5 587.9,502.7 590.3,503.2 592.8,503.9 595.3,504.8 597.8,505.9 600.3,507.3 602.8,509.0 605.3,510.8 607.7,512.3 610.2,513.9 612.7,515.7 615.2,518.0 617.7,520.9 620.2,524.3 622.7,528.1 625.2,532.8 627.6,538.1 630.1,543.6 632.6,549.2 635.1,555.0 637.6,561.1 640.1,567.3 642.6,573.8 645.0,580.4 647.5,587.4 650.0,594.7 652.5,602.5" fill="none" stroke="#0000ff" stroke-width="1.5" stroke-linejoin="round"/>
<path d="M381.5,612.4 384.0,602.3 386.5,594.6 389.0,586.6 391.4,577.9 393.9,569.3 396.4,561.2 398.9,553.3 401.4,545.9 403.9,539.4 406.4,533.5 408.8,528.3 411.3,523.8 413.8,519.8 416.3,516.2 418.8,513.4 421.3,511.5 423.8,510.2 426.3,509.2 428.7,508.6 431.2,508.1 433.7,507.9 436.2,507.9 438.7,508.2 441.2,508.5 443.7,508.8 446.1,509.2 448.6,509.4 451.1,509.6 453.6,509.6 456.1,509.7 458.6,509.6 461.1,509.5 463.5,509.3 466.0,509.1 468.5,508.8 471.0,508.5 473.5,508.2 476.0,507.8 478.5,507.5 480.9,507.2 483.4,507.0 485.9,506.7 488.4,506.6 490.9,506.5 493.4,506.4 495.9,506.4 498.4,506.5 500.8,506.7 503.3,506.9 505.8,507.2 508.3,507.5 510.8,507.8 513.3,508.2 515.8,508.5 518.2,508.9 520.7,509.2 523.2,509.5 525.7,509.8 528.2,510.1 530.7,510.2 533.2,510.4 535.6,510.5 538.1,510.6 540.6,510.6 543.1,510.6 545.6,510.6 548.1,510.4 550.6,510.3 553.1,510.0 555.5,509.8 558.0,509.4 560.5,509.1 563.0,508.8 565.5,508.5 568.0,508.2 570.5,507.9 572.9,507.7 575.4,507.6 577.9,507.6 580.4,507.7 582.9,507.9 585.4,508.1 587.9,508.5 590.3,509.1 592.8,509.9 595.3,510.8 597.8,511.9 600.3,513.3 602.8,514.9 605.3,516.5 607.7,517.9 610.2,519.1 612.7,520.5 615.2,522.4 617.7,524.9 620.2,527.8 622.7,531.0 625.2,535.1 627.6,539.7 630.1,544.6 632.6,549.5 635.1,554.7 637.6,560.2 640.1,565.9 642.6,571.8 645.0,578.0 647.5,584.6 650.0,591.5 652.5,599.0" fill="none" stroke="#ff0000" stroke-width="1.5" stroke-linejoin="round"/>
<path d="M381.5,612.4 384.0,602.5 386.5,594.9 389.0,586.7 391.4,577.7 393.9,568.4 396.4,559.3 398.9,550.3 401.4,541.6 403.9,533.7 406.4,526.4 408.8,519.8 411.3,513.9 413.8,508.7 416.3,504.0 418.8,500.3 421.3,497.8 423.8,496.0 426.3,494.9 428.7,494.4 431.2,494.3 433.7,494.6 436.2,495.4 438.7,496.5 441.2,497.9 443.7,499.5 446.1,501.5 448.6,503.7 451.1,506.1 453.6,508.5 456.1,510.9 458.6,513.2 461.1,515.3 463.5,517.2 466.0,518.8 468.5,520.2 471.0,521.2 473.5,521.9 476.0,522.2 478.5,522.1 480.9,521.7 483.4,520.9 485.9,519.9 488.4,518.5 490.9,516.9 493.4,515.1 495.9,513.2 498.4,511.2 500.8,509.1 503.3,507.0 505.8,505.0 508.3,503.0 510.8,501.2 513.3,499.5 515.8,498.0 518.2,496.7 520.7,495.7 523.2,494.9 525.7,494.4 528.2,494.1 530.7,494.1 533.2,494.3 535.6,494.7 538.1,495.3 540.6,496.1 543.1,497.0 545.6,497.9 548.1,498.8 550.6,499.8 553.1,500.6 555.5,501.4 558.0,502.0 560.5,502.6 563.0,503.0 565.5,503.2 568.0,503.4 570.5,503.4 572.9,503.6 575.4,503.7 577.9,503.8 580.4,504.0 582.9,504.2 585.4,504.5 587.9,504.6 590.3,505.0 592.8,505.5 595.3,506.2 597.8,507.0 600.3,508.2 602.8,509.7 605.3,511.3 607.7,512.6 610.2,514.1 612.7,515.8 615.2,518.0 617.7,520.9 620.2,524.3 622.7,528.2 625.2,532.9 627.6,538.2 630.1,543.7 632.6,549.2 635.1,554.9 637.6,560.7 640.1,566.6 642.6,572.4 645.0,578.5 647.5,584.6 650.0,591.1 652.5,597.8" fill="none" stroke="#0000ff" stroke-width="1.5" stroke-linejoin="round"/>
<path d="M381.5,610.5 384.0,601.1 386.5,594.2 389.0,587.0 391.4,579.1 393.9,571.1 396.4,563.5 398.9,556.0 401.4,548.8 403.9,542.4 406.4,536.4 408.8,530.9 411.3,526.0 413.8,521.5 416.3,517.4 418.8,514.0 421.3,511.6 423.8,509.6 426.3,508.0 428.7,506.8 431.2,505.8 433.7,504.9 436.2,504.5 438.7,504.3 441.2,504.1 443.7,504.0 446.1,504.0 448.6,503.9 451.1,504.0 453.6,504.1 456.1,504.1 458.6,504.2 461.1,504.2 463.5,504.3 466.0,504.3 468.5,504.2 471.0,504.2 473.5,504.1 476.0,503.9 478.5,503.8 480.9,503.6 483.4,503.4 485.9,503.2 488.4,503.0 490.9,502.8 493.4,502.6 495.9,502.4 498.4,502.2 500.8,502.1 503.3,502.0 505.8,501.9 508.3,501.8 510.8,501.8 513.3,501.8 515.8,501.8 518.2,501.8 520.7,501.8 523.2,501.9 525.7,502.0 528.2,502.0 530.7,502.1 533.2,502.2 535.6,502.3 538.1,502.3 540.6,502.4 543.1,502.5 545.6,502.5 548.1,502.4 550.6,502.4 553.1,502.2 555.5,502.0 558.0,501.7 560.5,501.4 563.0,501.0 565.5,500.6 568.0,500.3 570.5,500.0 572.9,500.1 575.4,500.4 577.9,500.7 580.4,501.2 582.9,501.7 585.4,502.3 587.9,502.7 590.3,503.2 592.8,504.0 595.3,505.0 597.8,506.0 600.3,507.4 602.8,509.0 605.3,510.7 607.7,512.2 610.2,513.7 612.7,515.5 615.2,517.8 617.7,520.7 620.2,524.2 622.7,528.1 625.2,532.9 627.6,538.4 630.1,544.0 632.6,549.8 635.1,555.8 637.6,562.0 640.1,568.3 642.6,574.7 645.0,581.3 647.5,588.1 650.0,595.2 652.5,602.7" fill="none" stroke="#ff0000" stroke-width="1.5" stroke-linejoin="round"/>
<path d="M381.5,625.6 384.0,616.9 386.5,610.8 389.0,604.4 391.4,597.1 393.9,589.9 396.4,582.9 398.9,575.8 401.4,569.2 403.9,563.1 406.4,557.1 408.8,551.5 411.3,546.6 413.8,542.0 416.3,537.8 418.8,534.3 421.3,531.5 423.8,529.2 426.3,527.2 428.7,525.6 431.2,524.3 433.7,523.1 436.2,522.2 438.7,522.0 441.2,521.9 443.7,521.9 446.1,521.8 448.6,521.6 451.1,521.1 453.6,520.5 456.1,520.0 458.6,519.5 461.1,518.9 463.5,518.4 466.0,517.9 468.5,517.4 471.0,516.9 473.5,516.5 476.0,516.0 478.5,515.5 480.9,515.1 483.4,514.6 485.9,514.2 488.4,513.8 490.9,513.4 493.4,513.0 495.9,512.6 498.4,512.2 500.8,511.8 503.3,511.4 505.8,511.1 508.3,510.7 510.8,510.3 513.3,509.9 515.8,509.6 518.2,509.2 520.7,508.9 523.2,508.5 525.7,508.3 528.2,508.0 530.7,507.8 533.2,507.6 535.6,507.6 538.1,507.6 540.6,507.7 543.1,507.9 545.6,508.2 548.1,508.6 550.6,509.0 553.1,509.5 555.5,510.0 558.0,510.6 560.5,511.2 563.0,511.9 565.5,512.6 568.0,513.4 570.5,514.2 572.9,514.6 575.4,514.9 577.9,515.2 580.4,515.5 582.9,515.6 585.4,515.8 587.9,516.7 590.3,517.7 592.8,518.8 595.3,520.1 597.8,521.5 600.3,523.5 602.8,525.7 605.3,527.8 607.7,529.6 610.2,531.3 612.7,533.3 615.2,535.8 617.7,538.9 620.2,542.6 622.7,546.5 625.2,551.2 627.6,556.5 630.1,562.0 632.6,567.3 635.1,573.0 637.6,578.9 640.1,584.9 642.6,590.8 645.0,597.0 647.5,603.5 650.0,610.6 652.5,618.1" fill="none" stroke="#0000ff" stroke-width="1.5" stroke-linejoin="round"/>
<path d="M381.5,613.3 384.0,603.9 386.5,597.2 389.0,590.4 391.4,583.0 393.9,575.8 396.4,569.1 398.9,562.5 401.4,556.5 403.9,551.1 406.4,546.1 408.8,541.5 411.3,537.5 413.8,533.8 416.3,530.3 418.8,527.4 421.3,525.3 423.8,523.5 426.3,522.0 428.7,520.7 431.2,519.7 433.7,518.7 436.2,517.9 438.7,517.7 441.2,517.5 443.7,517.3 446.1,517.0 448.6,516.6 451.1,516.0 453.6,515.4 456.1,514.8 458.6,514.2 461.1,513.6 463.5,513.0 466.0,512.5 468.5,512.1 471.0,511.7 473.5,511.3 476.0,511.0 478.5,510.7 480.9,510.5 483.4,510.3 485.9,510.2 488.4,510.1 490.9,510.0 493.4,510.0 495.9,510.0 498.4,510.0 500.8,510.0 503.3,510.1 505.8,510.1 508.3,510.2 510.8,510.3 513.3,510.4 515.8,510.4 518.2,510.5 520.7,510.6 523.2,510.8 525.7,510.9 528.2,511.1 530.7,511.3 533.2,511.6 535.6,512.0 538.1,512.4 540.6,512.8 543.1,513.4 545.6,513.9 548.1,514.5 550.6,515.0 553.1,515.6 555.5,516.1 558.0,516.6 560.5,517.1 563.0,517.5 565.5,517.9 568.0,518.2 570.5,518.3 572.9,517.9 575.4,517.3 577.9,516.7 580.4,516.1 582.9,515.4 585.4,514.9 587.9,515.0 590.3,515.2 592.8,515.5 595.3,515.9 597.8,516.4 600.3,517.4 602.8,518.5 605.3,519.5 607.7,520.3 610.2,521.0 612.7,522.0 615.2,523.5 617.7,525.6 620.2,528.3 622.7,531.4 625.2,535.5 627.6,540.4 630.1,545.7 632.6,551.2 635.1,557.1 637.6,563.4 640.1,570.0 642.6,576.9 645.0,584.1 647.5,591.7 650.0,599.7 652.5,608.2" fill="none" stroke="#ff0000" stroke-width="1.5" stroke-linejoin="round"/>
<rect x="466.1" y="547.4" width="86.9" height="76" fill="#fff" stroke="#8a8a8a" stroke-width="1"/>
<line x1="468.75" y1="565.75" x2="480.75" y2="565.75" stroke="#0000ff" stroke-width="1.6"/>
<line x1="468.75" y1="604.5" x2="480.75" y2="604.5" stroke="#ff0000" stroke-width="1.6"/>
<text x="482.5" y="560.3" font-family='"Liberation Sans", sans-serif' font-size="14.5">f<tspan font-size="11.5" dy="7.98">k</tspan><tspan font-size="10" dy="7.9" dx="1.2">12</tspan><tspan font-size="11.5" dy="-7.9" dx="1.38">|</tspan><tspan font-size="11.5" dx="1.15">U</tspan><tspan font-size="14.5" dy="-7.98" dx="0.8">(k</tspan><tspan font-size="12.5" dy="7.69">12</tspan><tspan font-size="14.5" dy="-7.69">)</tspan></text>
<text x="482.5" y="598.8" font-family='"Liberation Sans", sans-serif' font-size="14.5">f<tspan font-size="11.5" dy="7.98">k</tspan><tspan font-size="10" dy="7.9" dx="1.2">12</tspan><tspan font-size="11.5" dy="-7.9" dx="1.38">|</tspan><tspan font-size="11.5" dx="1.15">L</tspan><tspan font-size="14.5" dy="-7.98" dx="0.8">(k</tspan><tspan font-size="12.5" dy="7.69">12</tspan><tspan font-size="14.5" dy="-7.69">)</tspan></text>
<text x="378.6" y="635.75" font-size="12" text-anchor="end" font-family='"Liberation Sans", sans-serif' >2</text>
<text x="378.6" y="594.62" font-size="12" text-anchor="end" font-family='"Liberation Sans", sans-serif' >3</text>
<text x="378.6" y="553.5" font-size="12" text-anchor="end" font-family='"Liberation Sans", sans-serif' >4</text>
<text x="378.6" y="512.38" font-size="12" text-anchor="end" font-family='"Liberation Sans", sans-serif' >5</text>
<text x="378.6" y="471.25" font-size="12" text-anchor="end" font-family='"Liberation Sans", sans-serif' >6</text>
<text x="381" y="645.8" font-size="12" text-anchor="middle" font-family='"Liberation Sans", sans-serif' >0</text>
<text x="449.06" y="645.8" font-size="12" text-anchor="middle" font-family='"Liberation Sans", sans-serif' >50</text>
<text x="517.12" y="645.8" font-size="12" text-anchor="middle" font-family='"Liberation Sans", sans-serif' >100</text>
<text x="585.19" y="645.8" font-size="12" text-anchor="middle" font-family='"Liberation Sans", sans-serif' >150</text>
<text x="653.25" y="645.8" font-size="12" text-anchor="middle" font-family='"Liberation Sans", sans-serif' >200</text>
<text x="380.5" y="465" font-size="12.4" text-anchor="start" font-family='"Liberation Sans", sans-serif' >x 10</text>
<text x="403.3" y="455.8" font-size="8.3" text-anchor="start" font-family='"Liberation Sans", sans-serif' >-3</text>
<text transform="translate(365.8,549.4) rotate(-90)" font-size="16.2" text-anchor="middle" font-family='"Liberation Sans", sans-serif'>pdf</text>
<text x="496.3" y="659" font-size="15.5" font-family='"Liberation Sans", sans-serif'>k<tspan font-size="12.5" dy="8.3">12</tspan></text>
<text x="502.96" y="694.14" font-size="26" text-anchor="start" font-family='"Liberation Serif", serif' >(f)</text>
<line x1="88.75" y1="713" x2="88.75" y2="833.25" stroke="#dcdce6" stroke-width="1" stroke-dasharray="2,1"/>
<line x1="145" y1="713" x2="145" y2="833.25" stroke="#dcdce6" stroke-width="1" stroke-dasharray="2,1"/>
<line x1="201.25" y1="713" x2="201.25" y2="833.25" stroke="#dcdce6" stroke-width="1" stroke-dasharray="2,1"/>
<line x1="257.5" y1="713" x2="257.5" y2="833.25" stroke="#dcdce6" stroke-width="1" stroke-dasharray="2,1"/>
<line x1="32.5" y1="803.19" x2="313.75" y2="803.19" stroke="#dcdce6" stroke-width="1" stroke-dasharray="2,1"/>
<line x1="32.5" y1="773.12" x2="313.75" y2="773.12" stroke="#dcdce6" stroke-width="1" stroke-dasharray="2,1"/>
<line x1="32.5" y1="743.06" x2="313.75" y2="743.06" stroke="#dcdce6" stroke-width="1" stroke-dasharray="2,1"/>
<rect x="32.5" y="713" width="281.25" height="120.25" fill="none" stroke="#a0a0b8" stroke-width="1"/>
<line x1="32.5" y1="833.25" x2="32.5" y2="830.25" stroke="#a0a0b8" stroke-width="1"/>
<line x1="32.5" y1="713" x2="32.5" y2="716" stroke="#a0a0b8" stroke-width="1"/>
<line x1="88.75" y1="833.25" x2="88.75" y2="830.25" stroke="#a0a0b8" stroke-width="1"/>
<line x1="88.75" y1="713" x2="88.75" y2="716" stroke="#a0a0b8" stroke-width="1"/>
<line x1="145" y1="833.25" x2="145" y2="830.25" stroke="#a0a0b8" stroke-width="1"/>
<line x1="145" y1="713" x2="145" y2="716" stroke="#a0a0b8" stroke-width="1"/>
<line x1="201.25" y1="833.25" x2="201.25" y2="830.25" stroke="#a0a0b8" stroke-width="1"/>
<line x1="201.25" y1="713" x2="201.25" y2="716" stroke="#a0a0b8" stroke-width="1"/>
<line x1="257.5" y1="833.25" x2="257.5" y2="830.25" stroke="#a0a0b8" stroke-width="1"/>
<line x1="257.5" y1="713" x2="257.5" y2="716" stroke="#a0a0b8" stroke-width="1"/>
<line x1="313.75" y1="833.25" x2="313.75" y2="830.25" stroke="#a0a0b8" stroke-width="1"/>
<line x1="313.75" y1="713" x2="313.75" y2="716" stroke="#a0a0b8" stroke-width="1"/>
<line x1="32.5" y1="833.25" x2="35.5" y2="833.25" stroke="#a0a0b8" stroke-width="1"/>
<line x1="313.75" y1="833.25" x2="310.75" y2="833.25" stroke="#a0a0b8" stroke-width="1"/>
<line x1="32.5" y1="803.19" x2="35.5" y2="803.19" stroke="#a0a0b8" stroke-width="1"/>
<line x1="313.75" y1="803.19" x2="310.75" y2="803.19" stroke="#a0a0b8" stroke-width="1"/>
<line x1="32.5" y1="773.12" x2="35.5" y2="773.12" stroke="#a0a0b8" stroke-width="1"/>
<line x1="313.75" y1="773.12" x2="310.75" y2="773.12" stroke="#a0a0b8" stroke-width="1"/>
<line x1="32.5" y1="743.06" x2="35.5" y2="743.06" stroke="#a0a0b8" stroke-width="1"/>
<line x1="313.75" y1="743.06" x2="310.75" y2="743.06" stroke="#a0a0b8" stroke-width="1"/>
<line x1="32.5" y1="713" x2="35.5" y2="713" stroke="#a0a0b8" stroke-width="1"/>
<line x1="313.75" y1="713" x2="310.75" y2="713" stroke="#a0a0b8" stroke-width="1"/>
<path d="M33.5,801.0 36.1,797.5 38.6,793.6 41.2,790.1 43.8,787.0 46.3,784.3 48.9,781.9 51.4,779.7 54.0,777.9 56.6,776.3 59.1,774.9 61.7,773.8 64.3,772.9 66.8,772.1 69.4,771.5 72.0,770.9 74.5,770.5 77.1,770.2 79.7,769.9 82.2,769.7 84.8,769.5 87.3,769.3 89.9,769.0 92.5,768.8 95.0,768.6 97.6,768.5 100.2,768.4 102.7,768.4 105.3,768.4 107.9,768.4 110.4,768.4 113.0,768.5 115.6,768.5 118.1,768.5 120.7,768.6 123.2,768.7 125.8,768.9 128.4,769.1 130.9,769.3 133.5,769.5 136.1,769.7 138.6,769.9 141.2,770.1 143.8,770.3 146.3,770.5 148.9,770.8 151.5,771.0 154.0,771.2 156.6,771.4 159.1,771.6 161.7,771.8 164.3,772.0 166.8,772.2 169.4,772.4 172.0,772.5 174.5,772.6 177.1,772.6 179.7,772.7 182.2,772.7 184.8,772.8 187.4,772.9 189.9,772.9 192.5,773.0 195.0,773.1 197.6,773.3 200.2,773.4 202.7,773.6 205.3,773.8 207.9,773.9 210.4,774.1 213.0,774.3 215.6,774.4 218.1,774.5 220.7,774.7 223.3,774.8 225.8,774.9 228.4,775.1 230.9,775.3 233.5,775.4 236.1,775.6 238.6,775.9 241.2,776.1 243.8,776.4 246.3,776.7 248.9,777.0 251.5,777.4 254.0,777.8 256.6,778.2 259.2,778.8 261.7,779.6 264.3,780.5 266.8,781.4 269.4,782.3 272.0,783.3 274.5,784.2 277.1,785.3 279.7,786.4 282.2,787.6 284.8,788.9 287.4,790.2 289.9,791.5 292.5,792.9 295.1,794.3 297.6,795.7 300.2,797.1 302.7,798.6 305.3,800.0 307.9,801.5 310.4,803.0 313.0,804.5" fill="none" stroke="#ff0000" stroke-width="2.0" stroke-linejoin="round" stroke-linecap="round"/>
<path d="M33.5,801.1 36.1,797.3 38.6,793.1 41.2,789.2 43.8,785.9 46.3,782.9 48.9,780.3 51.4,778.0 54.0,776.1 56.6,774.5 59.1,773.1 61.7,772.1 64.3,771.3 66.8,770.7 69.4,770.2 72.0,769.9 74.5,769.8 77.1,769.8 79.7,770.0 82.2,770.2 84.8,770.5 87.3,770.7 89.9,770.9 92.5,770.9 95.0,770.9 97.6,770.8 100.2,770.9 102.7,771.0 105.3,771.0 107.9,771.1 110.4,771.1 113.0,771.1 115.6,771.1 118.1,771.1 120.7,771.1 123.2,771.1 125.8,771.2 128.4,771.2 130.9,771.3 133.5,771.4 136.1,771.4 138.6,771.5 141.2,771.6 143.8,771.6 146.3,771.7 148.9,771.8 151.5,771.9 154.0,772.1 156.6,772.2 159.1,772.4 161.7,772.5 164.3,772.7 166.8,773.0 169.4,773.2 172.0,773.4 174.5,773.5 177.1,773.8 179.7,774.0 182.2,774.3 184.8,774.6 187.4,774.9 189.9,775.2 192.5,775.6 195.0,775.9 197.6,776.2 200.2,776.4 202.7,776.7 205.3,776.9 207.9,777.1 210.4,777.3 213.0,777.5 215.6,777.7 218.1,777.9 220.7,778.1 223.3,778.3 225.8,778.4 228.4,778.6 230.9,778.8 233.5,779.0 236.1,779.2 238.6,779.4 241.2,779.6 243.8,779.9 246.3,780.1 248.9,780.3 251.5,780.6 254.0,780.9 256.6,781.2 259.2,781.7 261.7,782.4 264.3,783.3 266.8,784.2 269.4,785.1 272.0,786.1 274.5,787.1 277.1,788.2 279.7,789.4 282.2,790.7 284.8,792.1 287.4,793.5 289.9,794.9 292.5,796.1 295.1,797.3 297.6,798.4 300.2,799.5 302.7,800.5 305.3,801.5 307.9,802.5 310.4,803.6 313.0,804.7" fill="none" stroke="#ff0000" stroke-width="1.2" stroke-linejoin="round"/>
<path d="M33.5,801.9 36.1,798.4 38.6,794.6 41.2,791.1 43.8,788.2 46.3,785.6 48.9,783.2 51.4,781.1 54.0,779.4 56.6,777.9 59.1,776.6 61.7,775.5 64.3,774.7 66.8,774.0 69.4,773.4 72.0,773.0 74.5,772.7 77.1,772.5 79.7,772.3 82.2,772.2 84.8,772.0 87.3,771.8 89.9,771.6 92.5,771.3 95.0,771.0 97.6,770.8 100.2,770.7 102.7,770.7 105.3,770.7 107.9,770.7 110.4,770.8 113.0,770.8 115.6,770.9 118.1,771.0 120.7,771.1 123.2,771.3 125.8,771.5 128.4,771.7 130.9,772.0 133.5,772.2 136.1,772.4 138.6,772.7 141.2,772.9 143.8,773.1 146.3,773.3 148.9,773.5 151.5,773.8 154.0,774.0 156.6,774.2 159.1,774.5 161.7,774.7 164.3,774.9 166.8,775.1 169.4,775.3 172.0,775.4 174.5,775.5 177.1,775.5 179.7,775.6 182.2,775.7 184.8,775.7 187.4,775.7 189.9,775.6 192.5,775.6 195.0,775.5 197.6,775.4 200.2,775.3 202.7,775.3 205.3,775.3 207.9,775.2 210.4,775.3 213.0,775.3 215.6,775.3 218.1,775.4 220.7,775.4 223.3,775.5 225.8,775.5 228.4,775.6 230.9,775.8 233.5,775.9 236.1,776.1 238.6,776.3 241.2,776.5 243.8,776.7 246.3,777.0 248.9,777.4 251.5,777.7 254.0,778.2 256.6,778.6 259.2,779.2 261.7,780.0 264.3,780.9 266.8,781.9 269.4,782.8 272.0,783.8 274.5,784.8 277.1,785.9 279.7,787.1 282.2,788.3 284.8,789.7 287.4,791.1 289.9,792.6 292.5,794.0 295.1,795.4 297.6,796.9 300.2,798.4 302.7,799.8 305.3,801.3 307.9,802.8 310.4,804.2 313.0,805.8" fill="none" stroke="#ff0000" stroke-width="1.2" stroke-linejoin="round"/>
<path d="M33.5,798.4 36.1,795.2 38.6,791.6 41.2,788.4 43.8,785.6 46.3,783.1 48.9,780.9 51.4,778.9 54.0,777.1 56.6,775.7 59.1,774.4 61.7,773.4 64.3,772.6 66.8,771.9 69.4,771.3 72.0,770.9 74.5,770.6 77.1,770.4 79.7,770.3 82.2,770.2 84.8,770.0 87.3,769.9 89.9,769.8 92.5,769.6 95.0,769.3 97.6,769.2 100.2,769.1 102.7,769.1 105.3,769.0 107.9,769.0 110.4,768.9 113.0,768.9 115.6,768.8 118.1,768.7 120.7,768.7 123.2,768.7 125.8,768.7 128.4,768.7 130.9,768.8 133.5,768.8 136.1,768.9 138.6,769.0 141.2,769.0 143.8,769.1 146.3,769.2 148.9,769.3 151.5,769.5 154.0,769.6 156.6,769.8 159.1,770.0 161.7,770.2 164.3,770.4 166.8,770.6 169.4,770.8 172.0,770.9 174.5,771.1 177.1,771.2 179.7,771.3 182.2,771.4 184.8,771.5 187.4,771.6 189.9,771.8 192.5,771.9 195.0,772.0 197.6,772.1 200.2,772.2 202.7,772.3 205.3,772.3 207.9,772.3 210.4,772.2 213.0,772.1 215.6,772.0 218.1,771.8 220.7,771.7 223.3,771.7 225.8,771.6 228.4,771.7 230.9,771.7 233.5,771.9 236.1,772.0 238.6,772.2 241.2,772.4 243.8,772.6 246.3,772.8 248.9,773.1 251.5,773.4 254.0,773.8 256.6,774.2 259.2,774.7 261.7,775.5 264.3,776.3 266.8,777.3 269.4,778.2 272.0,779.1 274.5,780.1 277.1,781.1 279.7,782.2 282.2,783.4 284.8,784.7 287.4,786.0 289.9,787.3 292.5,788.8 295.1,790.2 297.6,791.7 300.2,793.2 302.7,794.7 305.3,796.2 307.9,797.8 310.4,799.5 313.0,801.3" fill="none" stroke="#ff0000" stroke-width="1.2" stroke-linejoin="round"/>
<path d="M33.5,799.9 36.1,796.3 38.6,792.4 41.2,788.9 43.8,785.9 46.3,783.4 48.9,781.2 51.4,779.2 54.0,777.6 56.6,776.3 59.1,775.3 61.7,774.5 64.3,773.9 66.8,773.4 69.4,772.9 72.0,772.6 74.5,772.3 77.1,772.1 79.7,771.9 82.2,771.6 84.8,771.2 87.3,770.8 89.9,770.3 92.5,769.8 95.0,769.4 97.6,769.0 100.2,768.7 102.7,768.5 105.3,768.3 107.9,768.1 110.4,767.9 113.0,767.7 115.6,767.6 118.1,767.6 120.7,767.5 123.2,767.6 125.8,767.8 128.4,768.0 130.9,768.2 133.5,768.5 136.1,768.8 138.6,769.1 141.2,769.4 143.8,769.8 146.3,770.1 148.9,770.4 151.5,770.8 154.0,771.1 156.6,771.4 159.1,771.7 161.7,772.0 164.3,772.2 166.8,772.4 169.4,772.6 172.0,772.7 174.5,772.8 177.1,772.8 179.7,772.8 182.2,772.7 184.8,772.7 187.4,772.6 189.9,772.5 192.5,772.5 195.0,772.4 197.6,772.4 200.2,772.3 202.7,772.3 205.3,772.3 207.9,772.3 210.4,772.3 213.0,772.4 215.6,772.6 218.1,772.8 220.7,773.1 223.3,773.5 225.8,773.9 228.4,774.3 230.9,774.7 233.5,775.2 236.1,775.6 238.6,776.2 241.2,776.8 243.8,777.4 246.3,778.1 248.9,778.7 251.5,779.4 254.0,780.1 256.6,780.8 259.2,781.6 261.7,782.6 264.3,783.6 266.8,784.7 269.4,785.7 272.0,786.7 274.5,787.8 277.1,788.8 279.7,789.8 282.2,791.0 284.8,792.1 287.4,793.2 289.9,794.2 292.5,795.1 295.1,795.9 297.6,796.7 300.2,797.6 302.7,798.5 305.3,799.7 307.9,800.8 310.4,802.0 313.0,803.2" fill="none" stroke="#ff0000" stroke-width="1.2" stroke-linejoin="round"/>
<path d="M33.5,799.7 36.1,796.3 38.6,792.5 41.2,789.1 43.8,786.2 46.3,783.5 48.9,781.2 51.4,779.1 54.0,777.2 56.6,775.7 59.1,774.3 61.7,773.1 64.3,772.2 66.8,771.3 69.4,770.6 72.0,769.9 74.5,769.4 77.1,768.9 79.7,768.4 82.2,768.0 84.8,767.6 87.3,767.2 89.9,766.8 92.5,766.5 95.0,766.2 97.6,766.0 100.2,765.9 102.7,765.9 105.3,765.9 107.9,765.9 110.4,765.9 113.0,765.9 115.6,765.9 118.1,765.9 120.7,766.0 123.2,766.1 125.8,766.2 128.4,766.4 130.9,766.6 133.5,766.8 136.1,767.0 138.6,767.2 141.2,767.4 143.8,767.6 146.3,767.8 148.9,768.0 151.5,768.2 154.0,768.4 156.6,768.6 159.1,768.8 161.7,769.0 164.3,769.2 166.8,769.4 169.4,769.5 172.0,769.6 174.5,769.7 177.1,769.7 179.7,769.8 182.2,769.8 184.8,769.8 187.4,769.9 189.9,770.0 192.5,770.0 195.0,770.1 197.6,770.3 200.2,770.4 202.7,770.5 205.3,770.7 207.9,770.8 210.4,771.0 213.0,771.2 215.6,771.4 218.1,771.7 220.7,772.1 223.3,772.4 225.8,772.8 228.4,773.2 230.9,773.6 233.5,773.9 236.1,774.2 238.6,774.6 241.2,774.9 243.8,775.2 246.3,775.6 248.9,776.0 251.5,776.3 254.0,776.8 256.6,777.2 259.2,777.8 261.7,778.6 264.3,779.4 266.8,780.3 269.4,781.2 272.0,782.1 274.5,783.1 277.1,784.0 279.7,785.1 282.2,786.2 284.8,787.5 287.4,788.8 289.9,790.0 292.5,791.4 295.1,792.7 297.6,794.1 300.2,795.4 302.7,796.8 305.3,798.3 307.9,799.8 310.4,801.3 313.0,802.8" fill="none" stroke="#ff0000" stroke-width="1.2" stroke-linejoin="round"/>
<path d="M33.5,801.4 36.1,798.0 38.6,794.3 41.2,790.8 43.8,787.9 46.3,785.3 48.9,783.0 51.4,780.9 54.0,779.0 56.6,777.5 59.1,776.1 61.7,774.8 64.3,773.8 66.8,772.9 69.4,772.1 72.0,771.3 74.5,770.7 77.1,770.1 79.7,769.6 82.2,769.2 84.8,768.7 87.3,768.3 89.9,767.8 92.5,767.4 95.0,767.1 97.6,766.8 100.2,766.7 102.7,766.7 105.3,766.7 107.9,766.7 110.4,766.7 113.0,766.8 115.6,766.9 118.1,767.0 120.7,767.2 123.2,767.4 125.8,767.7 128.4,768.0 130.9,768.3 133.5,768.6 136.1,769.0 138.6,769.3 141.2,769.6 143.8,769.9 146.3,770.2 148.9,770.5 151.5,770.8 154.0,771.1 156.6,771.3 159.1,771.6 161.7,771.8 164.3,772.0 166.8,772.2 169.4,772.3 172.0,772.4 174.5,772.4 177.1,772.4 179.7,772.4 182.2,772.3 184.8,772.3 187.4,772.3 189.9,772.2 192.5,772.2 195.0,772.2 197.6,772.2 200.2,772.2 202.7,772.2 205.3,772.2 207.9,772.2 210.4,772.2 213.0,772.3 215.6,772.4 218.1,772.5 220.7,772.7 223.3,772.9 225.8,773.2 228.4,773.5 230.9,773.8 233.5,774.1 236.1,774.4 238.6,774.8 241.2,775.1 243.8,775.5 246.3,775.8 248.9,776.2 251.5,776.7 254.0,777.1 256.6,777.6 259.2,778.2 261.7,779.0 264.3,779.9 266.8,780.9 269.4,781.8 272.0,782.8 274.5,783.8 277.1,784.8 279.7,785.9 282.2,787.1 284.8,788.4 287.4,789.8 289.9,791.1 292.5,792.5 295.1,794.0 297.6,795.4 300.2,796.9 302.7,798.5 305.3,800.1 307.9,801.7 310.4,803.4 313.0,805.1" fill="none" stroke="#ff0000" stroke-width="1.2" stroke-linejoin="round"/>
<path d="M33.5,802.5 36.1,799.1 38.6,795.3 41.2,791.9 43.8,789.1 46.3,786.6 48.9,784.4 51.4,782.4 54.0,780.7 56.6,779.3 59.1,778.0 61.7,776.9 64.3,776.0 66.8,775.2 69.4,774.5 72.0,773.8 74.5,773.3 77.1,772.7 79.7,772.2 82.2,771.6 84.8,771.1 87.3,770.5 89.9,769.9 92.5,769.3 95.0,768.8 97.6,768.4 100.2,768.1 102.7,767.9 105.3,767.7 107.9,767.6 110.4,767.5 113.0,767.4 115.6,767.4 118.1,767.4 120.7,767.5 123.2,767.7 125.8,767.9 128.4,768.2 130.9,768.5 133.5,768.9 136.1,769.2 138.6,769.6 141.2,769.9 143.8,770.3 146.3,770.6 148.9,771.0 151.5,771.3 154.0,771.6 156.6,771.9 159.1,772.2 161.7,772.5 164.3,772.8 166.8,773.1 169.4,773.3 172.0,773.5 174.5,773.6 177.1,773.8 179.7,773.9 182.2,774.0 184.8,774.0 187.4,774.1 189.9,774.1 192.5,774.2 195.0,774.3 197.6,774.3 200.2,774.5 202.7,774.6 205.3,774.7 207.9,774.9 210.4,775.1 213.0,775.3 215.6,775.5 218.1,775.8 220.7,776.0 223.3,776.3 225.8,776.6 228.4,777.0 230.9,777.4 233.5,777.8 236.1,778.3 238.6,778.8 241.2,779.3 243.8,779.8 246.3,780.3 248.9,780.8 251.5,781.3 254.0,781.8 256.6,782.3 259.2,782.9 261.7,783.7 264.3,784.6 266.8,785.6 269.4,786.5 272.0,787.4 274.5,788.4 277.1,789.4 279.7,790.5 282.2,791.7 284.8,793.0 287.4,794.3 289.9,795.6 292.5,796.7 295.1,797.9 297.6,799.0 300.2,800.2 302.7,801.4 305.3,802.6 307.9,803.9 310.4,805.3 313.0,806.7" fill="none" stroke="#ff0000" stroke-width="1.2" stroke-linejoin="round"/>
<path d="M33.5,803.6 36.1,800.1 38.6,796.3 41.2,792.8 43.8,789.7 46.3,786.9 48.9,784.3 51.4,781.9 54.0,779.7 56.6,777.8 59.1,776.1 61.7,774.5 64.3,773.2 66.8,772.0 69.4,771.1 72.0,770.2 74.5,769.5 77.1,768.9 79.7,768.4 82.2,767.9 84.8,767.5 87.3,767.1 89.9,766.8 92.5,766.6 95.0,766.4 97.6,766.4 100.2,766.5 102.7,766.7 105.3,766.9 107.9,767.1 110.4,767.3 113.0,767.5 115.6,767.7 118.1,767.9 120.7,768.1 123.2,768.3 125.8,768.6 128.4,768.9 130.9,769.2 133.5,769.5 136.1,769.8 138.6,770.1 141.2,770.3 143.8,770.5 146.3,770.8 148.9,771.0 151.5,771.3 154.0,771.5 156.6,771.8 159.1,772.0 161.7,772.2 164.3,772.5 166.8,772.7 169.4,772.9 172.0,773.1 174.5,773.3 177.1,773.5 179.7,773.7 182.2,774.0 184.8,774.3 187.4,774.5 189.9,774.8 192.5,775.1 195.0,775.4 197.6,775.7 200.2,776.0 202.7,776.3 205.3,776.6 207.9,776.8 210.4,777.1 213.0,777.3 215.6,777.5 218.1,777.8 220.7,778.0 223.3,778.2 225.8,778.4 228.4,778.6 230.9,778.8 233.5,779.0 236.1,779.2 238.6,779.4 241.2,779.6 243.8,779.7 246.3,779.9 248.9,780.0 251.5,780.2 254.0,780.4 256.6,780.7 259.2,781.1 261.7,781.7 264.3,782.5 266.8,783.3 269.4,784.2 272.0,785.1 274.5,786.1 277.1,787.2 279.7,788.4 282.2,789.7 284.8,791.3 287.4,792.9 289.9,794.5 292.5,796.1 295.1,797.8 297.6,799.4 300.2,801.0 302.7,802.5 305.3,804.0 307.9,805.5 310.4,806.9 313.0,808.3" fill="none" stroke="#ff0000" stroke-width="1.2" stroke-linejoin="round"/>
<path d="M33.5,799.2 36.1,795.5 38.6,791.4 41.2,787.6 43.8,784.4 46.3,781.6 48.9,779.1 51.4,776.8 54.0,774.9 56.6,773.3 59.1,771.9 61.7,770.7 64.3,769.9 66.8,769.1 69.4,768.5 72.0,768.0 74.5,767.6 77.1,767.3 79.7,767.1 82.2,766.9 84.8,766.8 87.3,766.8 89.9,766.8 92.5,766.8 95.0,766.9 97.6,767.0 100.2,767.2 102.7,767.4 105.3,767.6 107.9,767.8 110.4,767.9 113.0,768.0 115.6,768.1 118.1,768.2 120.7,768.3 123.2,768.5 125.8,768.6 128.4,768.8 130.9,769.0 133.5,769.2 136.1,769.4 138.6,769.6 141.2,769.7 143.8,769.8 146.3,770.0 148.9,770.2 151.5,770.3 154.0,770.5 156.6,770.6 159.1,770.8 161.7,770.9 164.3,771.1 166.8,771.2 169.4,771.3 172.0,771.4 174.5,771.4 177.1,771.4 179.7,771.4 182.2,771.4 184.8,771.4 187.4,771.4 189.9,771.4 192.5,771.5 195.0,771.5 197.6,771.6 200.2,771.6 202.7,771.6 205.3,771.7 207.9,771.7 210.4,771.7 213.0,771.7 215.6,771.8 218.1,771.9 220.7,772.1 223.3,772.3 225.8,772.5 228.4,772.8 230.9,773.1 233.5,773.4 236.1,773.7 238.6,774.1 241.2,774.4 243.8,774.8 246.3,775.2 248.9,775.6 251.5,776.0 254.0,776.5 256.6,777.0 259.2,777.6 261.7,778.5 264.3,779.4 266.8,780.4 269.4,781.4 272.0,782.4 274.5,783.4 277.1,784.5 279.7,785.6 282.2,786.8 284.8,788.1 287.4,789.4 289.9,790.8 292.5,792.1 295.1,793.5 297.6,794.8 300.2,796.1 302.7,797.4 305.3,798.6 307.9,799.8 310.4,801.0 313.0,802.2" fill="none" stroke="#ff0000" stroke-width="1.2" stroke-linejoin="round"/>
<path d="M33.5,823.6 36.1,823.1 38.6,822.2 41.2,821.2 43.8,820.0 46.3,818.7 48.9,817.5 51.4,816.3 54.0,815.2 56.6,814.1 59.1,813.1 61.7,812.0 64.3,811.0 66.8,810.0 69.4,809.0 72.0,808.0 74.5,807.2 77.1,806.3 79.7,805.5 82.2,804.7 84.8,804.0 87.3,803.2 89.9,802.4 92.5,801.6 95.0,800.9 97.6,800.1 100.2,799.4 102.7,798.6 105.3,797.9 107.9,797.2 110.4,796.5 113.0,795.8 115.6,795.1 118.1,794.3 120.7,793.4 123.2,792.3 125.8,791.2 128.4,790.2 130.9,789.5 133.5,788.8 136.1,788.1 138.6,787.5 141.2,786.9 143.8,786.2 146.3,785.4 148.9,784.5 151.5,783.7 154.0,782.7 156.6,781.8 159.1,780.9 161.7,779.9 164.3,778.9 166.8,777.9 169.4,776.8 172.0,775.5 174.5,774.1 177.1,772.6 179.7,771.2 182.2,769.9 184.8,768.8 187.4,767.6 189.9,766.6 192.5,765.5 195.0,764.5 197.6,763.5 200.2,762.4 202.7,761.4 205.3,760.3 207.9,759.2 210.4,758.2 213.0,757.1 215.6,756.1 218.1,755.0 220.7,754.0 223.3,753.0 225.8,752.0 228.4,750.9 230.9,749.9 233.5,748.9 236.1,747.9 238.6,746.9 241.2,746.0 243.8,745.1 246.3,744.3 248.9,743.5 251.5,742.8 254.0,742.1 256.6,741.5 259.2,740.9 261.7,740.3 264.3,739.7 266.8,739.4 269.4,739.3 272.0,739.3 274.5,739.3 277.1,739.3 279.7,739.6 282.2,740.5 284.8,741.7 287.4,743.1 289.9,745.3 292.5,747.9 295.1,750.8 297.6,753.9 300.2,757.4 302.7,761.1 305.3,764.8 307.9,768.5 310.4,772.5 313.0,776.5" fill="none" stroke="#0000ff" stroke-width="2.0" stroke-linejoin="round" stroke-linecap="round"/>
<path d="M33.5,821.4 36.1,820.8 38.6,819.9 41.2,818.9 43.8,817.7 46.3,816.6 48.9,815.4 51.4,814.4 54.0,813.5 56.6,812.6 59.1,811.7 61.7,810.9 64.3,810.0 66.8,809.2 69.4,808.4 72.0,807.6 74.5,806.8 77.1,806.1 79.7,805.5 82.2,804.8 84.8,804.1 87.3,803.3 89.9,802.5 92.5,801.6 95.0,800.7 97.6,799.7 100.2,798.6 102.7,797.6 105.3,796.5 107.9,795.5 110.4,794.5 113.0,793.5 115.6,792.5 118.1,791.5 120.7,790.3 123.2,789.1 125.8,787.9 128.4,786.9 130.9,786.1 133.5,785.5 136.1,784.9 138.6,784.4 141.2,783.8 143.8,783.3 146.3,782.6 148.9,782.0 151.5,781.3 154.0,780.6 156.6,779.8 159.1,779.1 161.7,778.3 164.3,777.5 166.8,776.7 169.4,775.7 172.0,774.6 174.5,773.3 177.1,772.0 179.7,770.7 182.2,769.5 184.8,768.4 187.4,767.3 189.9,766.2 192.5,765.1 195.0,764.0 197.6,762.8 200.2,761.5 202.7,760.0 205.3,758.5 207.9,757.0 210.4,755.4 213.0,753.8 215.6,752.3 218.1,751.0 220.7,749.7 223.3,748.6 225.8,747.6 228.4,746.6 230.9,745.6 233.5,744.6 236.1,743.8 238.6,743.0 241.2,742.3 243.8,741.6 246.3,741.0 248.9,740.5 251.5,740.0 254.0,739.4 256.6,738.9 259.2,738.4 261.7,737.8 264.3,737.3 266.8,736.9 269.4,736.8 272.0,736.7 274.5,736.5 277.1,736.3 279.7,736.3 282.2,736.8 284.8,737.5 287.4,738.7 289.9,740.6 292.5,743.1 295.1,745.8 297.6,748.9 300.2,752.5 302.7,756.2 305.3,760.0 307.9,764.0 310.4,768.1 313.0,772.4" fill="none" stroke="#0000ff" stroke-width="1.2" stroke-linejoin="round"/>
<path d="M33.5,822.8 36.1,822.2 38.6,821.4 41.2,820.4 43.8,819.2 46.3,818.1 48.9,816.9 51.4,815.8 54.0,814.9 56.6,813.9 59.1,813.0 61.7,812.0 64.3,811.1 66.8,810.2 69.4,809.4 72.0,808.6 74.5,807.8 77.1,807.1 79.7,806.4 82.2,805.6 84.8,804.9 87.3,804.2 89.9,803.4 92.5,802.6 95.0,801.8 97.6,800.9 100.2,800.1 102.7,799.2 105.3,798.3 107.9,797.5 110.4,796.7 113.0,795.9 115.6,795.0 118.1,794.1 120.7,793.1 123.2,791.9 125.8,790.8 128.4,789.8 130.9,789.0 133.5,788.4 136.1,787.7 138.6,787.2 141.2,786.6 143.8,785.9 146.3,785.2 148.9,784.4 151.5,783.6 154.0,782.8 156.6,782.0 159.1,781.1 161.7,780.3 164.3,779.5 166.8,778.6 169.4,777.7 172.0,776.6 174.5,775.3 177.1,773.9 179.7,772.6 182.2,771.5 184.8,770.4 187.4,769.4 189.9,768.4 192.5,767.5 195.0,766.6 197.6,765.7 200.2,764.9 202.7,764.0 205.3,763.2 207.9,762.4 210.4,761.5 213.0,760.7 215.6,759.8 218.1,758.9 220.7,757.9 223.3,756.8 225.8,755.7 228.4,754.5 230.9,753.5 233.5,752.4 236.1,751.3 238.6,750.3 241.2,749.3 243.8,748.4 246.3,747.5 248.9,746.7 251.5,746.0 254.0,745.4 256.6,744.8 259.2,744.2 261.7,743.6 264.3,742.9 266.8,742.3 269.4,741.9 272.0,741.5 274.5,741.0 277.1,740.5 279.7,740.2 282.2,740.5 284.8,741.3 287.4,742.3 289.9,744.1 292.5,746.5 295.1,749.2 297.6,752.1 300.2,755.6 302.7,759.2 305.3,762.9 307.9,766.8 310.4,770.8 313.0,774.9" fill="none" stroke="#0000ff" stroke-width="1.2" stroke-linejoin="round"/>
<path d="M33.5,825.8 36.1,825.3 38.6,824.5 41.2,823.4 43.8,822.2 46.3,820.9 48.9,819.6 51.4,818.3 54.0,817.1 56.6,815.8 59.1,814.6 61.7,813.3 64.3,812.0 66.8,810.8 69.4,809.5 72.0,808.3 74.5,807.1 77.1,806.1 79.7,805.0 82.2,804.0 84.8,803.0 87.3,802.0 89.9,801.1 92.5,800.2 95.0,799.3 97.6,798.6 100.2,797.9 102.7,797.3 105.3,796.8 107.9,796.3 110.4,796.0 113.0,795.6 115.6,795.2 118.1,794.8 120.7,794.3 123.2,793.6 125.8,793.0 128.4,792.5 130.9,792.1 133.5,791.8 136.1,791.5 138.6,791.0 141.2,790.5 143.8,789.9 146.3,789.1 148.9,788.3 151.5,787.3 154.0,786.3 156.6,785.2 159.1,784.1 161.7,783.0 164.3,781.9 166.8,780.8 169.4,779.5 172.0,778.1 174.5,776.5 177.1,774.8 179.7,773.1 182.2,771.7 184.8,770.3 187.4,769.0 189.9,767.7 192.5,766.6 195.0,765.4 197.6,764.4 200.2,763.3 202.7,762.3 205.3,761.3 207.9,760.4 210.4,759.5 213.0,758.7 215.6,757.9 218.1,757.1 220.7,756.4 223.3,755.5 225.8,754.7 228.4,753.8 230.9,752.9 233.5,751.9 236.1,751.0 238.6,750.1 241.2,749.2 243.8,748.4 246.3,747.5 248.9,746.7 251.5,746.1 254.0,745.6 256.6,745.2 259.2,744.7 261.7,744.3 264.3,743.9 266.8,743.7 269.4,743.8 272.0,744.0 274.5,744.1 277.1,744.3 279.7,744.8 282.2,745.9 284.8,747.4 287.4,748.8 289.9,750.9 292.5,753.5 295.1,756.2 297.6,759.1 300.2,762.4 302.7,765.9 305.3,769.4 307.9,773.1 310.4,776.8 313.0,780.6" fill="none" stroke="#0000ff" stroke-width="1.2" stroke-linejoin="round"/>
<path d="M33.5,825.6 36.1,825.1 38.6,824.4 41.2,823.4 43.8,822.2 46.3,821.0 48.9,819.8 51.4,818.7 54.0,817.6 56.6,816.6 59.1,815.5 61.7,814.5 64.3,813.5 66.8,812.5 69.4,811.5 72.0,810.6 74.5,809.7 77.1,808.9 79.7,808.1 82.2,807.4 84.8,806.6 87.3,805.9 89.9,805.1 92.5,804.3 95.0,803.6 97.6,802.8 100.2,802.1 102.7,801.4 105.3,800.7 107.9,800.0 110.4,799.4 113.0,798.8 115.6,798.2 118.1,797.4 120.7,796.6 123.2,795.6 125.8,794.6 128.4,793.7 130.9,793.0 133.5,792.3 136.1,791.6 138.6,790.9 141.2,790.1 143.8,789.3 146.3,788.3 148.9,787.3 151.5,786.3 154.0,785.2 156.6,784.1 159.1,782.9 161.7,781.8 164.3,780.6 166.8,779.4 169.4,778.1 172.0,776.6 174.5,774.9 177.1,773.2 179.7,771.5 182.2,769.9 184.8,768.6 187.4,767.2 189.9,765.9 192.5,764.6 195.0,763.2 197.6,761.8 200.2,760.4 202.7,758.9 205.3,757.3 207.9,755.9 210.4,754.5 213.0,753.2 215.6,752.1 218.1,751.2 220.7,750.4 223.3,749.6 225.8,748.9 228.4,748.2 230.9,747.5 233.5,746.8 236.1,746.1 238.6,745.4 241.2,744.8 243.8,744.2 246.3,743.7 248.9,743.2 251.5,742.7 254.0,742.3 256.6,742.2 259.2,742.0 261.7,741.9 264.3,741.9 266.8,742.1 269.4,742.7 272.0,743.2 274.5,743.7 277.1,744.1 279.7,744.9 282.2,746.1 284.8,747.7 287.4,749.1 289.9,751.1 292.5,753.6 295.1,756.1 297.6,759.0 300.2,762.2 302.7,765.6 305.3,769.1 307.9,772.7 310.4,776.4 313.0,780.3" fill="none" stroke="#0000ff" stroke-width="1.2" stroke-linejoin="round"/>
<path d="M33.5,823.4 36.1,822.9 38.6,822.1 41.2,821.0 43.8,819.9 46.3,818.7 48.9,817.4 51.4,816.3 54.0,815.2 56.6,814.1 59.1,813.0 61.7,811.8 64.3,810.7 66.8,809.6 69.4,808.5 72.0,807.4 74.5,806.4 77.1,805.3 79.7,804.3 82.2,803.3 84.8,802.3 87.3,801.3 89.9,800.3 92.5,799.4 95.0,798.5 97.6,797.7 100.2,797.1 102.7,796.4 105.3,795.9 107.9,795.4 110.4,795.0 113.0,794.6 115.6,794.2 118.1,793.8 120.7,793.2 123.2,792.5 125.8,791.9 128.4,791.5 130.9,791.2 133.5,791.0 136.1,790.9 138.6,790.6 141.2,790.3 143.8,789.9 146.3,789.3 148.9,788.6 151.5,787.8 154.0,786.9 156.6,786.0 159.1,785.1 161.7,784.2 164.3,783.2 166.8,782.2 169.4,781.0 172.0,779.7 174.5,778.1 177.1,776.5 179.7,774.8 182.2,773.3 184.8,771.9 187.4,770.6 189.9,769.2 192.5,768.0 195.0,766.8 197.6,765.7 200.2,764.5 202.7,763.4 205.3,762.4 207.9,761.3 210.4,760.3 213.0,759.3 215.6,758.4 218.1,757.5 220.7,756.5 223.3,755.6 225.8,754.6 228.4,753.7 230.9,752.7 233.5,751.8 236.1,750.8 238.6,749.9 241.2,749.0 243.8,748.1 246.3,747.2 248.9,746.3 251.5,745.6 254.0,744.9 256.6,744.2 259.2,743.5 261.7,742.6 264.3,741.8 266.8,741.1 269.4,740.6 272.0,740.1 274.5,739.6 277.1,739.2 279.7,739.2 282.2,739.8 284.8,740.7 287.4,741.9 289.9,744.0 292.5,746.6 295.1,749.5 297.6,752.7 300.2,756.3 302.7,760.1 305.3,763.9 307.9,767.8 310.4,771.9 313.0,776.0" fill="none" stroke="#0000ff" stroke-width="1.2" stroke-linejoin="round"/>
<path d="M33.5,824.8 36.1,824.3 38.6,823.5 41.2,822.5 43.8,821.3 46.3,820.1 48.9,818.9 51.4,817.8 54.0,816.8 56.6,815.8 59.1,814.8 61.7,813.8 64.3,812.9 66.8,811.9 69.4,811.0 72.0,810.1 74.5,809.3 77.1,808.5 79.7,807.7 82.2,806.9 84.8,806.1 87.3,805.3 89.9,804.5 92.5,803.6 95.0,802.6 97.6,801.7 100.2,800.7 102.7,799.8 105.3,798.8 107.9,797.8 110.4,796.9 113.0,796.0 115.6,795.1 118.1,794.1 120.7,793.0 123.2,791.8 125.8,790.6 128.4,789.7 130.9,788.9 133.5,788.2 136.1,787.6 138.6,787.1 141.2,786.6 143.8,786.0 146.3,785.3 148.9,784.7 151.5,784.1 154.0,783.5 156.6,782.9 159.1,782.2 161.7,781.6 164.3,781.0 166.8,780.4 169.4,779.6 172.0,778.7 174.5,777.7 177.1,776.5 179.7,775.3 182.2,774.3 184.8,773.3 187.4,772.2 189.9,771.2 192.5,770.2 195.0,769.2 197.6,768.2 200.2,767.1 202.7,766.0 205.3,764.7 207.9,763.4 210.4,761.8 213.0,760.1 215.6,758.2 218.1,756.3 220.7,754.3 223.3,752.4 225.8,750.7 228.4,749.1 230.9,747.6 233.5,746.2 236.1,744.9 238.6,743.7 241.2,742.6 243.8,741.7 246.3,740.9 248.9,740.2 251.5,739.5 254.0,738.9 256.6,738.3 259.2,737.8 261.7,737.4 264.3,737.0 266.8,736.9 269.4,737.1 272.0,737.5 274.5,737.9 277.1,738.3 279.7,739.0 282.2,740.4 284.8,742.2 287.4,744.2 289.9,746.9 292.5,749.9 295.1,752.9 297.6,756.2 300.2,759.7 302.7,763.4 305.3,767.1 307.9,770.8 310.4,774.7 313.0,778.7" fill="none" stroke="#0000ff" stroke-width="1.2" stroke-linejoin="round"/>
<path d="M33.5,824.8 36.1,824.3 38.6,823.4 41.2,822.3 43.8,821.1 46.3,819.8 48.9,818.5 51.4,817.3 54.0,816.2 56.6,815.2 59.1,814.1 61.7,813.1 64.3,812.0 66.8,811.1 69.4,810.1 72.0,809.3 74.5,808.5 77.1,807.7 79.7,807.0 82.2,806.4 84.8,805.8 87.3,805.2 89.9,804.6 92.5,803.9 95.0,803.3 97.6,802.7 100.2,802.0 102.7,801.4 105.3,800.8 107.9,800.2 110.4,799.6 113.0,799.0 115.6,798.3 118.1,797.6 120.7,796.6 123.2,795.5 125.8,794.3 128.4,793.3 130.9,792.4 133.5,791.5 136.1,790.6 138.6,789.8 141.2,788.9 143.8,787.9 146.3,786.9 148.9,785.8 151.5,784.7 154.0,783.6 156.6,782.5 159.1,781.4 161.7,780.3 164.3,779.2 166.8,778.1 169.4,776.9 172.0,775.6 174.5,774.2 177.1,772.7 179.7,771.3 182.2,770.1 184.8,769.0 187.4,768.0 189.9,767.0 192.5,766.1 195.0,765.3 197.6,764.5 200.2,763.7 202.7,763.0 205.3,762.3 207.9,761.6 210.4,761.0 213.0,760.4 215.6,759.7 218.1,759.0 220.7,758.2 223.3,757.3 225.8,756.3 228.4,755.2 230.9,754.2 233.5,753.1 236.1,752.1 238.6,751.1 241.2,750.1 243.8,749.2 246.3,748.3 248.9,747.5 251.5,746.9 254.0,746.5 256.6,746.1 259.2,745.8 261.7,745.4 264.3,745.1 266.8,745.0 269.4,745.2 272.0,745.3 274.5,745.4 277.1,745.5 279.7,745.9 282.2,746.8 284.8,748.0 287.4,749.0 289.9,750.8 292.5,753.0 295.1,755.4 297.6,758.1 300.2,761.2 302.7,764.5 305.3,767.8 307.9,771.3 310.4,775.0 313.0,778.8" fill="none" stroke="#0000ff" stroke-width="1.2" stroke-linejoin="round"/>
<path d="M33.5,822.0 36.1,821.3 38.6,820.4 41.2,819.2 43.8,817.9 46.3,816.6 48.9,815.2 51.4,814.0 54.0,812.8 56.6,811.7 59.1,810.6 61.7,809.5 64.3,808.4 66.8,807.4 69.4,806.4 72.0,805.4 74.5,804.5 77.1,803.6 79.7,802.8 82.2,802.1 84.8,801.5 87.3,800.9 89.9,800.4 92.5,799.9 95.0,799.6 97.6,799.2 100.2,798.9 102.7,798.6 105.3,798.2 107.9,797.9 110.4,797.5 113.0,797.2 115.6,796.7 118.1,796.1 120.7,795.3 123.2,794.3 125.8,793.2 128.4,792.2 130.9,791.2 133.5,790.3 136.1,789.4 138.6,788.4 141.2,787.4 143.8,786.3 146.3,785.2 148.9,784.2 151.5,783.1 154.0,782.0 156.6,780.8 159.1,779.7 161.7,778.5 164.3,777.4 166.8,776.2 169.4,774.9 172.0,773.5 174.5,772.0 177.1,770.4 179.7,768.8 182.2,767.4 184.8,766.2 187.4,764.9 189.9,763.7 192.5,762.6 195.0,761.4 197.6,760.2 200.2,759.0 202.7,757.8 205.3,756.6 207.9,755.5 210.4,754.4 213.0,753.4 215.6,752.5 218.1,751.6 220.7,750.7 223.3,749.7 225.8,748.8 228.4,747.7 230.9,746.6 233.5,745.5 236.1,744.4 238.6,743.3 241.2,742.2 243.8,741.2 246.3,740.3 248.9,739.5 251.5,738.5 254.0,737.6 256.6,736.7 259.2,735.8 261.7,735.0 264.3,734.2 266.8,733.6 269.4,733.2 272.0,733.1 274.5,733.0 277.1,733.0 279.7,733.2 282.2,734.0 284.8,735.2 287.4,737.0 289.9,739.5 292.5,742.6 295.1,745.9 297.6,749.4 300.2,753.3 302.7,757.3 305.3,761.2 307.9,765.2 310.4,769.3 313.0,773.5" fill="none" stroke="#0000ff" stroke-width="1.2" stroke-linejoin="round"/>
<path d="M33.5,823.0 36.1,822.4 38.6,821.5 41.2,820.4 43.8,819.1 46.3,817.8 48.9,816.5 51.4,815.3 54.0,814.1 56.6,813.0 59.1,811.9 61.7,810.8 64.3,809.7 66.8,808.6 69.4,807.6 72.0,806.5 74.5,805.5 77.1,804.6 79.7,803.6 82.2,802.7 84.8,801.8 87.3,800.9 89.9,800.0 92.5,799.1 95.0,798.2 97.6,797.4 100.2,796.6 102.7,795.8 105.3,795.0 107.9,794.2 110.4,793.5 113.0,792.8 115.6,792.0 118.1,791.2 120.7,790.1 123.2,789.0 125.8,787.8 128.4,786.8 130.9,785.9 133.5,785.2 136.1,784.5 138.6,783.8 141.2,783.1 143.8,782.3 146.3,781.4 148.9,780.5 151.5,779.6 154.0,778.6 156.6,777.7 159.1,776.7 161.7,775.7 164.3,774.7 166.8,773.6 169.4,772.5 172.0,771.2 174.5,769.7 177.1,768.2 179.7,766.8 182.2,765.5 184.8,764.3 187.4,763.2 189.9,762.1 192.5,761.0 195.0,760.0 197.6,759.0 200.2,758.0 202.7,757.2 205.3,756.4 207.9,755.8 210.4,755.3 213.0,755.0 215.6,754.7 218.1,754.3 220.7,753.9 223.3,753.5 225.8,752.9 228.4,752.3 230.9,751.6 233.5,750.8 236.1,749.9 238.6,749.0 241.2,748.1 243.8,747.2 246.3,746.3 248.9,745.5 251.5,744.7 254.0,744.0 256.6,743.3 259.2,742.6 261.7,741.9 264.3,741.2 266.8,740.6 269.4,740.4 272.0,740.1 274.5,739.8 277.1,739.6 279.7,739.6 282.2,740.4 284.8,741.4 287.4,742.7 289.9,744.7 292.5,747.3 295.1,750.0 297.6,753.1 300.2,756.6 302.7,760.2 305.3,763.8 307.9,767.6 310.4,771.5 313.0,775.5" fill="none" stroke="#0000ff" stroke-width="1.2" stroke-linejoin="round"/>
<rect x="40.75" y="718" width="59.25" height="55.25" fill="#fff" stroke="#8a8a8a" stroke-width="1"/>
<line x1="42.5" y1="732" x2="52" y2="732" stroke="#0000ff" stroke-width="1.6"/>
<line x1="42.5" y1="759.25" x2="52" y2="759.25" stroke="#ff0000" stroke-width="1.6"/>
<text x="53" y="731.5" font-family='"Liberation Sans", sans-serif' font-size="12.5">f<tspan font-size="9.5" dy="6.88">λ</tspan><tspan font-size="7.79" dy="5.89" dx="0">2</tspan><tspan font-size="9.5" dy="-5.89" dx="1.14">|</tspan><tspan font-size="9.5" dx="0.95">U</tspan><tspan font-size="12.5" dy="-6.88" dx="0">(λ</tspan><tspan font-size="10.38" dy="6.62">2</tspan><tspan font-size="12.5" dy="-6.62">)</tspan></text>
<text x="53" y="759" font-family='"Liberation Sans", sans-serif' font-size="12.5">f<tspan font-size="9.5" dy="6.88">λ</tspan><tspan font-size="7.79" dy="5.89" dx="0">2</tspan><tspan font-size="9.5" dy="-5.89" dx="1.14">|</tspan><tspan font-size="9.5" dx="0.95">L</tspan><tspan font-size="12.5" dy="-6.88" dx="0">(λ</tspan><tspan font-size="10.38" dy="6.62">2</tspan><tspan font-size="12.5" dy="-6.62">)</tspan></text>
<text x="30.5" y="837.52" font-size="12.2" text-anchor="end" font-family='"Liberation Sans", sans-serif' >0</text>
<text x="30.5" y="807.46" font-size="12.2" text-anchor="end" font-family='"Liberation Sans", sans-serif' >5</text>
<text x="30.5" y="777.39" font-size="12.2" text-anchor="end" font-family='"Liberation Sans", sans-serif' >10</text>
<text x="30.5" y="747.33" font-size="12.2" text-anchor="end" font-family='"Liberation Sans", sans-serif' >15</text>
<text x="30.5" y="717.27" font-size="12.2" text-anchor="end" font-family='"Liberation Sans", sans-serif' >20</text>
<text x="32.5" y="845.9" font-size="12" text-anchor="middle" font-family='"Liberation Sans", sans-serif' >0</text>
<text x="88.75" y="845.9" font-size="12" text-anchor="middle" font-family='"Liberation Sans", sans-serif' >0.02</text>
<text x="145" y="845.9" font-size="12" text-anchor="middle" font-family='"Liberation Sans", sans-serif' >0.04</text>
<text x="201.25" y="845.9" font-size="12" text-anchor="middle" font-family='"Liberation Sans", sans-serif' >0.06</text>
<text x="257.5" y="845.9" font-size="12" text-anchor="middle" font-family='"Liberation Sans", sans-serif' >0.08</text>
<text x="313.75" y="845.9" font-size="12" text-anchor="middle" font-family='"Liberation Sans", sans-serif' >0.1</text>
<text transform="translate(13.75,773.4) rotate(-90)" font-size="12.3" text-anchor="middle" font-family='"Liberation Sans", sans-serif'>pdf</text>
<text x="166" y="858" font-size="12" font-family='"Liberation Sans", sans-serif'>λ<tspan font-size="10" dy="5">2</tspan></text>
<text x="150.21" y="890.44" font-size="26" text-anchor="start" font-family='"Liberation Serif", serif' >(g)</text>
<line x1="421.56" y1="713" x2="421.56" y2="842" stroke="#e2e2e2" stroke-width="1" stroke-dasharray="2,1"/>
<line x1="456.62" y1="713" x2="456.62" y2="842" stroke="#e2e2e2" stroke-width="1" stroke-dasharray="2,1"/>
<line x1="491.69" y1="713" x2="491.69" y2="842" stroke="#e2e2e2" stroke-width="1" stroke-dasharray="2,1"/>
<line x1="526.75" y1="713" x2="526.75" y2="842" stroke="#e2e2e2" stroke-width="1" stroke-dasharray="2,1"/>
<line x1="561.81" y1="713" x2="561.81" y2="842" stroke="#e2e2e2" stroke-width="1" stroke-dasharray="2,1"/>
<line x1="596.88" y1="713" x2="596.88" y2="842" stroke="#e2e2e2" stroke-width="1" stroke-dasharray="2,1"/>
<line x1="631.94" y1="713" x2="631.94" y2="842" stroke="#e2e2e2" stroke-width="1" stroke-dasharray="2,1"/>
<line x1="386.5" y1="820.5" x2="667" y2="820.5" stroke="#e2e2e2" stroke-width="1" stroke-dasharray="2,1"/>
<line x1="386.5" y1="799" x2="667" y2="799" stroke="#e2e2e2" stroke-width="1" stroke-dasharray="2,1"/>
<line x1="386.5" y1="777.5" x2="667" y2="777.5" stroke="#e2e2e2" stroke-width="1" stroke-dasharray="2,1"/>
<line x1="386.5" y1="756" x2="667" y2="756" stroke="#e2e2e2" stroke-width="1" stroke-dasharray="2,1"/>
<line x1="386.5" y1="734.5" x2="667" y2="734.5" stroke="#e2e2e2" stroke-width="1" stroke-dasharray="2,1"/>
<rect x="386.5" y="713" width="280.5" height="129" fill="none" stroke="#a6a6a6" stroke-width="1"/>
<line x1="386.5" y1="842" x2="386.5" y2="839" stroke="#a6a6a6" stroke-width="1"/>
<line x1="386.5" y1="713" x2="386.5" y2="716" stroke="#a6a6a6" stroke-width="1"/>
<line x1="421.56" y1="842" x2="421.56" y2="839" stroke="#a6a6a6" stroke-width="1"/>
<line x1="421.56" y1="713" x2="421.56" y2="716" stroke="#a6a6a6" stroke-width="1"/>
<line x1="456.62" y1="842" x2="456.62" y2="839" stroke="#a6a6a6" stroke-width="1"/>
<line x1="456.62" y1="713" x2="456.62" y2="716" stroke="#a6a6a6" stroke-width="1"/>
<line x1="491.69" y1="842" x2="491.69" y2="839" stroke="#a6a6a6" stroke-width="1"/>
<line x1="491.69" y1="713" x2="491.69" y2="716" stroke="#a6a6a6" stroke-width="1"/>
<line x1="526.75" y1="842" x2="526.75" y2="839" stroke="#a6a6a6" stroke-width="1"/>
<line x1="526.75" y1="713" x2="526.75" y2="716" stroke="#a6a6a6" stroke-width="1"/>
<line x1="561.81" y1="842" x2="561.81" y2="839" stroke="#a6a6a6" stroke-width="1"/>
<line x1="561.81" y1="713" x2="561.81" y2="716" stroke="#a6a6a6" stroke-width="1"/>
<line x1="596.88" y1="842" x2="596.88" y2="839" stroke="#a6a6a6" stroke-width="1"/>
<line x1="596.88" y1="713" x2="596.88" y2="716" stroke="#a6a6a6" stroke-width="1"/>
<line x1="631.94" y1="842" x2="631.94" y2="839" stroke="#a6a6a6" stroke-width="1"/>
<line x1="631.94" y1="713" x2="631.94" y2="716" stroke="#a6a6a6" stroke-width="1"/>
<line x1="667" y1="842" x2="667" y2="839" stroke="#a6a6a6" stroke-width="1"/>
<line x1="667" y1="713" x2="667" y2="716" stroke="#a6a6a6" stroke-width="1"/>
<line x1="386.5" y1="842" x2="389.5" y2="842" stroke="#a6a6a6" stroke-width="1"/>
<line x1="667" y1="842" x2="664" y2="842" stroke="#a6a6a6" stroke-width="1"/>
<line x1="386.5" y1="820.5" x2="389.5" y2="820.5" stroke="#a6a6a6" stroke-width="1"/>
<line x1="667" y1="820.5" x2="664" y2="820.5" stroke="#a6a6a6" stroke-width="1"/>
<line x1="386.5" y1="799" x2="389.5" y2="799" stroke="#a6a6a6" stroke-width="1"/>
<line x1="667" y1="799" x2="664" y2="799" stroke="#a6a6a6" stroke-width="1"/>
<line x1="386.5" y1="777.5" x2="389.5" y2="777.5" stroke="#a6a6a6" stroke-width="1"/>
<line x1="667" y1="777.5" x2="664" y2="777.5" stroke="#a6a6a6" stroke-width="1"/>
<line x1="386.5" y1="756" x2="389.5" y2="756" stroke="#a6a6a6" stroke-width="1"/>
<line x1="667" y1="756" x2="664" y2="756" stroke="#a6a6a6" stroke-width="1"/>
<line x1="386.5" y1="734.5" x2="389.5" y2="734.5" stroke="#a6a6a6" stroke-width="1"/>
<line x1="667" y1="734.5" x2="664" y2="734.5" stroke="#a6a6a6" stroke-width="1"/>
<line x1="386.5" y1="713" x2="389.5" y2="713" stroke="#a6a6a6" stroke-width="1"/>
<line x1="667" y1="713" x2="664" y2="713" stroke="#a6a6a6" stroke-width="1"/>
<path d="M388.0,777.5 390.6,762.8 393.1,749.6 395.7,741.8 398.2,735.6 400.8,733.6 403.3,734.1 405.9,736.1 408.4,739.0 411.0,742.6 413.6,746.7 416.1,751.0 418.7,755.8 421.2,760.5 423.8,764.6 426.3,768.5 428.9,772.2 431.4,775.6 434.0,778.9 436.5,782.1 439.1,785.5 441.7,788.9 444.2,791.7 446.8,793.7 449.3,795.4 451.9,797.0 454.4,798.7 457.0,800.3 459.5,802.1 462.1,804.1 464.7,806.2 467.2,808.1 469.8,810.0 472.3,811.6 474.9,813.1 477.4,814.2 480.0,815.4 482.5,816.8 485.1,818.4 487.6,820.0 490.2,821.5 492.8,822.8 495.3,823.9 497.9,824.8 500.4,825.7 503.0,826.6 505.5,827.6 508.1,828.7 510.6,829.9 513.2,831.2 515.8,832.4 518.3,833.6 520.9,834.7 523.4,835.8 526.0,836.7 528.5,837.5 531.1,838.2 533.6,838.7 536.2,839.2 538.7,839.6 541.3,840.0 543.9,840.2 546.4,840.4 549.0,840.5 551.5,840.6 554.1,840.6 556.6,840.4 559.2,840.2 561.7,840.0 564.3,839.6 566.9,839.2 569.4,838.9 572.0,838.6 574.5,838.4 577.1,838.2 579.6,838.0 582.2,837.9 584.7,837.7 587.3,837.6 589.8,837.5 592.4,837.5 595.0,837.6 597.5,837.7 600.1,837.9 602.6,838.2 605.2,838.7 607.7,839.1 610.3,839.5 612.8,839.9 615.4,840.3 618.0,840.7 620.5,841.0 623.1,841.2 625.6,841.3 628.2,841.4 630.7,841.5 633.3,841.6 635.8,841.7 638.4,841.7 640.9,841.8 643.5,841.8 646.1,841.8 648.6,841.8 651.2,841.8 653.7,841.8 656.3,841.8 658.8,841.8 661.4,841.8 663.9,841.8 666.5,841.8" fill="none" stroke="#0000ff" stroke-width="2.4" stroke-linejoin="round" stroke-linecap="round"/>
<path d="M388.0,778.3 390.6,770.0 393.1,755.4 395.7,745.6 398.2,739.0 400.8,734.8 403.3,734.2 405.9,735.5 408.4,737.9 411.0,741.2 413.6,745.1 416.1,749.1 418.7,753.7 421.2,758.5 423.8,762.8 426.3,766.8 428.9,770.5 431.4,774.0 434.0,777.2 436.5,780.3 439.1,783.5 441.7,786.9 444.2,790.0 446.8,792.2 449.3,793.8 451.9,795.3 454.4,796.9 457.0,798.5 459.5,800.1 462.1,801.9 464.7,803.9 467.2,805.9 469.8,807.6 472.3,809.3 474.9,810.8 477.4,812.0 480.0,813.0 482.5,814.3 485.1,815.8 487.6,817.5 490.2,819.1 492.8,820.5 495.3,821.8 497.9,822.9 500.4,823.9 503.0,824.9 505.5,826.0 508.1,827.1 510.6,828.4 513.2,829.8 515.8,831.2 518.3,832.5 520.9,833.7 523.4,834.9 526.0,836.0 528.5,836.9 531.1,837.6 533.6,838.3 536.2,838.8 538.7,839.3 541.3,839.7 543.9,840.0 546.4,840.2 549.0,840.3 551.5,840.4 554.1,840.3 556.6,840.2 559.2,839.9 561.7,839.6 564.3,839.2 566.9,838.7 569.4,838.2 572.0,837.8 574.5,837.4 577.1,837.1 579.6,836.9 582.2,836.7 584.7,836.6 587.3,836.5 589.8,836.4 592.4,836.5 595.0,836.6 597.5,836.7 600.1,836.9 602.6,837.2 605.2,837.7 607.7,838.2 610.3,838.7 612.8,839.2 615.4,839.6 618.0,840.1 620.5,840.5 623.1,840.8 625.6,841.1 628.2,841.3 630.7,841.5 633.3,841.7 635.8,841.8 638.4,841.9 640.9,841.9 643.5,842.0 646.1,842.0 648.6,842.0 651.2,842.0 653.7,841.9 656.3,841.9 658.8,841.9 661.4,841.9 663.9,841.9 666.5,841.9" fill="none" stroke="#0000ff" stroke-width="1.2" stroke-linejoin="round"/>
<path d="M388.0,777.1 390.6,769.3 393.1,754.9 395.7,745.1 398.2,738.8 400.8,734.8 403.3,734.5 405.9,736.1 408.4,738.8 411.0,742.3 413.6,746.3 416.1,750.6 418.7,755.3 421.2,760.2 423.8,764.6 426.3,768.6 428.9,772.3 431.4,775.8 434.0,779.1 436.5,782.2 439.1,785.5 441.7,788.9 444.2,792.0 446.8,794.3 449.3,796.0 451.9,797.6 454.4,799.2 457.0,800.8 459.5,802.5 462.1,804.4 464.7,806.5 467.2,808.6 469.8,810.5 472.3,812.3 474.9,814.0 477.4,815.3 480.0,816.5 482.5,817.8 485.1,819.4 487.6,821.0 490.2,822.6 492.8,824.0 495.3,825.1 497.9,826.1 500.4,826.9 503.0,827.8 505.5,828.7 508.1,829.6 510.6,830.7 513.2,831.9 515.8,833.2 518.3,834.3 520.9,835.4 523.4,836.4 526.0,837.4 528.5,838.1 531.1,838.7 533.6,839.2 536.2,839.6 538.7,840.0 541.3,840.2 543.9,840.4 546.4,840.5 549.0,840.7 551.5,840.7 554.1,840.7 556.6,840.6 559.2,840.4 561.7,840.1 564.3,839.8 566.9,839.4 569.4,839.0 572.0,838.7 574.5,838.4 577.1,838.2 579.6,838.0 582.2,837.9 584.7,837.7 587.3,837.5 589.8,837.4 592.4,837.4 595.0,837.5 597.5,837.6 600.1,837.7 602.6,837.9 605.2,838.3 607.7,838.7 610.3,839.1 612.8,839.5 615.4,839.8 618.0,840.2 620.5,840.5 623.1,840.7 625.6,840.9 628.2,841.0 630.7,841.1 633.3,841.3 635.8,841.4 638.4,841.5 640.9,841.5 643.5,841.6 646.1,841.6 648.6,841.6 651.2,841.6 653.7,841.7 656.3,841.7 658.8,841.7 661.4,841.7 663.9,841.8 666.5,841.8" fill="none" stroke="#0000ff" stroke-width="1.2" stroke-linejoin="round"/>
<path d="M388.0,776.9 390.6,764.7 393.1,750.7 395.7,742.4 398.2,736.1 400.8,733.4 403.3,733.7 405.9,735.4 408.4,738.3 411.0,741.8 413.6,745.8 416.1,750.0 418.7,754.7 421.2,759.3 423.8,763.4 426.3,767.1 428.9,770.6 431.4,773.9 434.0,776.9 436.5,779.9 439.1,783.0 441.7,786.3 444.2,789.1 446.8,791.0 449.3,792.6 451.9,794.2 454.4,795.9 457.0,797.6 459.5,799.4 462.1,801.4 464.7,803.5 467.2,805.6 469.8,807.4 472.3,809.2 474.9,810.8 477.4,812.0 480.0,813.2 482.5,814.7 485.1,816.4 487.6,818.2 490.2,819.9 492.8,821.3 495.3,822.5 497.9,823.7 500.4,824.7 503.0,825.7 505.5,826.8 508.1,827.9 510.6,829.2 513.2,830.5 515.8,831.8 518.3,833.1 520.9,834.2 523.4,835.3 526.0,836.3 528.5,837.1 531.1,837.8 533.6,838.4 536.2,838.9 538.7,839.4 541.3,839.7 543.9,840.0 546.4,840.2 549.0,840.3 551.5,840.4 554.1,840.3 556.6,840.2 559.2,839.9 561.7,839.7 564.3,839.4 566.9,839.0 569.4,838.6 572.0,838.4 574.5,838.2 577.1,838.0 579.6,837.9 582.2,837.8 584.7,837.7 587.3,837.6 589.8,837.6 592.4,837.6 595.0,837.7 597.5,837.8 600.1,837.9 602.6,838.3 605.2,838.7 607.7,839.1 610.3,839.5 612.8,839.9 615.4,840.3 618.0,840.6 620.5,840.8 623.1,841.0 625.6,841.2 628.2,841.3 630.7,841.3 633.3,841.4 635.8,841.5 638.4,841.6 640.9,841.6 643.5,841.7 646.1,841.7 648.6,841.7 651.2,841.7 653.7,841.7 656.3,841.7 658.8,841.7 661.4,841.7 663.9,841.7 666.5,841.8" fill="none" stroke="#0000ff" stroke-width="1.2" stroke-linejoin="round"/>
<path d="M388.0,778.2 390.6,767.8 393.1,753.6 395.7,744.6 398.2,738.2 400.8,734.8 403.3,734.6 405.9,736.1 408.4,738.6 411.0,742.0 413.6,745.9 416.1,750.0 418.7,754.7 421.2,759.4 423.8,763.7 426.3,767.6 428.9,771.3 431.4,774.8 434.0,778.2 436.5,781.4 439.1,784.8 441.7,788.4 444.2,791.5 446.8,793.8 449.3,795.6 451.9,797.2 454.4,799.0 457.0,800.7 459.5,802.4 462.1,804.4 464.7,806.5 467.2,808.6 469.8,810.4 472.3,812.2 474.9,813.7 477.4,815.0 480.0,816.1 482.5,817.4 485.1,818.9 487.6,820.5 490.2,821.9 492.8,823.2 495.3,824.2 497.9,825.1 500.4,826.0 503.0,826.8 505.5,827.7 508.1,828.6 510.6,829.7 513.2,830.9 515.8,832.2 518.3,833.3 520.9,834.4 523.4,835.5 526.0,836.4 528.5,837.2 531.1,837.9 533.6,838.5 536.2,839.0 538.7,839.5 541.3,839.9 543.9,840.1 546.4,840.4 549.0,840.5 551.5,840.7 554.1,840.7 556.6,840.6 559.2,840.5 561.7,840.3 564.3,840.1 566.9,839.8 569.4,839.5 572.0,839.4 574.5,839.3 577.1,839.2 579.6,839.1 582.2,839.0 584.7,838.8 587.3,838.7 589.8,838.6 592.4,838.5 595.0,838.5 597.5,838.6 600.1,838.7 602.6,838.9 605.2,839.3 607.7,839.7 610.3,840.1 612.8,840.5 615.4,840.8 618.0,841.1 620.5,841.4 623.1,841.5 625.6,841.7 628.2,841.8 630.7,841.8 633.3,841.9 635.8,841.9 638.4,841.9 640.9,841.9 643.5,841.9 646.1,841.9 648.6,841.9 651.2,841.9 653.7,841.9 656.3,841.9 658.8,841.9 661.4,841.9 663.9,841.9 666.5,841.9" fill="none" stroke="#0000ff" stroke-width="1.2" stroke-linejoin="round"/>
<path d="M388.0,776.0 390.6,767.6 393.1,752.7 395.7,742.5 398.2,735.6 400.8,731.1 403.3,730.7 405.9,732.2 408.4,734.9 411.0,738.4 413.6,742.3 416.1,746.5 418.7,751.2 421.2,756.1 423.8,760.5 426.3,764.5 428.9,768.3 431.4,771.9 434.0,775.2 436.5,778.4 439.1,781.8 441.7,785.3 444.2,788.6 446.8,791.0 449.3,792.8 451.9,794.5 454.4,796.3 457.0,798.0 459.5,799.8 462.1,801.7 464.7,803.8 467.2,805.9 469.8,807.7 472.3,809.4 474.9,810.9 477.4,812.2 480.0,813.2 482.5,814.5 485.1,816.0 487.6,817.6 490.2,819.2 492.8,820.6 495.3,821.7 497.9,822.8 500.4,823.7 503.0,824.7 505.5,825.7 508.1,826.7 510.6,827.9 513.2,829.2 515.8,830.6 518.3,831.8 520.9,833.0 523.4,834.2 526.0,835.2 528.5,836.1 531.1,836.9 533.6,837.6 536.2,838.2 538.7,838.7 541.3,839.1 543.9,839.5 546.4,839.7 549.0,839.8 551.5,839.9 554.1,839.8 556.6,839.7 559.2,839.4 561.7,839.2 564.3,838.9 566.9,838.5 569.4,838.1 572.0,837.9 574.5,837.7 577.1,837.5 579.6,837.4 582.2,837.4 584.7,837.3 587.3,837.3 589.8,837.2 592.4,837.3 595.0,837.4 597.5,837.6 600.1,837.8 602.6,838.1 605.2,838.5 607.7,839.0 610.3,839.5 612.8,840.0 615.4,840.4 618.0,840.8 620.5,841.1 623.1,841.3 625.6,841.5 628.2,841.6 630.7,841.6 633.3,841.7 635.8,841.7 638.4,841.7 640.9,841.7 643.5,841.8 646.1,841.8 648.6,841.7 651.2,841.7 653.7,841.7 656.3,841.7 658.8,841.7 661.4,841.7 663.9,841.7 666.5,841.7" fill="none" stroke="#0000ff" stroke-width="1.2" stroke-linejoin="round"/>
<path d="M388.0,778.2 390.6,770.7 393.1,756.1 395.7,746.0 398.2,739.3 400.8,734.7 403.3,734.0 405.9,735.2 408.4,737.5 411.0,740.7 413.6,744.6 416.1,748.6 418.7,753.2 421.2,758.0 423.8,762.3 426.3,766.2 428.9,770.0 431.4,773.5 434.0,776.8 436.5,780.0 439.1,783.3 441.7,786.8 444.2,790.1 446.8,792.4 449.3,794.3 451.9,795.9 454.4,797.7 457.0,799.4 459.5,801.2 462.1,803.1 464.7,805.2 467.2,807.3 469.8,809.2 472.3,811.0 474.9,812.7 477.4,814.0 480.0,815.2 482.5,816.5 485.1,818.1 487.6,819.7 490.2,821.3 492.8,822.7 495.3,823.9 497.9,824.9 500.4,825.9 503.0,826.8 505.5,827.7 508.1,828.7 510.6,829.9 513.2,831.2 515.8,832.5 518.3,833.7 520.9,834.8 523.4,835.9 526.0,837.0 528.5,837.8 531.1,838.5 533.6,839.1 536.2,839.6 538.7,840.0 541.3,840.3 543.9,840.5 546.4,840.7 549.0,840.8 551.5,840.9 554.1,840.9 556.6,840.8 559.2,840.6 561.7,840.3 564.3,840.0 566.9,839.6 569.4,839.2 572.0,838.9 574.5,838.6 577.1,838.3 579.6,838.1 582.2,837.8 584.7,837.6 587.3,837.5 589.8,837.3 592.4,837.3 595.0,837.3 597.5,837.4 600.1,837.5 602.6,837.8 605.2,838.2 607.7,838.7 610.3,839.1 612.8,839.5 615.4,840.0 618.0,840.4 620.5,840.7 623.1,841.0 625.6,841.2 628.2,841.4 630.7,841.5 633.3,841.6 635.8,841.7 638.4,841.8 640.9,841.9 643.5,841.9 646.1,841.9 648.6,841.9 651.2,841.9 653.7,841.9 656.3,841.9 658.8,841.9 661.4,841.9 663.9,841.9 666.5,841.8" fill="none" stroke="#0000ff" stroke-width="1.2" stroke-linejoin="round"/>
<path d="M388.0,777.0 390.6,762.3 393.1,749.3 395.7,741.7 398.2,735.6 400.8,733.8 403.3,734.5 405.9,736.5 408.4,739.5 411.0,743.3 413.6,747.5 416.1,752.0 418.7,757.0 421.2,761.8 423.8,766.0 426.3,770.1 428.9,773.8 431.4,777.4 434.0,780.8 436.5,784.1 439.1,787.6 441.7,791.1 444.2,793.9 446.8,795.8 449.3,797.4 451.9,798.9 454.4,800.5 457.0,802.0 459.5,803.7 462.1,805.5 464.7,807.5 467.2,809.3 469.8,811.0 472.3,812.5 474.9,813.8 477.4,814.9 480.0,815.9 482.5,817.2 485.1,818.7 487.6,820.3 490.2,821.7 492.8,822.9 495.3,823.9 497.9,824.8 500.4,825.7 503.0,826.6 505.5,827.6 508.1,828.7 510.6,830.0 513.2,831.3 515.8,832.6 518.3,833.8 520.9,835.0 523.4,836.2 526.0,837.2 528.5,838.0 531.1,838.8 533.6,839.4 536.2,839.9 538.7,840.3 541.3,840.7 543.9,840.9 546.4,841.0 549.0,841.2 551.5,841.3 554.1,841.3 556.6,841.2 559.2,841.0 561.7,840.9 564.3,840.6 566.9,840.2 569.4,839.9 572.0,839.7 574.5,839.5 577.1,839.3 579.6,839.1 582.2,838.9 584.7,838.6 587.3,838.4 589.8,838.2 592.4,838.2 595.0,838.2 597.5,838.2 600.1,838.3 602.6,838.6 605.2,839.1 607.7,839.5 610.3,839.9 612.8,840.3 615.4,840.6 618.0,841.0 620.5,841.3 623.1,841.5 625.6,841.6 628.2,841.7 630.7,841.8 633.3,841.9 635.8,841.9 638.4,841.9 640.9,842.0 643.5,842.0 646.1,841.9 648.6,841.9 651.2,841.9 653.7,841.9 656.3,841.9 658.8,841.9 661.4,841.8 663.9,841.8 666.5,841.8" fill="none" stroke="#0000ff" stroke-width="1.2" stroke-linejoin="round"/>
<path d="M388.0,776.9 390.6,766.3 393.1,752.0 395.7,742.9 398.2,736.5 400.8,733.0 403.3,733.0 405.9,734.7 408.4,737.5 411.0,741.0 413.6,745.0 416.1,749.3 418.7,754.1 421.2,758.9 423.8,763.2 426.3,767.2 428.9,770.9 431.4,774.4 434.0,777.8 436.5,781.0 439.1,784.3 441.7,787.8 444.2,790.9 446.8,793.1 449.3,794.8 451.9,796.4 454.4,798.1 457.0,799.8 459.5,801.6 462.1,803.5 464.7,805.7 467.2,807.7 469.8,809.6 472.3,811.3 474.9,812.9 477.4,814.2 480.0,815.3 482.5,816.7 485.1,818.3 487.6,820.0 490.2,821.6 492.8,822.9 495.3,824.1 497.9,825.1 500.4,826.0 503.0,826.9 505.5,827.9 508.1,828.9 510.6,830.1 513.2,831.4 515.8,832.6 518.3,833.8 520.9,835.0 523.4,836.0 526.0,837.0 528.5,837.8 531.1,838.5 533.6,839.0 536.2,839.5 538.7,839.9 541.3,840.2 543.9,840.4 546.4,840.5 549.0,840.7 551.5,840.8 554.1,840.7 556.6,840.6 559.2,840.4 561.7,840.2 564.3,839.9 566.9,839.5 569.4,839.1 572.0,838.8 574.5,838.6 577.1,838.4 579.6,838.2 582.2,838.1 584.7,837.9 587.3,837.8 589.8,837.7 592.4,837.7 595.0,837.8 597.5,837.9 600.1,838.0 602.6,838.3 605.2,838.7 607.7,839.1 610.3,839.6 612.8,840.0 615.4,840.3 618.0,840.7 620.5,841.0 623.1,841.2 625.6,841.3 628.2,841.4 630.7,841.5 633.3,841.6 635.8,841.6 638.4,841.7 640.9,841.7 643.5,841.7 646.1,841.7 648.6,841.7 651.2,841.7 653.7,841.7 656.3,841.7 658.8,841.7 661.4,841.7 663.9,841.7 666.5,841.8" fill="none" stroke="#0000ff" stroke-width="1.2" stroke-linejoin="round"/>
<path d="M388.0,772.1 390.6,757.9 393.1,747.8 395.7,741.4 398.2,737.0 400.8,736.6 403.3,737.8 405.9,740.1 408.4,743.2 411.0,747.0 413.6,751.0 416.1,755.6 418.7,760.4 421.2,764.7 423.8,768.7 426.3,772.4 428.9,775.9 431.4,779.3 434.0,782.5 436.5,785.8 439.1,789.4 441.7,792.6 444.2,795.1 446.8,796.9 449.3,798.6 451.9,800.2 454.4,801.9 457.0,803.5 459.5,805.4 462.1,807.4 464.7,809.4 467.2,811.3 469.8,813.0 472.3,814.5 474.9,815.8 477.4,816.8 480.0,818.0 482.5,819.4 485.1,820.9 487.6,822.4 490.2,823.6 492.8,824.6 495.3,825.4 497.9,826.2 500.4,826.9 503.0,827.7 505.5,828.6 508.1,829.6 510.6,830.7 513.2,831.9 515.8,833.0 518.3,834.1 520.9,835.1 523.4,836.1 526.0,836.9 528.5,837.6 531.1,838.2 533.6,838.7 536.2,839.2 538.7,839.6 541.3,839.9 543.9,840.1 546.4,840.3 549.0,840.4 551.5,840.4 554.1,840.4 556.6,840.2 559.2,840.0 561.7,839.8 564.3,839.4 566.9,839.1 569.4,838.8 572.0,838.6 574.5,838.4 577.1,838.3 579.6,838.2 582.2,838.0 584.7,837.8 587.3,837.7 589.8,837.7 592.4,837.7 595.0,837.7 597.5,837.8 600.1,838.0 602.6,838.4 605.2,838.8 607.7,839.2 610.3,839.6 612.8,840.0 615.4,840.4 618.0,840.7 620.5,840.9 623.1,841.1 625.6,841.3 628.2,841.4 630.7,841.5 633.3,841.6 635.8,841.7 638.4,841.8 640.9,841.8 643.5,841.9 646.1,841.9 648.6,841.9 651.2,841.9 653.7,841.9 656.3,841.9 658.8,841.9 661.4,841.9 663.9,841.9 666.5,841.9" fill="none" stroke="#0000ff" stroke-width="1.2" stroke-linejoin="round"/>
<path d="M387.5,838.0 390.1,837.2 392.6,836.5 395.2,835.7 397.7,835.0 400.3,834.3 402.9,833.6 405.4,832.9 408.0,832.3 410.5,831.6 413.1,831.0 415.7,830.3 418.2,829.7 420.8,829.0 423.3,828.3 425.9,827.7 428.5,827.1 431.0,826.5 433.6,826.0 436.1,825.4 438.7,824.9 441.3,824.4 443.8,824.0 446.4,823.5 448.9,823.1 451.5,822.7 454.1,822.3 456.6,822.0 459.2,821.6 461.7,821.3 464.3,821.0 466.8,820.7 469.4,820.4 472.0,820.1 474.5,819.8 477.1,819.5 479.6,819.1 482.2,818.8 484.8,818.4 487.3,818.1 489.9,817.7 492.4,817.3 495.0,816.9 497.6,816.4 500.1,815.9 502.7,815.5 505.2,815.1 507.8,814.7 510.4,814.4 512.9,814.1 515.5,813.8 518.0,813.6 520.6,813.3 523.2,813.1 525.7,812.8 528.3,812.4 530.8,812.1 533.4,811.6 536.0,811.2 538.5,810.8 541.1,810.4 543.6,810.0 546.2,809.7 548.8,809.4 551.3,809.0 553.9,808.7 556.4,808.4 559.0,808.1 561.6,807.8 564.1,807.4 566.7,807.0 569.2,806.6 571.8,806.2 574.4,805.8 576.9,805.4 579.5,805.1 582.0,804.7 584.6,804.4 587.2,804.1 589.7,803.8 592.3,803.5 594.8,803.3 597.4,803.1 599.9,803.0 602.5,802.8 605.1,802.7 607.6,802.6 610.2,802.5 612.7,802.5 615.3,802.6 617.9,802.7 620.4,803.0 623.0,803.3 625.5,803.7 628.1,804.1 630.7,804.6 633.2,805.2 635.8,805.8 638.3,806.6 640.9,807.5 643.5,808.6 646.0,809.6 648.6,810.8 651.1,812.1 653.7,813.4 656.3,814.8 658.8,816.1 661.4,817.4 663.9,818.8 666.5,820.2" fill="none" stroke="#ff0000" stroke-width="2.6" stroke-linejoin="round" stroke-linecap="round"/>
<path d="M387.5,837.9 390.1,837.1 392.6,836.3 395.2,835.5 397.7,834.7 400.3,834.0 402.9,833.3 405.4,832.6 408.0,832.0 410.5,831.4 413.1,830.8 415.7,830.2 418.2,829.6 420.8,829.1 423.3,828.7 425.9,828.2 428.5,827.8 431.0,827.5 433.6,827.1 436.1,826.6 438.7,826.2 441.3,825.7 443.8,825.3 446.4,824.9 448.9,824.5 451.5,824.1 454.1,823.7 456.6,823.4 459.2,823.0 461.7,822.7 464.3,822.4 466.8,822.1 469.4,821.8 472.0,821.6 474.5,821.3 477.1,820.9 479.6,820.6 482.2,820.3 484.8,819.9 487.3,819.6 489.9,819.2 492.4,818.8 495.0,818.3 497.6,817.8 500.1,817.3 502.7,816.7 505.2,816.2 507.8,815.7 510.4,815.3 512.9,814.8 515.5,814.4 518.0,814.0 520.6,813.6 523.2,813.2 525.7,812.8 528.3,812.4 530.8,811.9 533.4,811.4 536.0,810.9 538.5,810.4 541.1,809.9 543.6,809.4 546.2,809.0 548.8,808.6 551.3,808.3 553.9,807.9 556.4,807.6 559.0,807.3 561.6,807.0 564.1,806.7 566.7,806.4 569.2,806.0 571.8,805.7 574.4,805.4 576.9,805.1 579.5,804.8 582.0,804.6 584.6,804.3 587.2,804.1 589.7,803.9 592.3,803.7 594.8,803.5 597.4,803.4 599.9,803.4 602.5,803.3 605.1,803.2 607.6,803.2 610.2,803.2 612.7,803.2 615.3,803.3 617.9,803.6 620.4,803.9 623.0,804.3 625.5,804.7 628.1,805.1 630.7,805.6 633.2,806.2 635.8,806.8 638.3,807.6 640.9,808.4 643.5,809.4 646.0,810.4 648.6,811.4 651.1,812.6 653.7,813.8 656.3,815.0 658.8,816.2 661.4,817.5 663.9,818.7 666.5,820.0" fill="none" stroke="#ff0000" stroke-width="1.2" stroke-linejoin="round"/>
<path d="M387.5,839.0 390.1,838.2 392.6,837.5 395.2,836.8 397.7,836.1 400.3,835.4 402.9,834.7 405.4,834.0 408.0,833.4 410.5,832.8 413.1,832.1 415.7,831.5 418.2,830.8 420.8,830.1 423.3,829.3 425.9,828.5 428.5,827.7 431.0,826.9 433.6,826.1 436.1,825.4 438.7,824.8 441.3,824.3 443.8,823.8 446.4,823.3 448.9,822.8 451.5,822.4 454.1,822.0 456.6,821.7 459.2,821.3 461.7,821.0 464.3,820.8 466.8,820.6 469.4,820.4 472.0,820.2 474.5,820.0 477.1,819.7 479.6,819.5 482.2,819.3 484.8,819.0 487.3,818.8 489.9,818.6 492.4,818.4 495.0,818.1 497.6,817.8 500.1,817.4 502.7,817.1 505.2,816.7 507.8,816.4 510.4,816.0 512.9,815.6 515.5,815.2 518.0,814.8 520.6,814.3 523.2,813.7 525.7,813.1 528.3,812.5 530.8,811.8 533.4,811.2 536.0,810.4 538.5,809.7 541.1,809.1 543.6,808.5 546.2,807.9 548.8,807.4 551.3,807.1 553.9,806.9 556.4,806.7 559.0,806.7 561.6,806.6 564.1,806.6 566.7,806.5 569.2,806.5 571.8,806.4 574.4,806.2 576.9,806.1 579.5,806.1 582.0,806.0 584.6,805.9 587.2,805.8 589.7,805.7 592.3,805.6 594.8,805.5 597.4,805.4 599.9,805.2 602.5,805.1 605.1,805.0 607.6,804.9 610.2,804.8 612.7,804.8 615.3,804.9 617.9,805.1 620.4,805.4 623.0,805.7 625.5,806.0 628.1,806.4 630.7,806.9 633.2,807.5 635.8,808.1 638.3,808.9 640.9,809.8 643.5,810.8 646.0,811.9 648.6,813.1 651.1,814.3 653.7,815.7 656.3,817.0 658.8,818.4 661.4,819.7 663.9,821.1 666.5,822.5" fill="none" stroke="#ff0000" stroke-width="1.2" stroke-linejoin="round"/>
<path d="M387.5,838.5 390.1,837.8 392.6,837.1 395.2,836.4 397.7,835.7 400.3,835.0 402.9,834.4 405.4,833.7 408.0,833.1 410.5,832.5 413.1,831.9 415.7,831.3 418.2,830.6 420.8,829.9 423.3,829.2 425.9,828.4 428.5,827.7 431.0,826.9 433.6,826.2 436.1,825.5 438.7,824.9 441.3,824.3 443.8,823.8 446.4,823.3 448.9,822.8 451.5,822.4 454.1,822.0 456.6,821.6 459.2,821.2 461.7,820.9 464.3,820.6 466.8,820.3 469.4,820.0 472.0,819.8 474.5,819.5 477.1,819.3 479.6,819.1 482.2,818.8 484.8,818.5 487.3,818.3 489.9,818.0 492.4,817.7 495.0,817.4 497.6,817.1 500.1,816.8 502.7,816.4 505.2,816.1 507.8,815.9 510.4,815.6 512.9,815.4 515.5,815.2 518.0,814.9 520.6,814.6 523.2,814.2 525.7,813.8 528.3,813.3 530.8,812.8 533.4,812.2 536.0,811.7 538.5,811.1 541.1,810.6 543.6,810.1 546.2,809.7 548.8,809.3 551.3,809.0 553.9,808.6 556.4,808.3 559.0,808.1 561.6,807.8 564.1,807.5 566.7,807.1 569.2,806.8 571.8,806.5 574.4,806.2 576.9,805.9 579.5,805.7 582.0,805.4 584.6,805.2 587.2,805.0 589.7,804.7 592.3,804.5 594.8,804.3 597.4,804.1 599.9,804.0 602.5,803.8 605.1,803.6 607.6,803.5 610.2,803.4 612.7,803.4 615.3,803.4 617.9,803.6 620.4,803.8 623.0,804.1 625.5,804.4 628.1,804.8 630.7,805.3 633.2,805.9 635.8,806.5 638.3,807.3 640.9,808.3 643.5,809.3 646.0,810.4 648.6,811.6 651.1,812.9 653.7,814.3 656.3,815.7 658.8,817.1 661.4,818.6 663.9,820.0 666.5,821.4" fill="none" stroke="#ff0000" stroke-width="1.2" stroke-linejoin="round"/>
<path d="M387.5,837.4 390.1,836.7 392.6,836.0 395.2,835.3 397.7,834.6 400.3,834.0 402.9,833.4 405.4,832.7 408.0,832.1 410.5,831.5 413.1,830.9 415.7,830.2 418.2,829.5 420.8,828.8 423.3,828.1 425.9,827.4 428.5,826.8 431.0,826.2 433.6,825.6 436.1,825.0 438.7,824.5 441.3,823.9 443.8,823.4 446.4,822.9 448.9,822.5 451.5,822.0 454.1,821.6 456.6,821.2 459.2,820.9 461.7,820.5 464.3,820.2 466.8,819.9 469.4,819.7 472.0,819.4 474.5,819.1 477.1,818.9 479.6,818.6 482.2,818.3 484.8,818.1 487.3,817.9 489.9,817.6 492.4,817.3 495.0,817.0 497.6,816.7 500.1,816.4 502.7,816.0 505.2,815.8 507.8,815.6 510.4,815.4 512.9,815.3 515.5,815.1 518.0,815.0 520.6,814.9 523.2,814.7 525.7,814.5 528.3,814.1 530.8,813.8 533.4,813.4 536.0,812.9 538.5,812.5 541.1,812.1 543.6,811.8 546.2,811.5 548.8,811.1 551.3,810.9 553.9,810.6 556.4,810.3 559.0,810.0 561.6,809.7 564.1,809.3 566.7,809.0 569.2,808.6 571.8,808.2 574.4,807.8 576.9,807.5 579.5,807.1 582.0,806.7 584.6,806.3 587.2,805.8 589.7,805.3 592.3,804.9 594.8,804.4 597.4,804.0 599.9,803.7 602.5,803.3 605.1,803.0 607.6,802.7 610.2,802.4 612.7,802.2 615.3,802.1 617.9,802.1 620.4,802.2 623.0,802.4 625.5,802.6 628.1,802.9 630.7,803.3 633.2,803.7 635.8,804.3 638.3,805.0 640.9,805.8 643.5,806.8 646.0,807.8 648.6,809.0 651.1,810.2 653.7,811.6 656.3,813.0 658.8,814.4 661.4,815.9 663.9,817.4 666.5,818.9" fill="none" stroke="#ff0000" stroke-width="1.2" stroke-linejoin="round"/>
<path d="M387.5,838.6 390.1,837.8 392.6,837.0 395.2,836.2 397.7,835.4 400.3,834.7 402.9,833.9 405.4,833.2 408.0,832.5 410.5,831.8 413.1,831.1 415.7,830.4 418.2,829.7 420.8,829.0 423.3,828.4 425.9,827.7 428.5,827.1 431.0,826.6 433.6,826.1 436.1,825.6 438.7,825.1 441.3,824.6 443.8,824.2 446.4,823.8 448.9,823.4 451.5,823.0 454.1,822.6 456.6,822.2 459.2,821.9 461.7,821.6 464.3,821.2 466.8,820.9 469.4,820.6 472.0,820.3 474.5,820.0 477.1,819.6 479.6,819.2 482.2,818.9 484.8,818.5 487.3,818.1 489.9,817.7 492.4,817.3 495.0,816.8 497.6,816.4 500.1,815.9 502.7,815.5 505.2,815.1 507.8,814.8 510.4,814.6 512.9,814.5 515.5,814.4 518.0,814.3 520.6,814.3 523.2,814.2 525.7,814.1 528.3,813.9 530.8,813.6 533.4,813.3 536.0,812.9 538.5,812.5 541.1,812.1 543.6,811.7 546.2,811.2 548.8,810.8 551.3,810.4 553.9,809.9 556.4,809.4 559.0,808.9 561.6,808.4 564.1,807.8 566.7,807.2 569.2,806.6 571.8,805.8 574.4,805.2 576.9,804.5 579.5,804.0 582.0,803.5 584.6,803.0 587.2,802.7 589.7,802.3 592.3,802.1 594.8,801.9 597.4,801.8 599.9,801.7 602.5,801.6 605.1,801.6 607.6,801.6 610.2,801.7 612.7,801.8 615.3,802.0 617.9,802.4 620.4,802.8 623.0,803.3 625.5,803.9 628.1,804.5 630.7,805.2 633.2,806.0 635.8,806.9 638.3,807.8 640.9,808.9 643.5,810.1 646.0,811.3 648.6,812.5 651.1,813.8 653.7,815.2 656.3,816.5 658.8,817.8 661.4,819.1 663.9,820.4 666.5,821.6" fill="none" stroke="#ff0000" stroke-width="1.2" stroke-linejoin="round"/>
<path d="M387.5,837.6 390.1,836.9 392.6,836.2 395.2,835.5 397.7,834.8 400.3,834.1 402.9,833.5 405.4,832.9 408.0,832.3 410.5,831.7 413.1,831.1 415.7,830.6 418.2,830.0 420.8,829.5 423.3,829.0 425.9,828.5 428.5,827.9 431.0,827.4 433.6,826.9 436.1,826.3 438.7,825.8 441.3,825.3 443.8,824.8 446.4,824.3 448.9,823.8 451.5,823.4 454.1,823.0 456.6,822.6 459.2,822.2 461.7,821.8 464.3,821.5 466.8,821.2 469.4,820.9 472.0,820.5 474.5,820.2 477.1,819.8 479.6,819.4 482.2,819.0 484.8,818.6 487.3,818.2 489.9,817.7 492.4,817.2 495.0,816.7 497.6,816.1 500.1,815.6 502.7,815.0 505.2,814.5 507.8,814.0 510.4,813.6 512.9,813.3 515.5,813.0 518.0,812.7 520.6,812.3 523.2,812.0 525.7,811.7 528.3,811.3 530.8,810.9 533.4,810.4 536.0,810.0 538.5,809.6 541.1,809.2 543.6,808.9 546.2,808.6 548.8,808.4 551.3,808.2 553.9,808.0 556.4,807.9 559.0,807.7 561.6,807.5 564.1,807.3 566.7,807.0 569.2,806.7 571.8,806.3 574.4,806.0 576.9,805.6 579.5,805.3 582.0,805.0 584.6,804.7 587.2,804.4 589.7,804.1 592.3,803.8 594.8,803.5 597.4,803.3 599.9,803.1 602.5,802.9 605.1,802.7 607.6,802.6 610.2,802.4 612.7,802.4 615.3,802.4 617.9,802.5 620.4,802.7 623.0,803.0 625.5,803.3 628.1,803.6 630.7,804.1 633.2,804.6 635.8,805.2 638.3,805.9 640.9,806.8 643.5,807.8 646.0,808.8 648.6,810.0 651.1,811.2 653.7,812.5 656.3,813.9 658.8,815.2 661.4,816.6 663.9,818.0 666.5,819.4" fill="none" stroke="#ff0000" stroke-width="1.2" stroke-linejoin="round"/>
<path d="M387.5,837.7 390.1,837.0 392.6,836.2 395.2,835.5 397.7,834.9 400.3,834.2 402.9,833.6 405.4,833.0 408.0,832.4 410.5,831.8 413.1,831.3 415.7,830.7 418.2,830.2 420.8,829.6 423.3,829.1 425.9,828.5 428.5,828.0 431.0,827.4 433.6,826.9 436.1,826.3 438.7,825.7 441.3,825.2 443.8,824.6 446.4,824.1 448.9,823.6 451.5,823.2 454.1,822.8 456.6,822.3 459.2,821.9 461.7,821.6 464.3,821.2 466.8,820.8 469.4,820.5 472.0,820.1 474.5,819.7 477.1,819.3 479.6,818.8 482.2,818.3 484.8,817.8 487.3,817.3 489.9,816.8 492.4,816.3 495.0,815.7 497.6,815.2 500.1,814.6 502.7,814.0 505.2,813.5 507.8,813.1 510.4,812.7 512.9,812.4 515.5,812.2 518.0,811.9 520.6,811.6 523.2,811.4 525.7,811.0 528.3,810.7 530.8,810.3 533.4,809.9 536.0,809.5 538.5,809.2 541.1,808.9 543.6,808.6 546.2,808.4 548.8,808.3 551.3,808.2 553.9,808.1 556.4,808.0 559.0,807.9 561.6,807.7 564.1,807.5 566.7,807.2 569.2,806.8 571.8,806.5 574.4,806.1 576.9,805.8 579.5,805.5 582.0,805.1 584.6,804.8 587.2,804.5 589.7,804.1 592.3,803.8 594.8,803.5 597.4,803.3 599.9,803.1 602.5,802.9 605.1,802.7 607.6,802.5 610.2,802.4 612.7,802.3 615.3,802.3 617.9,802.4 620.4,802.6 623.0,802.9 625.5,803.2 628.1,803.5 630.7,804.0 633.2,804.5 635.8,805.1 638.3,805.9 640.9,806.7 643.5,807.7 646.0,808.8 648.6,809.9 651.1,811.2 653.7,812.5 656.3,813.9 658.8,815.3 661.4,816.6 663.9,818.1 666.5,819.5" fill="none" stroke="#ff0000" stroke-width="1.2" stroke-linejoin="round"/>
<path d="M387.5,837.0 390.1,836.2 392.6,835.4 395.2,834.7 397.7,833.9 400.3,833.2 402.9,832.5 405.4,831.9 408.0,831.2 410.5,830.5 413.1,829.9 415.7,829.2 418.2,828.5 420.8,827.8 423.3,827.1 425.9,826.5 428.5,825.9 431.0,825.3 433.6,824.7 436.1,824.2 438.7,823.7 441.3,823.2 443.8,822.7 446.4,822.3 448.9,821.8 451.5,821.4 454.1,821.0 456.6,820.6 459.2,820.3 461.7,819.9 464.3,819.6 466.8,819.3 469.4,819.0 472.0,818.7 474.5,818.4 477.1,818.0 479.6,817.7 482.2,817.4 484.8,817.1 487.3,816.8 489.9,816.4 492.4,816.1 495.0,815.8 497.6,815.4 500.1,815.0 502.7,814.7 505.2,814.3 507.8,814.1 510.4,813.8 512.9,813.6 515.5,813.5 518.0,813.3 520.6,813.1 523.2,812.9 525.7,812.7 528.3,812.4 530.8,812.1 533.4,811.7 536.0,811.3 538.5,810.9 541.1,810.5 543.6,810.1 546.2,809.7 548.8,809.3 551.3,808.9 553.9,808.5 556.4,808.0 559.0,807.5 561.6,807.0 564.1,806.5 566.7,805.9 569.2,805.3 571.8,804.8 574.4,804.2 576.9,803.7 579.5,803.3 582.0,802.8 584.6,802.4 587.2,802.1 589.7,801.7 592.3,801.4 594.8,801.2 597.4,801.0 599.9,800.8 602.5,800.6 605.1,800.5 607.6,800.4 610.2,800.3 612.7,800.2 615.3,800.3 617.9,800.4 620.4,800.7 623.0,801.0 625.5,801.3 628.1,801.8 630.7,802.3 633.2,802.9 635.8,803.5 638.3,804.3 640.9,805.2 643.5,806.3 646.0,807.3 648.6,808.5 651.1,809.8 653.7,811.1 656.3,812.5 658.8,813.8 661.4,815.2 663.9,816.6 666.5,818.0" fill="none" stroke="#ff0000" stroke-width="1.2" stroke-linejoin="round"/>
<path d="M387.5,837.8 390.1,836.9 392.6,836.1 395.2,835.2 397.7,834.4 400.3,833.7 402.9,832.9 405.4,832.2 408.0,831.6 410.5,830.9 413.1,830.3 415.7,829.6 418.2,829.0 420.8,828.3 423.3,827.7 425.9,827.1 428.5,826.6 431.0,826.1 433.6,825.6 436.1,825.1 438.7,824.6 441.3,824.2 443.8,823.7 446.4,823.3 448.9,822.9 451.5,822.5 454.1,822.1 456.6,821.7 459.2,821.3 461.7,820.9 464.3,820.5 466.8,820.2 469.4,819.8 472.0,819.4 474.5,818.9 477.1,818.5 479.6,818.0 482.2,817.5 484.8,817.1 487.3,816.6 489.9,816.2 492.4,815.7 495.0,815.3 497.6,814.8 500.1,814.4 502.7,814.0 505.2,813.6 507.8,813.3 510.4,813.1 512.9,812.9 515.5,812.8 518.0,812.7 520.6,812.5 523.2,812.4 525.7,812.2 528.3,811.9 530.8,811.6 533.4,811.2 536.0,810.8 538.5,810.4 541.1,810.0 543.6,809.6 546.2,809.1 548.8,808.6 551.3,808.1 553.9,807.7 556.4,807.2 559.0,806.6 561.6,806.1 564.1,805.6 566.7,805.1 569.2,804.6 571.8,804.2 574.4,803.8 576.9,803.4 579.5,803.1 582.0,802.9 584.6,802.7 587.2,802.5 589.7,802.4 592.3,802.3 594.8,802.2 597.4,802.3 599.9,802.3 602.5,802.3 605.1,802.3 607.6,802.4 610.2,802.5 612.7,802.6 615.3,802.8 617.9,803.2 620.4,803.6 623.0,804.1 625.5,804.5 628.1,805.1 630.7,805.7 633.2,806.3 635.8,807.0 638.3,807.8 640.9,808.7 643.5,809.7 646.0,810.6 648.6,811.7 651.1,812.8 653.7,814.0 656.3,815.2 658.8,816.3 661.4,817.5 663.9,818.6 666.5,819.8" fill="none" stroke="#ff0000" stroke-width="1.2" stroke-linejoin="round"/>
<rect x="617.75" y="715.5" width="48" height="44" fill="#fff" stroke="#8a8a8a" stroke-width="1"/>
<line x1="619" y1="726.25" x2="628.25" y2="726.25" stroke="#0000ff" stroke-width="1.6"/>
<line x1="619" y1="748" x2="628.25" y2="748" stroke="#ff0000" stroke-width="1.6"/>
<text x="629" y="728.4" font-family='"Liberation Sans", sans-serif' font-size="12.5">f<tspan font-size="9.5" dy="6.19">λ</tspan><tspan font-size="9.5">|</tspan><tspan font-size="9.5" dx="0.95">U</tspan><tspan font-size="12.5" dy="-6.19" dx="0">(λ</tspan>)</text>
<text x="629" y="749.8" font-family='"Liberation Sans", sans-serif' font-size="12.5">f<tspan font-size="9.5" dy="6.19">λ</tspan><tspan font-size="9.5">|</tspan><tspan font-size="9.5" dx="0.95">L</tspan><tspan font-size="12.5" dy="-6.19" dx="0">(λ</tspan>)</text>
<text x="384.8" y="845.49" font-size="9.4" text-anchor="end" font-family='"Liberation Sans", sans-serif' >0</text>
<text x="384.8" y="823.99" font-size="9.4" text-anchor="end" font-family='"Liberation Sans", sans-serif' >2</text>
<text x="384.8" y="802.49" font-size="9.4" text-anchor="end" font-family='"Liberation Sans", sans-serif' >4</text>
<text x="384.8" y="780.99" font-size="9.4" text-anchor="end" font-family='"Liberation Sans", sans-serif' >6</text>
<text x="384.8" y="759.49" font-size="9.4" text-anchor="end" font-family='"Liberation Sans", sans-serif' >8</text>
<text x="384.8" y="737.99" font-size="9.4" text-anchor="end" font-family='"Liberation Sans", sans-serif' >10</text>
<text x="384.8" y="716.49" font-size="9.4" text-anchor="end" font-family='"Liberation Sans", sans-serif' >12</text>
<text x="386.5" y="851.72" font-size="9.6" text-anchor="middle" font-family='"Liberation Sans", sans-serif' >0</text>
<text x="421.56" y="851.72" font-size="9.6" text-anchor="middle" font-family='"Liberation Sans", sans-serif' >0.05</text>
<text x="456.62" y="851.72" font-size="9.6" text-anchor="middle" font-family='"Liberation Sans", sans-serif' >0.1</text>
<text x="491.69" y="851.72" font-size="9.6" text-anchor="middle" font-family='"Liberation Sans", sans-serif' >0.15</text>
<text x="526.75" y="851.72" font-size="9.6" text-anchor="middle" font-family='"Liberation Sans", sans-serif' >0.2</text>
<text x="561.81" y="851.72" font-size="9.6" text-anchor="middle" font-family='"Liberation Sans", sans-serif' >0.25</text>
<text x="596.88" y="851.72" font-size="9.6" text-anchor="middle" font-family='"Liberation Sans", sans-serif' >0.3</text>
<text x="631.94" y="851.72" font-size="9.6" text-anchor="middle" font-family='"Liberation Sans", sans-serif' >0.35</text>
<text x="667" y="851.72" font-size="9.6" text-anchor="middle" font-family='"Liberation Sans", sans-serif' >0.4</text>
<text transform="translate(370.1,777.7) rotate(-90)" font-size="13" text-anchor="middle" font-family='"Liberation Sans", sans-serif'>pdf</text>
<text x="526" y="862.5" font-size="11" text-anchor="middle" font-family='"Liberation Sans", sans-serif' >λ</text>
<text x="502.76" y="889.04" font-size="26" text-anchor="start" font-family='"Liberation Serif", serif' >(h)</text>
</svg>
</body></html>
